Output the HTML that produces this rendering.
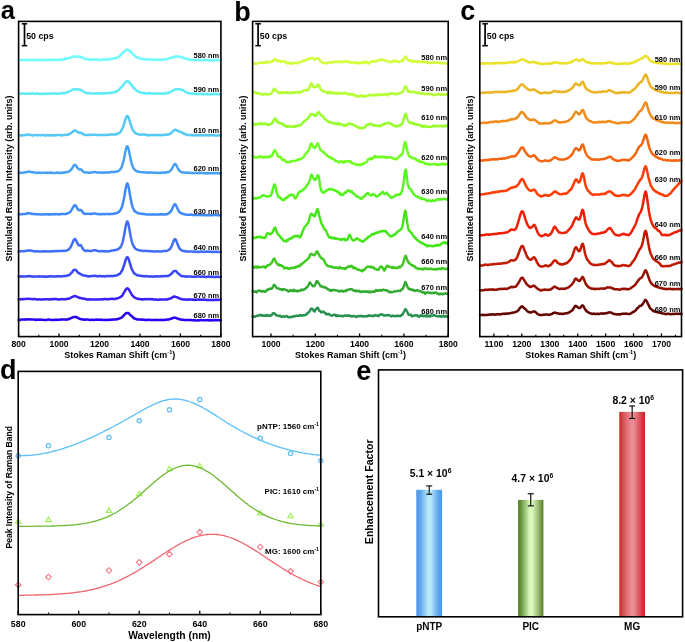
<!DOCTYPE html>
<html><head><meta charset="utf-8"><style>
html,body{margin:0;padding:0;background:#fff;width:685px;height:642px;overflow:hidden}
svg{display:block;will-change:transform;font-family:"Liberation Sans", sans-serif}
</style></head><body>
<svg width="685" height="642" viewBox="0 0 685 642">
<rect width="685" height="642" fill="#fff"/>
<g fill="none" stroke-linejoin="round" stroke-linecap="round">
<path d="M18.6,60.1 L19.1,60.0 L19.6,60.0 L20.1,59.9 L20.6,60.0 L21.1,59.9 L21.6,59.9 L22.1,59.9 L22.6,59.9 L23.1,59.9 L23.6,60.0 L24.1,60.0 L24.6,59.9 L25.1,59.9 L25.6,60.0 L26.1,60.0 L26.6,60.0 L27.1,59.9 L27.6,59.9 L28.1,59.9 L28.6,60.0 L29.1,60.1 L29.6,60.2 L30.1,60.1 L30.6,59.8 L31.1,59.7 L31.6,59.9 L32.1,60.0 L32.6,60.0 L33.1,60.1 L33.6,60.1 L34.1,59.9 L34.6,59.9 L35.1,60.1 L35.6,60.1 L36.1,60.0 L36.6,59.9 L37.1,59.8 L37.6,59.9 L38.1,60.0 L38.6,59.9 L39.1,60.0 L39.6,60.0 L40.1,60.0 L40.6,60.0 L41.1,60.0 L41.6,60.0 L42.1,60.0 L42.6,60.1 L43.1,60.1 L43.6,60.0 L44.1,60.0 L44.6,60.0 L45.1,60.1 L45.6,60.1 L46.1,60.1 L46.6,60.1 L47.1,60.0 L47.6,59.9 L48.1,59.9 L48.6,59.9 L49.1,59.9 L49.6,59.8 L50.1,59.7 L50.6,59.8 L51.1,59.8 L51.6,59.9 L52.1,59.8 L52.7,59.7 L53.2,59.9 L53.7,59.9 L54.2,59.8 L54.7,59.8 L55.2,59.9 L55.7,60.0 L56.2,60.0 L56.7,59.8 L57.2,59.7 L57.7,59.8 L58.2,59.9 L58.7,59.9 L59.2,59.8 L59.7,59.6 L60.2,59.6 L60.7,59.7 L61.2,59.7 L61.7,59.6 L62.2,59.5 L62.7,59.5 L63.2,59.5 L63.7,59.5 L64.2,59.3 L64.7,59.2 L65.2,59.1 L65.7,59.0 L66.2,58.7 L66.7,58.7 L67.2,58.6 L67.7,58.4 L68.2,58.3 L68.7,58.3 L69.2,58.1 L69.7,57.9 L70.2,57.9 L70.7,57.7 L71.2,57.4 L71.7,57.1 L72.2,56.9 L72.7,56.9 L73.2,56.7 L73.7,56.5 L74.2,56.5 L74.7,56.5 L75.2,56.5 L75.7,56.5 L76.2,56.5 L76.7,56.5 L77.2,56.6 L77.7,56.6 L78.2,56.8 L78.7,56.8 L79.2,56.5 L79.7,56.5 L80.2,56.9 L80.7,57.1 L81.2,57.0 L81.7,57.1 L82.2,57.4 L82.7,57.7 L83.2,58.0 L83.7,58.4 L84.2,58.6 L84.7,58.9 L85.2,59.0 L85.7,59.1 L86.2,59.2 L86.7,59.3 L87.2,59.3 L87.7,59.4 L88.2,59.3 L88.7,59.5 L89.2,59.6 L89.7,59.6 L90.2,59.6 L90.7,59.6 L91.2,59.5 L91.7,59.6 L92.2,59.7 L92.7,59.7 L93.2,59.6 L93.7,59.7 L94.2,59.6 L94.7,59.6 L95.2,59.7 L95.7,59.8 L96.2,59.8 L96.7,59.7 L97.2,59.6 L97.7,59.6 L98.2,59.7 L98.7,59.8 L99.2,59.7 L99.7,59.7 L100.2,59.8 L100.7,59.9 L101.2,59.9 L101.7,59.9 L102.2,59.7 L102.7,59.5 L103.2,59.5 L103.7,59.6 L104.2,59.5 L104.7,59.5 L105.2,59.4 L105.7,59.3 L106.2,59.4 L106.7,59.4 L107.2,59.4 L107.7,59.4 L108.2,59.5 L108.7,59.4 L109.2,59.2 L109.7,59.2 L110.2,59.3 L110.7,59.1 L111.2,58.8 L111.7,58.7 L112.2,58.7 L112.7,58.6 L113.2,58.6 L113.7,58.6 L114.2,58.6 L114.7,58.4 L115.2,58.1 L115.7,57.9 L116.2,57.8 L116.7,57.8 L117.2,57.6 L117.7,57.2 L118.2,56.9 L118.7,56.8 L119.2,56.4 L119.8,55.8 L120.3,55.3 L120.8,54.8 L121.3,54.2 L121.8,53.8 L122.3,53.4 L122.8,52.8 L123.3,52.3 L123.8,51.8 L124.3,51.3 L124.8,50.9 L125.3,50.5 L125.8,50.1 L126.3,49.8 L126.8,49.7 L127.3,49.6 L127.8,49.8 L128.3,50.0 L128.8,50.2 L129.3,50.6 L129.8,51.0 L130.3,51.4 L130.8,51.8 L131.3,52.3 L131.8,52.9 L132.3,53.4 L132.8,53.8 L133.3,54.3 L133.8,54.9 L134.3,55.4 L134.8,55.7 L135.3,56.0 L135.8,56.5 L136.3,56.9 L136.8,57.1 L137.3,57.4 L137.8,57.6 L138.3,57.7 L138.8,58.0 L139.3,58.2 L139.8,58.3 L140.3,58.4 L140.8,58.7 L141.3,58.7 L141.8,58.7 L142.3,58.9 L142.8,59.0 L143.3,59.1 L143.8,59.1 L144.3,59.2 L144.8,59.2 L145.3,59.2 L145.8,59.3 L146.3,59.2 L146.8,59.3 L147.3,59.4 L147.8,59.5 L148.3,59.5 L148.8,59.5 L149.3,59.5 L149.8,59.4 L150.3,59.5 L150.8,59.6 L151.3,59.6 L151.8,59.6 L152.3,59.7 L152.8,59.7 L153.3,59.6 L153.8,59.7 L154.3,59.6 L154.8,59.7 L155.3,59.9 L155.8,59.8 L156.3,59.7 L156.8,59.9 L157.3,59.7 L157.8,59.7 L158.3,59.8 L158.8,59.8 L159.3,59.7 L159.8,59.7 L160.3,59.7 L160.8,59.7 L161.3,59.7 L161.8,59.7 L162.3,59.5 L162.8,59.4 L163.3,59.4 L163.8,59.5 L164.3,59.5 L164.8,59.5 L165.3,59.3 L165.8,59.1 L166.3,59.0 L166.8,58.9 L167.3,58.9 L167.8,58.9 L168.3,58.6 L168.8,58.4 L169.3,58.2 L169.8,58.2 L170.3,58.1 L170.8,58.0 L171.3,57.9 L171.8,57.7 L172.3,57.5 L172.8,57.4 L173.3,57.2 L173.8,57.0 L174.3,56.9 L174.8,56.7 L175.3,56.5 L175.8,56.5 L176.3,56.4 L176.8,56.4 L177.3,56.4 L177.8,56.5 L178.3,56.7 L178.8,56.7 L179.3,56.6 L179.8,56.7 L180.3,56.8 L180.8,57.0 L181.3,57.0 L181.8,57.2 L182.3,57.5 L182.8,57.7 L183.3,58.0 L183.8,58.1 L184.3,58.2 L184.8,58.3 L185.3,58.4 L185.8,58.7 L186.3,58.9 L186.8,59.1 L187.4,59.2 L187.9,59.1 L188.4,59.3 L188.9,59.4 L189.4,59.5 L189.9,59.5 L190.4,59.7 L190.9,59.8 L191.4,59.9 L191.9,59.8 L192.4,59.8 L192.9,59.8 L193.4,60.0 L193.9,59.9 L194.4,59.9 L194.9,60.0 L195.4,60.1 L195.9,60.1 L196.4,60.0 L196.9,60.0 L197.4,60.0 L197.9,60.1 L198.4,60.1 L198.9,60.2 L199.4,60.2 L199.9,60.1 L200.4,60.1 L200.9,60.2 L201.4,60.3 L201.9,60.2 L202.4,60.0 L202.9,60.1 L203.4,60.3 L203.9,60.2 L204.4,59.9 L204.9,60.0 L205.4,60.1 L205.9,60.0 L206.4,60.0 L206.9,60.2 L207.4,60.2 L207.9,60.2 L208.4,60.3 L208.9,60.4 L209.4,60.4 L209.9,60.3 L210.4,60.3 L210.9,60.2 L211.4,60.3 L211.9,60.4 L212.4,60.4 L212.9,60.3 L213.4,60.3 L213.9,60.4 L214.4,60.4 L214.9,60.3 L215.4,60.2 L215.9,60.0 L216.4,60.0 L216.9,60.1 L217.4,60.2 L217.9,60.2 L218.4,60.2 L218.9,60.2 L219.4,60.1 L219.9,60.4 L220.4,60.5 L220.9,60.3" stroke="#6ffcfd" stroke-width="2.50"/>
<path d="M18.6,93.6 L19.1,93.6 L19.6,93.7 L20.1,93.7 L20.6,93.7 L21.1,93.7 L21.6,93.6 L22.1,93.6 L22.6,93.6 L23.1,93.7 L23.6,93.8 L24.1,93.8 L24.6,93.7 L25.1,93.7 L25.6,93.8 L26.1,93.7 L26.6,93.7 L27.1,93.8 L27.6,93.7 L28.1,93.7 L28.6,93.5 L29.1,93.5 L29.6,93.6 L30.1,93.8 L30.6,93.7 L31.1,93.5 L31.6,93.5 L32.1,93.6 L32.6,93.6 L33.1,93.5 L33.6,93.5 L34.1,93.6 L34.6,93.7 L35.1,93.7 L35.6,93.8 L36.1,93.8 L36.6,93.7 L37.1,93.6 L37.6,93.6 L38.1,93.6 L38.6,93.7 L39.1,93.9 L39.6,94.0 L40.1,93.9 L40.6,93.8 L41.1,93.8 L41.6,93.8 L42.1,93.9 L42.6,93.9 L43.1,93.8 L43.6,94.0 L44.1,93.8 L44.6,93.7 L45.1,93.8 L45.6,93.8 L46.1,93.8 L46.6,93.7 L47.1,93.8 L47.6,93.8 L48.1,93.9 L48.6,93.8 L49.1,93.6 L49.6,93.5 L50.1,93.5 L50.6,93.6 L51.1,93.6 L51.6,93.5 L52.1,93.5 L52.7,93.6 L53.2,93.6 L53.7,93.4 L54.2,93.4 L54.7,93.5 L55.2,93.5 L55.7,93.6 L56.2,93.8 L56.7,93.8 L57.2,93.6 L57.7,93.6 L58.2,93.7 L58.7,93.7 L59.2,93.5 L59.7,93.4 L60.2,93.5 L60.7,93.6 L61.2,93.6 L61.7,93.3 L62.2,93.2 L62.7,93.1 L63.2,93.0 L63.7,92.9 L64.2,93.0 L64.7,92.9 L65.2,93.0 L65.7,92.8 L66.2,92.5 L66.7,92.3 L67.2,92.2 L67.7,92.2 L68.2,92.0 L68.7,91.8 L69.2,91.6 L69.7,91.3 L70.2,90.9 L70.7,90.7 L71.2,90.4 L71.7,90.1 L72.2,89.8 L72.7,89.7 L73.2,89.6 L73.7,89.5 L74.2,89.3 L74.7,89.2 L75.2,89.1 L75.7,89.2 L76.2,89.4 L76.7,89.3 L77.2,89.4 L77.7,89.4 L78.2,89.4 L78.7,89.5 L79.2,89.6 L79.7,89.7 L80.2,89.8 L80.7,89.9 L81.2,90.2 L81.7,90.6 L82.2,91.0 L82.7,91.3 L83.2,91.5 L83.7,91.8 L84.2,92.0 L84.7,92.2 L85.2,92.5 L85.7,92.8 L86.2,92.9 L86.7,93.1 L87.2,93.2 L87.7,93.2 L88.2,93.1 L88.7,93.0 L89.2,93.2 L89.7,93.4 L90.2,93.5 L90.7,93.6 L91.2,93.6 L91.7,93.6 L92.2,93.6 L92.7,93.5 L93.2,93.5 L93.7,93.4 L94.2,93.4 L94.7,93.4 L95.2,93.5 L95.7,93.5 L96.2,93.4 L96.7,93.4 L97.2,93.4 L97.7,93.4 L98.2,93.3 L98.7,93.2 L99.2,93.4 L99.7,93.3 L100.2,93.3 L100.7,93.4 L101.2,93.4 L101.7,93.4 L102.2,93.5 L102.7,93.5 L103.2,93.3 L103.7,93.2 L104.2,93.3 L104.7,93.3 L105.2,93.4 L105.7,93.4 L106.2,93.3 L106.7,93.1 L107.2,92.9 L107.7,93.0 L108.2,93.2 L108.7,93.2 L109.2,93.1 L109.7,93.0 L110.2,93.0 L110.7,92.9 L111.2,92.8 L111.7,92.6 L112.2,92.6 L112.7,92.6 L113.2,92.6 L113.7,92.6 L114.2,92.4 L114.7,92.2 L115.2,91.9 L115.7,91.5 L116.2,91.4 L116.7,91.4 L117.2,91.0 L117.7,90.6 L118.2,90.3 L118.7,90.0 L119.2,89.5 L119.8,88.8 L120.3,88.2 L120.8,87.7 L121.3,87.2 L121.8,86.7 L122.3,86.1 L122.8,85.5 L123.3,84.8 L123.8,84.4 L124.3,83.6 L124.8,82.9 L125.3,82.4 L125.8,81.9 L126.3,81.5 L126.8,81.3 L127.3,81.3 L127.8,81.4 L128.3,81.5 L128.8,81.7 L129.3,82.3 L129.8,82.9 L130.3,83.5 L130.8,84.1 L131.3,84.9 L131.8,85.5 L132.3,86.1 L132.8,86.7 L133.3,87.4 L133.8,87.9 L134.3,88.4 L134.8,88.9 L135.3,89.3 L135.8,89.9 L136.3,90.4 L136.8,90.7 L137.3,91.1 L137.8,91.4 L138.3,91.5 L138.8,91.7 L139.3,92.0 L139.8,92.2 L140.3,92.4 L140.8,92.6 L141.3,92.5 L141.8,92.7 L142.3,92.9 L142.8,93.0 L143.3,93.0 L143.8,92.9 L144.3,93.0 L144.8,93.1 L145.3,93.2 L145.8,93.5 L146.3,93.5 L146.8,93.5 L147.3,93.4 L147.8,93.3 L148.3,93.3 L148.8,93.4 L149.3,93.3 L149.8,93.3 L150.3,93.3 L150.8,93.4 L151.3,93.5 L151.8,93.4 L152.3,93.5 L152.8,93.7 L153.3,93.7 L153.8,93.5 L154.3,93.4 L154.8,93.4 L155.3,93.6 L155.8,93.7 L156.3,93.6 L156.8,93.6 L157.3,93.4 L157.8,93.4 L158.3,93.5 L158.8,93.5 L159.3,93.5 L159.8,93.5 L160.3,93.6 L160.8,93.6 L161.3,93.6 L161.8,93.7 L162.3,93.7 L162.8,93.7 L163.3,93.6 L163.8,93.6 L164.3,93.6 L164.8,93.5 L165.3,93.4 L165.8,93.4 L166.3,93.3 L166.8,93.2 L167.3,93.0 L167.8,92.8 L168.3,92.9 L168.8,92.8 L169.3,92.6 L169.8,92.3 L170.3,92.1 L170.8,91.8 L171.3,91.5 L171.8,91.2 L172.3,91.0 L172.8,90.7 L173.3,90.4 L173.8,90.1 L174.3,90.0 L174.8,89.7 L175.3,89.5 L175.8,89.4 L176.3,89.4 L176.8,89.3 L177.3,89.3 L177.8,89.2 L178.3,89.2 L178.8,89.1 L179.3,89.2 L179.8,89.4 L180.3,89.4 L180.8,89.5 L181.3,89.7 L181.8,89.9 L182.3,90.0 L182.8,90.1 L183.3,90.5 L183.8,90.8 L184.3,91.0 L184.8,91.4 L185.3,91.7 L185.8,92.0 L186.3,92.2 L186.8,92.5 L187.4,92.8 L187.9,93.0 L188.4,93.1 L188.9,93.2 L189.4,93.3 L189.9,93.3 L190.4,93.4 L190.9,93.6 L191.4,93.7 L191.9,93.7 L192.4,93.7 L192.9,93.6 L193.4,93.5 L193.9,93.7 L194.4,93.8 L194.9,93.8 L195.4,93.9 L195.9,94.0 L196.4,94.0 L196.9,94.0 L197.4,94.1 L197.9,94.1 L198.4,93.9 L198.9,93.8 L199.4,94.0 L199.9,93.9 L200.4,93.9 L200.9,94.1 L201.4,94.2 L201.9,94.0 L202.4,94.0 L202.9,94.1 L203.4,94.4 L203.9,94.4 L204.4,94.2 L204.9,94.0 L205.4,93.9 L205.9,93.9 L206.4,94.1 L206.9,94.3 L207.4,94.3 L207.9,94.1 L208.4,94.1 L208.9,94.2 L209.4,94.2 L209.9,94.3 L210.4,94.4 L210.9,94.5 L211.4,94.3 L211.9,94.1 L212.4,93.9 L212.9,94.1 L213.4,94.2 L213.9,94.2 L214.4,94.1 L214.9,94.1 L215.4,94.0 L215.9,94.0 L216.4,94.1 L216.9,94.2 L217.4,94.1 L217.9,94.2 L218.4,94.2 L218.9,94.2 L219.4,94.2 L219.9,94.3 L220.4,94.3 L220.9,94.3" stroke="#5eebf8" stroke-width="2.50"/>
<path d="M18.6,135.2 L19.1,135.3 L19.6,135.3 L20.1,135.3 L20.6,135.4 L21.1,135.5 L21.6,135.4 L22.1,135.3 L22.6,135.3 L23.1,135.3 L23.6,135.2 L24.1,135.2 L24.6,135.1 L25.1,135.0 L25.6,134.9 L26.1,134.9 L26.6,134.9 L27.1,134.7 L27.6,134.5 L28.1,134.6 L28.6,134.6 L29.1,134.7 L29.6,134.9 L30.1,135.0 L30.6,135.1 L31.1,135.0 L31.6,135.1 L32.1,135.2 L32.6,135.4 L33.1,135.4 L33.6,135.4 L34.1,135.3 L34.6,135.1 L35.1,135.0 L35.6,134.9 L36.1,135.0 L36.6,135.1 L37.1,135.2 L37.6,135.4 L38.1,135.4 L38.6,135.2 L39.1,135.1 L39.6,135.1 L40.1,135.1 L40.6,135.2 L41.1,135.2 L41.6,135.2 L42.1,135.0 L42.6,134.9 L43.1,135.0 L43.6,135.2 L44.1,135.3 L44.6,135.4 L45.1,135.4 L45.6,135.4 L46.1,135.3 L46.6,135.2 L47.1,135.1 L47.6,135.1 L48.1,135.3 L48.6,135.4 L49.1,135.3 L49.6,135.3 L50.1,135.4 L50.6,135.4 L51.1,135.3 L51.6,135.3 L52.1,135.4 L52.7,135.3 L53.2,135.1 L53.7,135.1 L54.2,135.2 L54.7,135.2 L55.2,135.4 L55.7,135.3 L56.2,135.2 L56.7,135.0 L57.2,135.0 L57.7,135.0 L58.2,135.1 L58.7,135.0 L59.2,134.9 L59.7,134.9 L60.2,135.1 L60.7,135.4 L61.2,135.4 L61.7,135.2 L62.2,135.2 L62.7,135.3 L63.2,135.2 L63.7,135.0 L64.2,134.9 L64.7,134.8 L65.2,134.8 L65.7,134.9 L66.2,134.9 L66.7,134.7 L67.2,134.7 L67.7,134.7 L68.2,134.7 L68.7,134.5 L69.2,134.1 L69.7,133.8 L70.2,133.5 L70.7,133.3 L71.2,132.9 L71.7,132.6 L72.2,132.2 L72.7,131.7 L73.2,131.1 L73.7,130.8 L74.2,130.7 L74.7,130.6 L75.2,130.7 L75.7,130.8 L76.2,130.9 L76.7,131.3 L77.2,131.7 L77.7,132.0 L78.2,132.4 L78.7,132.6 L79.2,132.7 L79.7,132.6 L80.2,132.7 L80.7,132.9 L81.2,133.0 L81.7,133.1 L82.2,133.5 L82.7,133.8 L83.2,134.2 L83.7,134.5 L84.2,134.6 L84.7,134.8 L85.2,134.9 L85.7,135.0 L86.2,135.0 L86.7,134.9 L87.2,135.0 L87.7,134.9 L88.2,134.8 L88.7,134.8 L89.2,134.8 L89.7,135.0 L90.2,135.1 L90.7,135.0 L91.2,134.8 L91.7,134.7 L92.2,134.7 L92.7,134.7 L93.2,134.7 L93.7,134.7 L94.2,134.8 L94.7,134.7 L95.2,134.8 L95.7,134.8 L96.2,134.8 L96.7,134.9 L97.2,135.1 L97.7,135.0 L98.2,135.0 L98.7,135.2 L99.2,135.2 L99.7,135.1 L100.2,135.1 L100.7,135.1 L101.2,135.1 L101.7,135.0 L102.2,135.1 L102.7,135.1 L103.2,135.0 L103.7,135.0 L104.2,134.9 L104.7,134.8 L105.2,134.9 L105.7,134.9 L106.2,134.9 L106.7,135.0 L107.2,135.0 L107.7,134.9 L108.2,134.8 L108.7,134.8 L109.2,134.7 L109.7,134.7 L110.2,134.6 L110.7,134.5 L111.2,134.4 L111.7,134.4 L112.2,134.3 L112.7,134.5 L113.2,134.5 L113.7,134.5 L114.2,134.6 L114.7,134.6 L115.2,134.4 L115.7,134.2 L116.2,134.2 L116.7,134.2 L117.2,133.9 L117.7,133.7 L118.2,133.4 L118.7,133.2 L119.2,133.0 L119.8,132.7 L120.3,132.2 L120.8,131.4 L121.3,130.5 L121.8,129.7 L122.3,128.7 L122.8,127.6 L123.3,126.3 L123.8,124.8 L124.3,123.0 L124.8,121.3 L125.3,119.7 L125.8,118.2 L126.3,117.0 L126.8,116.1 L127.3,115.9 L127.8,116.2 L128.3,117.1 L128.8,118.3 L129.3,119.9 L129.8,121.5 L130.3,123.1 L130.8,124.7 L131.3,126.3 L131.8,127.6 L132.3,128.8 L132.8,129.8 L133.3,130.7 L133.8,131.3 L134.3,131.9 L134.8,132.5 L135.3,133.0 L135.8,133.3 L136.3,133.4 L136.8,133.6 L137.3,133.9 L137.8,134.1 L138.3,134.3 L138.8,134.3 L139.3,134.3 L139.8,134.5 L140.3,134.8 L140.8,134.7 L141.3,134.6 L141.8,134.6 L142.3,134.5 L142.8,134.5 L143.3,134.5 L143.8,134.6 L144.3,134.6 L144.8,134.6 L145.3,134.7 L145.8,134.7 L146.3,134.8 L146.8,134.9 L147.3,135.2 L147.8,135.3 L148.3,135.3 L148.8,135.4 L149.3,135.3 L149.8,135.2 L150.3,135.1 L150.8,135.1 L151.3,135.1 L151.8,135.1 L152.3,135.1 L152.8,135.2 L153.3,135.2 L153.8,135.0 L154.3,135.0 L154.8,135.1 L155.3,135.0 L155.8,135.0 L156.3,135.2 L156.8,135.2 L157.3,135.0 L157.8,135.0 L158.3,135.0 L158.8,134.9 L159.3,135.0 L159.8,135.2 L160.3,135.2 L160.8,135.2 L161.3,134.9 L161.8,134.9 L162.3,135.0 L162.8,135.0 L163.3,134.9 L163.8,134.9 L164.3,134.8 L164.8,134.9 L165.3,134.7 L165.8,134.7 L166.3,134.8 L166.8,134.7 L167.3,134.6 L167.8,134.6 L168.3,134.4 L168.8,134.3 L169.3,134.1 L169.8,134.0 L170.3,133.8 L170.8,133.4 L171.3,132.9 L171.8,132.4 L172.3,131.9 L172.8,131.3 L173.3,130.9 L173.8,130.4 L174.3,129.9 L174.8,129.9 L175.3,129.8 L175.8,129.8 L176.3,130.1 L176.8,130.5 L177.3,130.8 L177.8,130.9 L178.3,131.1 L178.8,131.3 L179.3,131.5 L179.8,131.6 L180.3,131.8 L180.8,131.9 L181.3,132.1 L181.8,132.4 L182.3,132.9 L182.8,133.1 L183.3,133.3 L183.8,133.7 L184.3,133.8 L184.8,134.0 L185.3,134.2 L185.8,134.4 L186.3,134.7 L186.8,134.9 L187.4,134.9 L187.9,134.9 L188.4,134.9 L188.9,135.0 L189.4,135.1 L189.9,135.1 L190.4,135.1 L190.9,135.1 L191.4,135.2 L191.9,135.1 L192.4,135.2 L192.9,135.3 L193.4,135.1 L193.9,135.1 L194.4,135.2 L194.9,135.2 L195.4,135.3 L195.9,135.2 L196.4,135.2 L196.9,135.1 L197.4,135.1 L197.9,135.3 L198.4,135.4 L198.9,135.3 L199.4,135.3 L199.9,135.2 L200.4,135.2 L200.9,135.4 L201.4,135.4 L201.9,135.3 L202.4,135.3 L202.9,135.3 L203.4,135.3 L203.9,135.4 L204.4,135.3 L204.9,135.2 L205.4,135.1 L205.9,135.1 L206.4,135.1 L206.9,135.2 L207.4,135.3 L207.9,135.4 L208.4,135.3 L208.9,135.3 L209.4,135.3 L209.9,135.2 L210.4,135.3 L210.9,135.4 L211.4,135.2 L211.9,135.1 L212.4,135.0 L212.9,135.2 L213.4,135.3 L213.9,135.2 L214.4,135.3 L214.9,135.5 L215.4,135.6 L215.9,135.5 L216.4,135.4 L216.9,135.5 L217.4,135.6 L217.9,135.4 L218.4,135.3 L218.9,135.3 L219.4,135.3 L219.9,135.4 L220.4,135.4 L220.9,135.3" stroke="#55c8f5" stroke-width="2.50"/>
<path d="M18.6,172.8 L19.1,172.9 L19.6,172.9 L20.1,172.9 L20.6,172.8 L21.1,172.7 L21.6,172.7 L22.1,172.7 L22.6,172.7 L23.1,172.7 L23.6,172.6 L24.1,172.5 L24.6,172.3 L25.1,172.3 L25.6,172.2 L26.1,172.1 L26.6,172.0 L27.1,171.9 L27.6,171.9 L28.1,171.8 L28.6,171.6 L29.1,171.7 L29.6,171.6 L30.1,171.8 L30.6,172.0 L31.1,172.1 L31.6,172.1 L32.1,172.3 L32.6,172.2 L33.1,172.1 L33.6,172.2 L34.1,172.3 L34.6,172.6 L35.1,172.8 L35.6,172.8 L36.1,172.8 L36.6,172.7 L37.1,172.8 L37.6,172.9 L38.1,172.8 L38.6,172.7 L39.1,172.6 L39.6,172.7 L40.1,172.9 L40.6,173.0 L41.1,172.9 L41.6,172.7 L42.1,172.8 L42.6,172.8 L43.1,172.8 L43.6,172.7 L44.1,172.7 L44.6,172.7 L45.1,172.7 L45.6,172.7 L46.1,172.7 L46.6,172.6 L47.1,172.9 L47.6,172.9 L48.1,172.7 L48.6,172.8 L49.1,172.9 L49.6,172.8 L50.1,172.7 L50.6,172.6 L51.1,172.6 L51.6,172.8 L52.1,172.8 L52.7,172.9 L53.2,172.9 L53.7,173.0 L54.2,172.9 L54.7,173.0 L55.2,173.0 L55.7,172.9 L56.2,172.8 L56.7,172.7 L57.2,172.6 L57.7,172.7 L58.2,172.9 L58.7,172.8 L59.2,172.8 L59.7,172.9 L60.2,172.9 L60.7,172.9 L61.2,172.8 L61.7,172.8 L62.2,172.8 L62.7,172.8 L63.2,172.8 L63.7,172.6 L64.2,172.6 L64.7,172.6 L65.2,172.4 L65.7,172.3 L66.2,172.3 L66.7,172.1 L67.2,171.9 L67.7,171.9 L68.2,172.0 L68.7,171.7 L69.2,171.3 L69.7,170.8 L70.2,170.5 L70.7,170.1 L71.2,169.5 L71.7,168.9 L72.2,168.2 L72.7,167.4 L73.2,166.6 L73.7,165.7 L74.2,165.1 L74.7,164.9 L75.2,165.0 L75.7,165.3 L76.2,166.0 L76.7,166.7 L77.2,167.4 L77.7,168.2 L78.2,168.7 L78.7,169.2 L79.2,169.5 L79.7,169.4 L80.2,169.3 L80.7,169.4 L81.2,169.6 L81.7,170.0 L82.2,170.6 L82.7,171.2 L83.2,171.7 L83.7,172.0 L84.2,172.2 L84.7,172.3 L85.2,172.5 L85.7,172.5 L86.2,172.5 L86.7,172.6 L87.2,172.5 L87.7,172.5 L88.2,172.5 L88.7,172.7 L89.2,172.8 L89.7,172.7 L90.2,172.7 L90.7,172.6 L91.2,172.6 L91.7,172.6 L92.2,172.4 L92.7,172.3 L93.2,172.2 L93.7,172.1 L94.2,172.1 L94.7,172.1 L95.2,172.0 L95.7,172.1 L96.2,172.3 L96.7,172.3 L97.2,172.5 L97.7,172.5 L98.2,172.6 L98.7,172.6 L99.2,172.6 L99.7,172.7 L100.2,172.7 L100.7,172.6 L101.2,172.6 L101.7,172.5 L102.2,172.5 L102.7,172.5 L103.2,172.7 L103.7,172.8 L104.2,172.8 L104.7,172.6 L105.2,172.6 L105.7,172.5 L106.2,172.3 L106.7,172.3 L107.2,172.5 L107.7,172.5 L108.2,172.3 L108.7,172.4 L109.2,172.4 L109.7,172.3 L110.2,172.2 L110.7,172.2 L111.2,172.1 L111.7,172.1 L112.2,172.1 L112.7,172.1 L113.2,172.1 L113.7,172.0 L114.2,171.9 L114.7,171.9 L115.2,171.7 L115.7,171.7 L116.2,171.6 L116.7,171.5 L117.2,171.4 L117.7,171.3 L118.2,171.1 L118.7,170.8 L119.2,170.4 L119.8,169.9 L120.3,169.3 L120.8,168.5 L121.3,167.6 L121.8,166.6 L122.3,165.2 L122.8,163.5 L123.3,161.7 L123.8,159.7 L124.3,157.3 L124.8,154.7 L125.3,152.2 L125.8,150.0 L126.3,147.9 L126.8,146.5 L127.3,146.3 L127.8,146.8 L128.3,148.0 L128.8,150.0 L129.3,152.5 L129.8,155.1 L130.3,157.5 L130.8,159.8 L131.3,162.0 L131.8,164.0 L132.3,165.6 L132.8,166.8 L133.3,167.9 L133.8,168.6 L134.3,169.2 L134.8,169.9 L135.3,170.3 L135.8,170.6 L136.3,170.9 L136.8,171.3 L137.3,171.5 L137.8,171.6 L138.3,171.6 L138.8,171.8 L139.3,171.8 L139.8,172.0 L140.3,172.0 L140.8,172.2 L141.3,172.2 L141.8,172.3 L142.3,172.3 L142.8,172.3 L143.3,172.2 L143.8,172.1 L144.3,172.2 L144.8,172.5 L145.3,172.4 L145.8,172.4 L146.3,172.5 L146.8,172.6 L147.3,172.6 L147.8,172.7 L148.3,172.7 L148.8,172.6 L149.3,172.6 L149.8,172.6 L150.3,172.7 L150.8,172.6 L151.3,172.6 L151.8,172.6 L152.3,172.6 L152.8,172.7 L153.3,172.7 L153.8,172.7 L154.3,172.7 L154.8,172.7 L155.3,172.8 L155.8,172.8 L156.3,172.7 L156.8,172.8 L157.3,172.9 L157.8,172.8 L158.3,172.7 L158.8,172.9 L159.3,172.9 L159.8,172.8 L160.3,172.8 L160.8,172.9 L161.3,172.8 L161.8,172.7 L162.3,172.7 L162.8,172.5 L163.3,172.6 L163.8,172.7 L164.3,172.6 L164.8,172.6 L165.3,172.7 L165.8,172.6 L166.3,172.4 L166.8,172.3 L167.3,172.2 L167.8,171.9 L168.3,171.9 L168.8,171.9 L169.3,171.6 L169.8,171.2 L170.3,170.9 L170.8,170.3 L171.3,169.6 L171.8,168.8 L172.3,167.9 L172.8,167.0 L173.3,166.0 L173.8,165.2 L174.3,164.5 L174.8,164.0 L175.3,164.0 L175.8,164.6 L176.3,165.3 L176.8,166.3 L177.3,167.3 L177.8,168.3 L178.3,169.1 L178.8,169.8 L179.3,170.5 L179.8,171.1 L180.3,171.5 L180.8,171.8 L181.3,171.9 L181.8,172.1 L182.3,172.4 L182.8,172.5 L183.3,172.6 L183.8,172.5 L184.3,172.5 L184.8,172.7 L185.3,172.8 L185.8,172.7 L186.3,172.7 L186.8,172.7 L187.4,172.8 L187.9,172.8 L188.4,172.6 L188.9,172.7 L189.4,172.9 L189.9,172.9 L190.4,172.9 L190.9,172.8 L191.4,172.9 L191.9,172.9 L192.4,172.9 L192.9,173.1 L193.4,173.1 L193.9,173.0 L194.4,173.0 L194.9,173.0 L195.4,173.0 L195.9,173.1 L196.4,173.1 L196.9,173.1 L197.4,173.0 L197.9,173.2 L198.4,173.2 L198.9,173.1 L199.4,172.8 L199.9,172.8 L200.4,173.0 L200.9,173.0 L201.4,173.0 L201.9,173.1 L202.4,173.1 L202.9,173.1 L203.4,173.2 L203.9,173.3 L204.4,173.3 L204.9,173.3 L205.4,173.2 L205.9,173.3 L206.4,173.4 L206.9,173.2 L207.4,173.3 L207.9,173.4 L208.4,173.3 L208.9,173.3 L209.4,173.3 L209.9,173.3 L210.4,173.2 L210.9,173.1 L211.4,173.2 L211.9,173.2 L212.4,173.3 L212.9,173.3 L213.4,173.1 L213.9,173.0 L214.4,173.2 L214.9,173.3 L215.4,173.2 L215.9,173.1 L216.4,173.0 L216.9,173.1 L217.4,173.2 L217.9,173.2 L218.4,173.1 L218.9,173.3 L219.4,173.4 L219.9,173.4 L220.4,173.3 L220.9,173.2" stroke="#46a0f5" stroke-width="2.50"/>
<path d="M18.6,214.3 L19.1,214.2 L19.6,214.2 L20.1,214.3 L20.6,214.3 L21.1,214.3 L21.6,214.3 L22.1,214.3 L22.6,214.2 L23.1,214.1 L23.6,214.1 L24.1,214.0 L24.6,214.0 L25.1,214.1 L25.6,214.0 L26.1,213.8 L26.6,213.7 L27.1,213.4 L27.6,213.1 L28.1,213.1 L28.6,213.2 L29.1,213.3 L29.6,213.4 L30.1,213.5 L30.6,213.6 L31.1,213.6 L31.6,213.8 L32.1,214.1 L32.6,214.1 L33.1,213.9 L33.6,213.8 L34.1,214.0 L34.6,214.1 L35.1,214.2 L35.6,214.2 L36.1,214.2 L36.6,214.2 L37.1,214.2 L37.6,214.2 L38.1,214.2 L38.6,214.3 L39.1,214.3 L39.6,214.3 L40.1,214.5 L40.6,214.6 L41.1,214.5 L41.6,214.3 L42.1,214.2 L42.6,214.3 L43.1,214.4 L43.6,214.5 L44.1,214.4 L44.6,214.3 L45.1,214.3 L45.6,214.4 L46.1,214.3 L46.6,214.1 L47.1,214.2 L47.6,214.2 L48.1,214.3 L48.6,214.4 L49.1,214.3 L49.6,214.3 L50.1,214.5 L50.6,214.4 L51.1,214.3 L51.6,214.3 L52.1,214.3 L52.7,214.3 L53.2,214.4 L53.7,214.4 L54.2,214.2 L54.7,214.1 L55.2,214.2 L55.7,214.3 L56.2,214.2 L56.7,214.2 L57.2,214.2 L57.7,214.2 L58.2,214.2 L58.7,214.3 L59.2,214.4 L59.7,214.4 L60.2,214.3 L60.7,214.2 L61.2,213.9 L61.7,213.9 L62.2,214.0 L62.7,214.0 L63.2,213.9 L63.7,213.9 L64.2,213.9 L64.7,214.0 L65.2,214.0 L65.7,213.9 L66.2,213.8 L66.7,213.6 L67.2,213.5 L67.7,213.4 L68.2,213.2 L68.7,212.9 L69.2,212.6 L69.7,212.3 L70.2,211.8 L70.7,211.1 L71.2,210.5 L71.7,209.7 L72.2,208.8 L72.7,207.9 L73.2,207.0 L73.7,206.2 L74.2,205.6 L74.7,205.2 L75.2,205.2 L75.7,205.7 L76.2,206.4 L76.7,207.3 L77.2,208.4 L77.7,209.0 L78.2,209.5 L78.7,210.0 L79.2,210.2 L79.7,210.3 L80.2,210.2 L80.7,210.0 L81.2,210.2 L81.7,210.7 L82.2,211.5 L82.7,212.4 L83.2,213.0 L83.7,213.4 L84.2,213.5 L84.7,213.6 L85.2,213.8 L85.7,214.0 L86.2,214.0 L86.7,213.8 L87.2,213.8 L87.7,213.8 L88.2,213.8 L88.7,213.8 L89.2,213.8 L89.7,214.0 L90.2,213.9 L90.7,213.8 L91.2,213.8 L91.7,213.9 L92.2,213.9 L92.7,213.7 L93.2,213.6 L93.7,213.5 L94.2,213.4 L94.7,213.4 L95.2,213.6 L95.7,213.7 L96.2,213.8 L96.7,213.8 L97.2,214.0 L97.7,214.2 L98.2,214.2 L98.7,214.1 L99.2,214.1 L99.7,214.2 L100.2,214.2 L100.7,214.3 L101.2,214.4 L101.7,214.2 L102.2,214.0 L102.7,213.9 L103.2,214.0 L103.7,214.2 L104.2,214.3 L104.7,214.2 L105.2,214.1 L105.7,214.0 L106.2,214.0 L106.7,214.0 L107.2,214.0 L107.7,214.0 L108.2,214.2 L108.7,214.2 L109.2,214.1 L109.7,214.0 L110.2,214.0 L110.7,214.1 L111.2,214.1 L111.7,214.1 L112.2,214.1 L112.7,214.1 L113.2,213.7 L113.7,213.6 L114.2,213.7 L114.7,213.6 L115.2,213.3 L115.7,213.3 L116.2,213.3 L116.7,213.1 L117.2,212.6 L117.7,212.4 L118.2,212.4 L118.7,212.1 L119.2,211.5 L119.8,210.9 L120.3,210.3 L120.8,209.5 L121.3,208.4 L121.8,207.4 L122.3,206.0 L122.8,203.9 L123.3,201.6 L123.8,199.3 L124.3,196.7 L124.8,193.7 L125.3,190.5 L125.8,187.9 L126.3,185.6 L126.8,184.0 L127.3,183.4 L127.8,184.1 L128.3,185.7 L128.8,188.0 L129.3,190.8 L129.8,193.8 L130.3,196.7 L130.8,199.4 L131.3,201.9 L131.8,204.1 L132.3,206.0 L132.8,207.5 L133.3,208.7 L133.8,209.7 L134.3,210.6 L134.8,211.3 L135.3,211.6 L135.8,211.9 L136.3,212.2 L136.8,212.3 L137.3,212.8 L137.8,213.2 L138.3,213.4 L138.8,213.6 L139.3,213.6 L139.8,213.6 L140.3,213.6 L140.8,213.7 L141.3,213.8 L141.8,213.9 L142.3,213.9 L142.8,213.8 L143.3,213.9 L143.8,214.0 L144.3,214.0 L144.8,214.2 L145.3,214.3 L145.8,214.3 L146.3,214.4 L146.8,214.6 L147.3,214.5 L147.8,214.5 L148.3,214.5 L148.8,214.4 L149.3,214.4 L149.8,214.4 L150.3,214.4 L150.8,214.4 L151.3,214.5 L151.8,214.4 L152.3,214.4 L152.8,214.4 L153.3,214.3 L153.8,214.5 L154.3,214.5 L154.8,214.4 L155.3,214.5 L155.8,214.4 L156.3,214.4 L156.8,214.4 L157.3,214.4 L157.8,214.5 L158.3,214.5 L158.8,214.3 L159.3,214.3 L159.8,214.4 L160.3,214.4 L160.8,214.3 L161.3,214.2 L161.8,214.1 L162.3,214.4 L162.8,214.6 L163.3,214.5 L163.8,214.4 L164.3,214.4 L164.8,214.4 L165.3,214.3 L165.8,214.3 L166.3,214.4 L166.8,214.2 L167.3,214.1 L167.8,213.9 L168.3,213.5 L168.8,213.1 L169.3,212.8 L169.8,212.5 L170.3,212.0 L170.8,211.4 L171.3,210.7 L171.8,209.6 L172.3,208.5 L172.8,207.5 L173.3,206.5 L173.8,205.5 L174.3,204.6 L174.8,204.2 L175.3,204.3 L175.8,205.0 L176.3,206.0 L176.8,207.1 L177.3,208.2 L177.8,209.3 L178.3,210.3 L178.8,211.1 L179.3,211.7 L179.8,212.3 L180.3,212.8 L180.8,213.1 L181.3,213.2 L181.8,213.4 L182.3,213.8 L182.8,214.0 L183.3,214.1 L183.8,214.1 L184.3,214.2 L184.8,214.4 L185.3,214.4 L185.8,214.5 L186.3,214.7 L186.8,214.8 L187.4,214.8 L187.9,214.8 L188.4,214.7 L188.9,214.7 L189.4,214.7 L189.9,214.7 L190.4,214.8 L190.9,214.7 L191.4,214.6 L191.9,214.7 L192.4,214.9 L192.9,215.0 L193.4,215.0 L193.9,215.0 L194.4,215.1 L194.9,215.0 L195.4,215.0 L195.9,215.0 L196.4,215.2 L196.9,215.1 L197.4,215.0 L197.9,214.9 L198.4,215.0 L198.9,215.0 L199.4,215.1 L199.9,215.1 L200.4,215.0 L200.9,214.9 L201.4,215.1 L201.9,215.3 L202.4,215.2 L202.9,215.1 L203.4,215.2 L203.9,215.1 L204.4,215.1 L204.9,215.1 L205.4,215.3 L205.9,215.3 L206.4,215.1 L206.9,215.1 L207.4,215.2 L207.9,215.2 L208.4,215.2 L208.9,215.3 L209.4,215.3 L209.9,215.3 L210.4,215.3 L210.9,215.3 L211.4,215.2 L211.9,215.2 L212.4,215.3 L212.9,215.1 L213.4,215.0 L213.9,215.1 L214.4,215.1 L214.9,215.0 L215.4,215.0 L215.9,214.9 L216.4,214.9 L216.9,215.1 L217.4,215.2 L217.9,215.2 L218.4,215.2 L218.9,215.2 L219.4,215.2 L219.9,215.2 L220.4,215.3 L220.9,215.3" stroke="#408af8" stroke-width="2.50"/>
<path d="M18.6,251.4 L19.1,251.3 L19.6,251.2 L20.1,251.2 L20.6,251.3 L21.1,251.2 L21.6,251.2 L22.1,251.2 L22.6,251.2 L23.1,251.2 L23.6,251.2 L24.1,251.2 L24.6,251.2 L25.1,251.1 L25.6,250.9 L26.1,250.8 L26.6,250.8 L27.1,250.7 L27.6,250.5 L28.1,250.6 L28.6,250.7 L29.1,250.5 L29.6,250.4 L30.1,250.6 L30.6,250.6 L31.1,250.6 L31.6,250.8 L32.1,251.0 L32.6,251.0 L33.1,251.1 L33.6,251.1 L34.1,251.2 L34.6,251.4 L35.1,251.4 L35.6,251.3 L36.1,251.3 L36.6,251.4 L37.1,251.3 L37.6,251.2 L38.1,251.4 L38.6,251.5 L39.1,251.4 L39.6,251.4 L40.1,251.4 L40.6,251.6 L41.1,251.6 L41.6,251.5 L42.1,251.4 L42.6,251.3 L43.1,251.3 L43.6,251.4 L44.1,251.4 L44.6,251.3 L45.1,251.2 L45.6,251.2 L46.1,251.3 L46.6,251.3 L47.1,251.5 L47.6,251.5 L48.1,251.4 L48.6,251.4 L49.1,251.4 L49.6,251.3 L50.1,251.3 L50.6,251.4 L51.1,251.4 L51.6,251.3 L52.1,251.3 L52.7,251.2 L53.2,251.2 L53.7,251.2 L54.2,251.4 L54.7,251.3 L55.2,251.0 L55.7,250.9 L56.2,251.0 L56.7,251.1 L57.2,251.2 L57.7,251.2 L58.2,251.0 L58.7,251.0 L59.2,251.0 L59.7,251.1 L60.2,251.1 L60.7,251.1 L61.2,251.1 L61.7,251.0 L62.2,250.8 L62.7,250.8 L63.2,250.8 L63.7,250.9 L64.2,250.9 L64.7,250.8 L65.2,250.8 L65.7,250.7 L66.2,250.7 L66.7,250.5 L67.2,250.2 L67.7,250.0 L68.2,249.8 L68.7,249.5 L69.2,248.9 L69.7,248.3 L70.2,247.7 L70.7,246.8 L71.2,245.9 L71.7,244.8 L72.2,243.7 L72.7,242.4 L73.2,241.2 L73.7,240.1 L74.2,239.4 L74.7,239.0 L75.2,239.0 L75.7,239.7 L76.2,240.7 L76.7,241.7 L77.2,242.9 L77.7,243.8 L78.2,244.5 L78.7,245.1 L79.2,245.4 L79.7,245.3 L80.2,245.1 L80.7,245.2 L81.2,245.7 L81.7,246.7 L82.2,247.7 L82.7,248.5 L83.2,249.3 L83.7,249.8 L84.2,250.2 L84.7,250.5 L85.2,250.9 L85.7,250.9 L86.2,250.8 L86.7,250.7 L87.2,250.6 L87.7,250.7 L88.2,250.7 L88.7,250.8 L89.2,250.9 L89.7,250.9 L90.2,250.9 L90.7,251.0 L91.2,251.0 L91.7,251.0 L92.2,250.8 L92.7,250.6 L93.2,250.4 L93.7,250.2 L94.2,250.2 L94.7,250.2 L95.2,250.2 L95.7,250.4 L96.2,250.5 L96.7,250.6 L97.2,250.9 L97.7,251.0 L98.2,251.1 L98.7,251.2 L99.2,251.2 L99.7,251.2 L100.2,251.2 L100.7,251.2 L101.2,251.2 L101.7,251.0 L102.2,251.1 L102.7,251.2 L103.2,251.2 L103.7,251.4 L104.2,251.4 L104.7,251.3 L105.2,251.3 L105.7,251.2 L106.2,251.2 L106.7,251.2 L107.2,251.3 L107.7,251.4 L108.2,251.4 L108.7,251.3 L109.2,251.2 L109.7,251.1 L110.2,251.1 L110.7,250.9 L111.2,250.8 L111.7,250.6 L112.2,250.5 L112.7,250.5 L113.2,250.4 L113.7,250.2 L114.2,250.2 L114.7,250.2 L115.2,250.1 L115.7,249.9 L116.2,249.8 L116.7,249.8 L117.2,249.5 L117.7,249.3 L118.2,249.1 L118.7,248.7 L119.2,248.3 L119.8,247.9 L120.3,247.5 L120.8,246.8 L121.3,245.7 L121.8,244.5 L122.3,243.1 L122.8,241.2 L123.3,239.1 L123.8,236.8 L124.3,234.0 L124.8,231.2 L125.3,228.4 L125.8,225.8 L126.3,223.6 L126.8,222.0 L127.3,221.4 L127.8,222.0 L128.3,223.6 L128.8,226.0 L129.3,228.8 L129.8,231.6 L130.3,234.4 L130.8,237.0 L131.3,239.3 L131.8,241.3 L132.3,243.1 L132.8,244.5 L133.3,245.7 L133.8,246.6 L134.3,247.3 L134.8,248.0 L135.3,248.5 L135.8,248.9 L136.3,249.3 L136.8,249.6 L137.3,249.7 L137.8,249.9 L138.3,250.1 L138.8,250.2 L139.3,250.3 L139.8,250.4 L140.3,250.5 L140.8,250.6 L141.3,250.8 L141.8,250.8 L142.3,250.8 L142.8,250.9 L143.3,251.0 L143.8,250.9 L144.3,250.9 L144.8,250.9 L145.3,250.8 L145.8,250.8 L146.3,250.9 L146.8,250.9 L147.3,251.0 L147.8,251.1 L148.3,251.2 L148.8,251.2 L149.3,251.1 L149.8,251.1 L150.3,251.2 L150.8,251.2 L151.3,251.2 L151.8,251.3 L152.3,251.3 L152.8,251.3 L153.3,251.4 L153.8,251.5 L154.3,251.6 L154.8,251.6 L155.3,251.5 L155.8,251.4 L156.3,251.3 L156.8,251.3 L157.3,251.3 L157.8,251.3 L158.3,251.4 L158.8,251.5 L159.3,251.4 L159.8,251.5 L160.3,251.6 L160.8,251.5 L161.3,251.4 L161.8,251.3 L162.3,251.3 L162.8,251.2 L163.3,251.1 L163.8,251.1 L164.3,251.1 L164.8,251.0 L165.3,251.0 L165.8,251.0 L166.3,251.0 L166.8,250.8 L167.3,250.6 L167.8,250.3 L168.3,250.1 L168.8,249.8 L169.3,249.4 L169.8,249.1 L170.3,248.5 L170.8,247.6 L171.3,246.8 L171.8,245.7 L172.3,244.4 L172.8,243.1 L173.3,241.7 L173.8,240.6 L174.3,239.6 L174.8,239.2 L175.3,239.3 L175.8,239.9 L176.3,240.9 L176.8,242.1 L177.3,243.4 L177.8,244.8 L178.3,246.1 L178.8,247.2 L179.3,248.1 L179.8,248.8 L180.3,249.3 L180.8,249.6 L181.3,250.0 L181.8,250.5 L182.3,250.8 L182.8,250.9 L183.3,251.1 L183.8,251.1 L184.3,251.1 L184.8,251.2 L185.3,251.4 L185.8,251.3 L186.3,251.3 L186.8,251.5 L187.4,251.6 L187.9,251.6 L188.4,251.5 L188.9,251.4 L189.4,251.5 L189.9,251.5 L190.4,251.5 L190.9,251.6 L191.4,251.6 L191.9,251.6 L192.4,251.6 L192.9,251.6 L193.4,251.7 L193.9,251.8 L194.4,251.7 L194.9,251.6 L195.4,251.7 L195.9,251.8 L196.4,251.8 L196.9,251.9 L197.4,251.9 L197.9,251.8 L198.4,251.9 L198.9,251.8 L199.4,251.8 L199.9,251.9 L200.4,251.8 L200.9,251.7 L201.4,251.6 L201.9,251.6 L202.4,251.7 L202.9,251.7 L203.4,251.8 L203.9,251.8 L204.4,251.7 L204.9,251.7 L205.4,251.8 L205.9,251.7 L206.4,251.5 L206.9,251.6 L207.4,251.8 L207.9,251.8 L208.4,251.7 L208.9,251.6 L209.4,251.7 L209.9,251.8 L210.4,251.8 L210.9,251.7 L211.4,251.8 L211.9,251.9 L212.4,251.9 L212.9,251.9 L213.4,252.1 L213.9,251.8 L214.4,251.7 L214.9,251.8 L215.4,252.0 L215.9,251.9 L216.4,251.7 L216.9,251.7 L217.4,251.8 L217.9,251.9 L218.4,252.0 L218.9,251.9 L219.4,251.9 L219.9,251.8 L220.4,251.8 L220.9,251.9" stroke="#406ef8" stroke-width="2.50"/>
<path d="M18.6,276.5 L19.1,276.5 L19.6,276.5 L20.1,276.5 L20.6,276.4 L21.1,276.3 L21.6,276.4 L22.1,276.5 L22.6,276.4 L23.1,276.4 L23.6,276.5 L24.1,276.5 L24.6,276.4 L25.1,276.4 L25.6,276.5 L26.1,276.4 L26.6,276.3 L27.1,276.3 L27.6,276.2 L28.1,276.2 L28.6,276.2 L29.1,276.2 L29.6,276.0 L30.1,276.1 L30.6,276.2 L31.1,276.4 L31.6,276.5 L32.1,276.5 L32.6,276.4 L33.1,276.5 L33.6,276.6 L34.1,276.8 L34.6,276.7 L35.1,276.6 L35.6,276.6 L36.1,276.6 L36.6,276.5 L37.1,276.5 L37.6,276.6 L38.1,276.5 L38.6,276.4 L39.1,276.4 L39.6,276.3 L40.1,276.4 L40.6,276.4 L41.1,276.5 L41.6,276.6 L42.1,276.6 L42.6,276.5 L43.1,276.3 L43.6,276.4 L44.1,276.7 L44.6,276.9 L45.1,276.5 L45.6,276.5 L46.1,276.7 L46.6,276.7 L47.1,276.7 L47.6,276.6 L48.1,276.5 L48.6,276.4 L49.1,276.3 L49.6,276.4 L50.1,276.4 L50.6,276.3 L51.1,276.2 L51.6,276.2 L52.1,276.4 L52.7,276.6 L53.2,276.6 L53.7,276.5 L54.2,276.4 L54.7,276.4 L55.2,276.5 L55.7,276.4 L56.2,276.4 L56.7,276.4 L57.2,276.1 L57.7,276.2 L58.2,276.3 L58.7,276.3 L59.2,276.2 L59.7,276.3 L60.2,276.4 L60.7,276.4 L61.2,276.4 L61.7,276.2 L62.2,276.2 L62.7,276.2 L63.2,276.2 L63.7,276.1 L64.2,276.0 L64.7,275.9 L65.2,275.9 L65.7,275.9 L66.2,275.9 L66.7,275.7 L67.2,275.6 L67.7,275.6 L68.2,275.4 L68.7,275.2 L69.2,275.1 L69.7,274.8 L70.2,274.3 L70.7,273.7 L71.2,273.2 L71.7,272.7 L72.2,272.0 L72.7,271.2 L73.2,270.5 L73.7,270.1 L74.2,269.9 L74.7,269.8 L75.2,269.7 L75.7,270.0 L76.2,270.4 L76.7,270.9 L77.2,271.5 L77.7,272.3 L78.2,272.8 L78.7,273.0 L79.2,273.3 L79.7,273.7 L80.2,273.9 L80.7,274.0 L81.2,274.3 L81.7,274.7 L82.2,275.0 L82.7,275.3 L83.2,275.4 L83.7,275.5 L84.2,275.6 L84.7,275.6 L85.2,275.7 L85.7,275.8 L86.2,275.9 L86.7,276.0 L87.2,276.1 L87.7,276.2 L88.2,276.3 L88.7,276.4 L89.2,276.4 L89.7,276.3 L90.2,276.3 L90.7,276.2 L91.2,276.0 L91.7,275.9 L92.2,276.0 L92.7,276.1 L93.2,276.0 L93.7,275.9 L94.2,275.9 L94.7,275.7 L95.2,275.9 L95.7,276.1 L96.2,276.1 L96.7,275.9 L97.2,276.1 L97.7,276.4 L98.2,276.4 L98.7,276.2 L99.2,276.0 L99.7,275.9 L100.2,276.1 L100.7,276.2 L101.2,276.2 L101.7,276.2 L102.2,276.3 L102.7,276.3 L103.2,276.2 L103.7,276.3 L104.2,276.4 L104.7,276.4 L105.2,276.3 L105.7,276.2 L106.2,276.1 L106.7,276.1 L107.2,276.2 L107.7,276.2 L108.2,276.0 L108.7,275.9 L109.2,275.9 L109.7,276.1 L110.2,276.2 L110.7,276.0 L111.2,275.9 L111.7,275.9 L112.2,276.0 L112.7,276.1 L113.2,276.0 L113.7,275.8 L114.2,275.7 L114.7,275.7 L115.2,275.7 L115.7,275.6 L116.2,275.5 L116.7,275.4 L117.2,275.2 L117.7,274.8 L118.2,274.6 L118.7,274.3 L119.2,274.2 L119.8,273.9 L120.3,273.3 L120.8,272.6 L121.3,271.8 L121.8,271.1 L122.3,270.2 L122.8,269.0 L123.3,267.4 L123.8,265.9 L124.3,264.4 L124.8,262.8 L125.3,261.1 L125.8,259.5 L126.3,258.2 L126.8,257.4 L127.3,257.2 L127.8,257.6 L128.3,258.3 L128.8,259.6 L129.3,261.2 L129.8,262.9 L130.3,264.4 L130.8,266.0 L131.3,267.6 L131.8,269.0 L132.3,270.2 L132.8,271.1 L133.3,271.9 L133.8,272.9 L134.3,273.5 L134.8,273.8 L135.3,274.0 L135.8,274.4 L136.3,274.6 L136.8,274.9 L137.3,275.3 L137.8,275.4 L138.3,275.5 L138.8,275.5 L139.3,275.6 L139.8,275.6 L140.3,275.7 L140.8,275.9 L141.3,276.0 L141.8,276.0 L142.3,276.1 L142.8,276.1 L143.3,276.2 L143.8,276.3 L144.3,276.4 L144.8,276.3 L145.3,276.1 L145.8,276.1 L146.3,276.2 L146.8,276.2 L147.3,276.3 L147.8,276.2 L148.3,276.4 L148.8,276.5 L149.3,276.4 L149.8,276.4 L150.3,276.5 L150.8,276.3 L151.3,276.4 L151.8,276.6 L152.3,276.8 L152.8,276.8 L153.3,276.6 L153.8,276.5 L154.3,276.6 L154.8,276.5 L155.3,276.4 L155.8,276.3 L156.3,276.4 L156.8,276.3 L157.3,276.3 L157.8,276.2 L158.3,276.3 L158.8,276.4 L159.3,276.5 L159.8,276.5 L160.3,276.4 L160.8,276.3 L161.3,276.1 L161.8,276.2 L162.3,276.2 L162.8,276.3 L163.3,276.3 L163.8,276.1 L164.3,276.2 L164.8,276.2 L165.3,276.0 L165.8,276.0 L166.3,275.9 L166.8,276.0 L167.3,276.0 L167.8,276.0 L168.3,275.9 L168.8,275.6 L169.3,275.5 L169.8,275.2 L170.3,274.7 L170.8,274.2 L171.3,273.9 L171.8,273.5 L172.3,272.8 L172.8,272.1 L173.3,271.6 L173.8,271.2 L174.3,271.0 L174.8,270.9 L175.3,270.9 L175.8,271.0 L176.3,271.4 L176.8,271.9 L177.3,272.7 L177.8,273.2 L178.3,273.7 L178.8,274.0 L179.3,274.3 L179.8,274.8 L180.3,275.2 L180.8,275.5 L181.3,275.9 L181.8,276.0 L182.3,276.1 L182.8,276.2 L183.3,276.3 L183.8,276.3 L184.3,276.3 L184.8,276.4 L185.3,276.6 L185.8,276.7 L186.3,276.6 L186.8,276.4 L187.4,276.5 L187.9,276.7 L188.4,276.6 L188.9,276.5 L189.4,276.5 L189.9,276.6 L190.4,276.6 L190.9,276.6 L191.4,276.7 L191.9,276.7 L192.4,276.7 L192.9,276.7 L193.4,276.8 L193.9,276.7 L194.4,276.7 L194.9,276.7 L195.4,276.7 L195.9,276.7 L196.4,276.7 L196.9,276.6 L197.4,276.3 L197.9,276.3 L198.4,276.5 L198.9,276.6 L199.4,276.5 L199.9,276.6 L200.4,276.7 L200.9,276.7 L201.4,276.8 L201.9,276.7 L202.4,276.6 L202.9,276.8 L203.4,276.8 L203.9,276.7 L204.4,276.6 L204.9,276.7 L205.4,276.9 L205.9,276.9 L206.4,276.9 L206.9,276.8 L207.4,276.8 L207.9,276.7 L208.4,276.6 L208.9,276.7 L209.4,276.6 L209.9,276.7 L210.4,276.9 L210.9,277.0 L211.4,276.9 L211.9,276.7 L212.4,276.6 L212.9,276.7 L213.4,276.9 L213.9,277.0 L214.4,277.0 L214.9,276.9 L215.4,276.9 L215.9,276.8 L216.4,276.7 L216.9,276.9 L217.4,276.8 L217.9,276.8 L218.4,276.9 L218.9,276.9 L219.4,277.0 L219.9,276.9 L220.4,276.8 L220.9,276.8" stroke="#3a48f8" stroke-width="2.50"/>
<path d="M18.6,299.2 L19.1,299.2 L19.6,299.3 L20.1,299.2 L20.6,299.2 L21.1,299.3 L21.6,299.3 L22.1,299.0 L22.6,299.1 L23.1,299.3 L23.6,299.2 L24.1,298.9 L24.6,298.9 L25.1,298.9 L25.6,299.0 L26.1,299.0 L26.6,298.9 L27.1,298.7 L27.6,298.7 L28.1,298.7 L28.6,298.7 L29.1,298.8 L29.6,299.0 L30.1,299.0 L30.6,299.0 L31.1,299.1 L31.6,299.1 L32.1,299.1 L32.6,299.2 L33.1,299.2 L33.6,299.1 L34.1,299.0 L34.6,299.0 L35.1,299.2 L35.6,299.3 L36.1,299.3 L36.6,299.3 L37.1,299.5 L37.6,299.5 L38.1,299.5 L38.6,299.4 L39.1,299.3 L39.6,299.3 L40.1,299.3 L40.6,299.5 L41.1,299.5 L41.6,299.6 L42.1,299.6 L42.6,299.5 L43.1,299.3 L43.6,299.2 L44.1,299.3 L44.6,299.3 L45.1,299.3 L45.6,299.3 L46.1,299.2 L46.6,299.3 L47.1,299.3 L47.6,299.2 L48.1,299.2 L48.6,299.3 L49.1,299.5 L49.6,299.5 L50.1,299.4 L50.6,299.2 L51.1,299.1 L51.6,299.2 L52.1,299.4 L52.7,299.2 L53.2,299.0 L53.7,298.9 L54.2,299.0 L54.7,299.2 L55.2,299.2 L55.7,299.0 L56.2,299.1 L56.7,299.2 L57.2,299.2 L57.7,299.4 L58.2,299.5 L58.7,299.4 L59.2,299.3 L59.7,299.3 L60.2,299.4 L60.7,299.4 L61.2,299.2 L61.7,299.0 L62.2,299.0 L62.7,299.3 L63.2,299.3 L63.7,299.2 L64.2,299.2 L64.7,299.3 L65.2,299.3 L65.7,299.2 L66.2,299.1 L66.7,298.9 L67.2,298.8 L67.7,298.8 L68.2,298.8 L68.7,298.7 L69.2,298.5 L69.7,298.3 L70.2,298.1 L70.7,297.8 L71.2,297.5 L71.7,297.2 L72.2,297.0 L72.7,296.8 L73.2,296.5 L73.7,296.2 L74.2,296.1 L74.7,296.2 L75.2,296.2 L75.7,296.2 L76.2,296.4 L76.7,296.6 L77.2,296.8 L77.7,297.0 L78.2,297.3 L78.7,297.5 L79.2,297.8 L79.7,297.9 L80.2,297.9 L80.7,297.9 L81.2,298.1 L81.7,298.4 L82.2,298.5 L82.7,298.5 L83.2,298.5 L83.7,298.7 L84.2,298.7 L84.7,298.9 L85.2,299.1 L85.7,299.2 L86.2,299.1 L86.7,299.3 L87.2,299.4 L87.7,299.5 L88.2,299.3 L88.7,299.3 L89.2,299.4 L89.7,299.5 L90.2,299.4 L90.7,299.3 L91.2,299.5 L91.7,299.5 L92.2,299.5 L92.7,299.6 L93.2,299.5 L93.7,299.5 L94.2,299.4 L94.7,299.5 L95.2,299.6 L95.7,299.6 L96.2,299.4 L96.7,299.4 L97.2,299.4 L97.7,299.4 L98.2,299.4 L98.7,299.4 L99.2,299.4 L99.7,299.4 L100.2,299.3 L100.7,299.3 L101.2,299.3 L101.7,299.3 L102.2,299.5 L102.7,299.3 L103.2,299.2 L103.7,299.2 L104.2,299.1 L104.7,299.0 L105.2,299.0 L105.7,299.1 L106.2,299.2 L106.7,299.3 L107.2,299.3 L107.7,299.3 L108.2,299.3 L108.7,299.2 L109.2,299.1 L109.7,299.0 L110.2,299.0 L110.7,299.0 L111.2,298.8 L111.7,298.7 L112.2,298.8 L112.7,298.9 L113.2,298.8 L113.7,299.0 L114.2,299.1 L114.7,299.0 L115.2,299.0 L115.7,298.8 L116.2,298.5 L116.7,298.4 L117.2,298.3 L117.7,298.3 L118.2,298.2 L118.7,297.9 L119.2,297.6 L119.8,297.3 L120.3,297.1 L120.8,296.7 L121.3,296.4 L121.8,296.1 L122.3,295.4 L122.8,294.5 L123.3,293.8 L123.8,293.0 L124.3,292.1 L124.8,291.1 L125.3,290.2 L125.8,289.5 L126.3,288.9 L126.8,288.6 L127.3,288.3 L127.8,288.5 L128.3,288.9 L128.8,289.4 L129.3,290.3 L129.8,291.2 L130.3,292.1 L130.8,292.9 L131.3,293.7 L131.8,294.7 L132.3,295.4 L132.8,295.9 L133.3,296.4 L133.8,296.8 L134.3,297.3 L134.8,297.6 L135.3,297.8 L135.8,298.1 L136.3,298.3 L136.8,298.5 L137.3,298.6 L137.8,298.8 L138.3,298.9 L138.8,298.9 L139.3,298.9 L139.8,299.0 L140.3,299.1 L140.8,299.3 L141.3,299.4 L141.8,299.3 L142.3,299.3 L142.8,299.4 L143.3,299.4 L143.8,299.3 L144.3,299.3 L144.8,299.2 L145.3,299.1 L145.8,299.1 L146.3,299.2 L146.8,299.3 L147.3,299.3 L147.8,299.2 L148.3,299.1 L148.8,299.0 L149.3,299.1 L149.8,299.2 L150.3,299.2 L150.8,299.1 L151.3,299.2 L151.8,299.2 L152.3,299.2 L152.8,299.3 L153.3,299.4 L153.8,299.5 L154.3,299.6 L154.8,299.5 L155.3,299.4 L155.8,299.5 L156.3,299.6 L156.8,299.7 L157.3,299.8 L157.8,299.7 L158.3,299.7 L158.8,299.7 L159.3,299.6 L159.8,299.6 L160.3,299.6 L160.8,299.5 L161.3,299.5 L161.8,299.5 L162.3,299.6 L162.8,299.6 L163.3,299.5 L163.8,299.5 L164.3,299.6 L164.8,299.5 L165.3,299.5 L165.8,299.4 L166.3,299.3 L166.8,299.4 L167.3,299.4 L167.8,299.3 L168.3,299.1 L168.8,299.0 L169.3,298.8 L169.8,298.6 L170.3,298.6 L170.8,298.4 L171.3,298.2 L171.8,297.8 L172.3,297.4 L172.8,297.1 L173.3,296.9 L173.8,296.6 L174.3,296.5 L174.8,296.6 L175.3,296.8 L175.8,296.9 L176.3,297.1 L176.8,297.3 L177.3,297.3 L177.8,297.6 L178.3,297.9 L178.8,298.0 L179.3,298.3 L179.8,298.6 L180.3,298.8 L180.8,298.9 L181.3,299.1 L181.8,299.2 L182.3,299.3 L182.8,299.4 L183.3,299.4 L183.8,299.4 L184.3,299.5 L184.8,299.5 L185.3,299.4 L185.8,299.5 L186.3,299.5 L186.8,299.7 L187.4,299.9 L187.9,299.7 L188.4,299.6 L188.9,299.6 L189.4,299.6 L189.9,299.5 L190.4,299.6 L190.9,299.6 L191.4,299.6 L191.9,299.6 L192.4,299.7 L192.9,299.6 L193.4,299.6 L193.9,299.8 L194.4,299.9 L194.9,299.8 L195.4,299.8 L195.9,299.8 L196.4,299.8 L196.9,299.8 L197.4,299.7 L197.9,299.6 L198.4,299.6 L198.9,299.7 L199.4,299.7 L199.9,299.7 L200.4,299.6 L200.9,299.7 L201.4,299.7 L201.9,299.8 L202.4,299.8 L202.9,299.8 L203.4,299.7 L203.9,299.6 L204.4,299.7 L204.9,299.8 L205.4,299.8 L205.9,299.8 L206.4,299.9 L206.9,299.9 L207.4,299.9 L207.9,300.0 L208.4,300.0 L208.9,299.9 L209.4,299.9 L209.9,300.0 L210.4,300.1 L210.9,300.1 L211.4,300.0 L211.9,300.0 L212.4,300.0 L212.9,300.2 L213.4,300.1 L213.9,299.9 L214.4,299.9 L214.9,299.9 L215.4,299.8 L215.9,299.8 L216.4,299.8 L216.9,299.9 L217.4,299.9 L217.9,299.9 L218.4,299.9 L218.9,299.8 L219.4,299.8 L219.9,299.8 L220.4,299.6 L220.9,299.6" stroke="#3a20fa" stroke-width="2.50"/>
<path d="M18.6,319.9 L19.1,319.9 L19.6,319.8 L20.1,319.9 L20.6,319.8 L21.1,319.6 L21.6,319.5 L22.1,319.6 L22.6,319.6 L23.1,319.6 L23.6,319.6 L24.1,319.5 L24.6,319.6 L25.1,319.7 L25.6,319.5 L26.1,319.3 L26.6,319.4 L27.1,319.4 L27.6,319.4 L28.1,319.3 L28.6,319.3 L29.1,319.3 L29.6,319.4 L30.1,319.4 L30.6,319.4 L31.1,319.4 L31.6,319.4 L32.1,319.5 L32.6,319.5 L33.1,319.5 L33.6,319.6 L34.1,319.5 L34.6,319.7 L35.1,319.9 L35.6,320.0 L36.1,319.9 L36.6,319.6 L37.1,319.6 L37.6,319.7 L38.1,319.8 L38.6,319.7 L39.1,319.7 L39.6,319.6 L40.1,319.6 L40.6,319.8 L41.1,319.8 L41.6,319.7 L42.1,319.8 L42.6,319.8 L43.1,319.8 L43.6,319.9 L44.1,319.9 L44.6,320.0 L45.1,320.0 L45.6,319.9 L46.1,319.9 L46.6,319.9 L47.1,319.8 L47.6,319.7 L48.1,319.6 L48.6,319.5 L49.1,319.7 L49.6,319.8 L50.1,319.8 L50.6,319.8 L51.1,319.9 L51.6,320.1 L52.1,320.1 L52.7,320.0 L53.2,320.0 L53.7,319.9 L54.2,319.8 L54.7,319.8 L55.2,319.8 L55.7,319.9 L56.2,319.8 L56.7,319.8 L57.2,319.8 L57.7,319.9 L58.2,319.8 L58.7,319.7 L59.2,319.7 L59.7,319.7 L60.2,319.7 L60.7,319.6 L61.2,319.5 L61.7,319.6 L62.2,319.6 L62.7,319.5 L63.2,319.5 L63.7,319.6 L64.2,319.6 L64.7,319.6 L65.2,319.6 L65.7,319.7 L66.2,319.6 L66.7,319.4 L67.2,319.4 L67.7,319.4 L68.2,319.1 L68.7,319.2 L69.2,319.0 L69.7,318.8 L70.2,318.5 L70.7,318.3 L71.2,318.0 L71.7,317.7 L72.2,317.6 L72.7,317.4 L73.2,317.2 L73.7,317.1 L74.2,317.1 L74.7,317.0 L75.2,317.0 L75.7,317.0 L76.2,317.0 L76.7,317.2 L77.2,317.7 L77.7,317.9 L78.2,318.0 L78.7,318.2 L79.2,318.6 L79.7,318.8 L80.2,319.0 L80.7,319.2 L81.2,319.2 L81.7,319.3 L82.2,319.3 L82.7,319.4 L83.2,319.6 L83.7,319.7 L84.2,319.7 L84.7,319.6 L85.2,319.6 L85.7,319.7 L86.2,319.6 L86.7,319.6 L87.2,319.6 L87.7,319.6 L88.2,319.6 L88.7,319.7 L89.2,319.8 L89.7,319.9 L90.2,319.9 L90.7,319.9 L91.2,319.8 L91.7,319.8 L92.2,319.8 L92.7,319.8 L93.2,319.9 L93.7,320.0 L94.2,319.8 L94.7,319.7 L95.2,319.8 L95.7,319.7 L96.2,319.6 L96.7,319.7 L97.2,319.7 L97.7,319.8 L98.2,319.8 L98.7,319.8 L99.2,319.6 L99.7,319.7 L100.2,319.8 L100.7,319.9 L101.2,319.7 L101.7,319.7 L102.2,319.7 L102.7,319.8 L103.2,320.0 L103.7,320.0 L104.2,320.0 L104.7,319.8 L105.2,319.8 L105.7,320.0 L106.2,319.9 L106.7,320.0 L107.2,319.9 L107.7,319.8 L108.2,319.9 L108.7,319.9 L109.2,319.7 L109.7,319.7 L110.2,319.8 L110.7,319.7 L111.2,319.6 L111.7,319.7 L112.2,319.7 L112.7,319.4 L113.2,319.4 L113.7,319.4 L114.2,319.4 L114.7,319.5 L115.2,319.5 L115.7,319.5 L116.2,319.3 L116.7,319.3 L117.2,319.3 L117.7,319.1 L118.2,318.8 L118.7,318.7 L119.2,318.6 L119.8,318.4 L120.3,318.2 L120.8,318.0 L121.3,317.7 L121.8,317.4 L122.3,317.0 L122.8,316.5 L123.3,316.0 L123.8,315.3 L124.3,314.8 L124.8,314.4 L125.3,313.9 L125.8,313.3 L126.3,313.2 L126.8,313.0 L127.3,312.9 L127.8,313.0 L128.3,313.1 L128.8,313.4 L129.3,313.9 L129.8,314.5 L130.3,315.1 L130.8,315.4 L131.3,315.8 L131.8,316.3 L132.3,316.7 L132.8,317.1 L133.3,317.7 L133.8,318.3 L134.3,318.5 L134.8,318.5 L135.3,318.7 L135.8,319.0 L136.3,319.1 L136.8,319.3 L137.3,319.5 L137.8,319.6 L138.3,319.6 L138.8,319.6 L139.3,319.6 L139.8,319.6 L140.3,319.6 L140.8,319.5 L141.3,319.6 L141.8,319.7 L142.3,319.7 L142.8,319.6 L143.3,319.7 L143.8,319.8 L144.3,319.7 L144.8,319.8 L145.3,320.0 L145.8,319.9 L146.3,319.9 L146.8,319.8 L147.3,319.8 L147.8,319.9 L148.3,319.7 L148.8,319.7 L149.3,319.8 L149.8,319.9 L150.3,319.9 L150.8,319.9 L151.3,319.9 L151.8,320.0 L152.3,319.9 L152.8,319.9 L153.3,320.0 L153.8,319.9 L154.3,319.9 L154.8,320.0 L155.3,319.9 L155.8,319.8 L156.3,319.9 L156.8,320.0 L157.3,320.0 L157.8,319.9 L158.3,319.9 L158.8,319.9 L159.3,319.9 L159.8,320.0 L160.3,320.0 L160.8,319.9 L161.3,319.8 L161.8,319.8 L162.3,320.1 L162.8,320.1 L163.3,320.2 L163.8,320.1 L164.3,320.1 L164.8,319.9 L165.3,319.8 L165.8,319.6 L166.3,319.7 L166.8,319.7 L167.3,319.6 L167.8,319.5 L168.3,319.5 L168.8,319.4 L169.3,319.3 L169.8,319.2 L170.3,319.0 L170.8,318.7 L171.3,318.6 L171.8,318.6 L172.3,318.5 L172.8,317.9 L173.3,317.7 L173.8,317.7 L174.3,317.7 L174.8,317.7 L175.3,317.7 L175.8,317.9 L176.3,318.2 L176.8,318.4 L177.3,318.4 L177.8,318.5 L178.3,318.7 L178.8,319.0 L179.3,319.2 L179.8,319.3 L180.3,319.5 L180.8,319.5 L181.3,319.6 L181.8,319.8 L182.3,319.8 L182.8,319.7 L183.3,319.8 L183.8,319.9 L184.3,319.9 L184.8,319.9 L185.3,319.9 L185.8,320.0 L186.3,320.1 L186.8,320.1 L187.4,320.0 L187.9,319.9 L188.4,320.0 L188.9,320.1 L189.4,320.1 L189.9,320.0 L190.4,320.0 L190.9,320.1 L191.4,320.1 L191.9,320.3 L192.4,320.2 L192.9,320.2 L193.4,320.2 L193.9,320.1 L194.4,320.2 L194.9,320.3 L195.4,320.4 L195.9,320.4 L196.4,320.4 L196.9,320.4 L197.4,320.3 L197.9,320.2 L198.4,320.4 L198.9,320.4 L199.4,320.3 L199.9,320.2 L200.4,320.1 L200.9,320.1 L201.4,320.1 L201.9,320.2 L202.4,320.2 L202.9,320.2 L203.4,320.2 L203.9,320.2 L204.4,320.3 L204.9,320.3 L205.4,320.3 L205.9,320.3 L206.4,320.2 L206.9,320.2 L207.4,320.2 L207.9,320.1 L208.4,320.1 L208.9,320.3 L209.4,320.4 L209.9,320.4 L210.4,320.3 L210.9,320.1 L211.4,320.2 L211.9,320.4 L212.4,320.4 L212.9,320.3 L213.4,320.2 L213.9,320.1 L214.4,320.2 L214.9,320.1 L215.4,320.1 L215.9,320.2 L216.4,320.3 L216.9,320.2 L217.4,320.1 L217.9,320.3 L218.4,320.3 L218.9,320.2 L219.4,320.2 L219.9,320.3 L220.4,320.4 L220.9,320.3" stroke="#2a00f5" stroke-width="2.50"/>
</g>
<rect x="18.60" y="21.40" width="202.30" height="315.20" fill="none" stroke="#000" stroke-width="1.60"/>
<line x1="18.60" y1="336.60" x2="18.60" y2="333.40" stroke="#000" stroke-width="1.30"/>
<text x="18.60" y="346.80" font-size="8.60" font-weight="bold" text-anchor="middle" >800</text>
<line x1="59.06" y1="336.60" x2="59.06" y2="333.40" stroke="#000" stroke-width="1.30"/>
<text x="59.06" y="346.80" font-size="8.60" font-weight="bold" text-anchor="middle" >1000</text>
<line x1="99.52" y1="336.60" x2="99.52" y2="333.40" stroke="#000" stroke-width="1.30"/>
<text x="99.52" y="346.80" font-size="8.60" font-weight="bold" text-anchor="middle" >1200</text>
<line x1="139.98" y1="336.60" x2="139.98" y2="333.40" stroke="#000" stroke-width="1.30"/>
<text x="139.98" y="346.80" font-size="8.60" font-weight="bold" text-anchor="middle" >1400</text>
<line x1="180.44" y1="336.60" x2="180.44" y2="333.40" stroke="#000" stroke-width="1.30"/>
<text x="180.44" y="346.80" font-size="8.60" font-weight="bold" text-anchor="middle" >1600</text>
<line x1="220.90" y1="336.60" x2="220.90" y2="333.40" stroke="#000" stroke-width="1.30"/>
<text x="220.90" y="346.80" font-size="8.60" font-weight="bold" text-anchor="middle" >1800</text>
<line x1="38.83" y1="336.60" x2="38.83" y2="334.80" stroke="#000" stroke-width="1.10"/>
<line x1="79.29" y1="336.60" x2="79.29" y2="334.80" stroke="#000" stroke-width="1.10"/>
<line x1="119.75" y1="336.60" x2="119.75" y2="334.80" stroke="#000" stroke-width="1.10"/>
<line x1="160.21" y1="336.60" x2="160.21" y2="334.80" stroke="#000" stroke-width="1.10"/>
<line x1="200.67" y1="336.60" x2="200.67" y2="334.80" stroke="#000" stroke-width="1.10"/>
<text x="219.20" y="57.90" font-size="7.45" font-weight="bold" text-anchor="end" >580 nm</text>
<text x="219.20" y="92.10" font-size="7.45" font-weight="bold" text-anchor="end" >590 nm</text>
<text x="219.20" y="132.60" font-size="7.45" font-weight="bold" text-anchor="end" >610 nm</text>
<text x="219.20" y="170.80" font-size="7.45" font-weight="bold" text-anchor="end" >620 nm</text>
<text x="219.20" y="213.50" font-size="7.45" font-weight="bold" text-anchor="end" >630 nm</text>
<text x="219.20" y="250.00" font-size="7.45" font-weight="bold" text-anchor="end" >640 nm</text>
<text x="219.20" y="275.00" font-size="7.45" font-weight="bold" text-anchor="end" >660 nm</text>
<text x="219.20" y="298.00" font-size="7.45" font-weight="bold" text-anchor="end" >670 nm</text>
<text x="219.20" y="318.20" font-size="7.45" font-weight="bold" text-anchor="end" >680 nm</text>
<text x="119.75" y="357.8" font-size="9.0" font-weight="bold" text-anchor="middle">Stokes Raman Shift (cm<tspan font-size="5.6" dy="-3.4">-1</tspan><tspan dy="3.4">)</tspan></text>
<text transform="translate(12.20,178.5) rotate(-90)" font-size="8.95" font-weight="bold" text-anchor="middle">Stimulated Raman Intensity (arb. units)</text>
<line x1="24.50" y1="23.80" x2="24.50" y2="45.70" stroke="#000" stroke-width="1.70"/>
<line x1="21.80" y1="23.80" x2="27.20" y2="23.80" stroke="#000" stroke-width="1.50"/>
<line x1="21.80" y1="45.70" x2="27.20" y2="45.70" stroke="#000" stroke-width="1.50"/>
<text x="26.20" y="38.80" font-size="8.80" font-weight="bold" text-anchor="start" >50 cps</text>
<g fill="none" stroke-linejoin="round" stroke-linecap="round">
<path d="M252.6,63.7 L253.1,63.4 L253.6,63.0 L254.1,62.9 L254.6,63.9 L255.1,63.8 L255.6,63.5 L256.1,63.7 L256.6,63.5 L257.1,63.4 L257.6,63.5 L258.1,63.1 L258.6,62.8 L259.1,62.6 L259.6,62.9 L260.1,62.8 L260.6,62.8 L261.1,62.5 L261.6,62.5 L262.1,62.6 L262.6,62.9 L263.1,62.8 L263.6,62.8 L264.1,62.7 L264.6,62.3 L265.1,62.9 L265.6,63.0 L266.1,61.9 L266.6,61.4 L267.1,61.6 L267.6,62.1 L268.1,62.3 L268.6,62.5 L269.1,62.3 L269.6,62.2 L270.1,62.1 L270.6,62.0 L271.1,62.0 L271.6,61.3 L272.1,61.1 L272.6,61.3 L273.1,61.0 L273.6,59.9 L274.1,59.1 L274.6,59.2 L275.1,59.7 L275.6,60.0 L276.1,60.4 L276.6,60.0 L277.1,60.8 L277.6,61.0 L278.1,60.5 L278.6,60.9 L279.1,61.1 L279.6,61.0 L280.1,61.4 L280.6,62.0 L281.1,61.4 L281.6,61.0 L282.1,61.0 L282.6,61.4 L283.1,61.4 L283.6,61.4 L284.1,61.7 L284.6,62.0 L285.1,61.6 L285.6,61.5 L286.1,61.8 L286.6,63.0 L287.1,63.4 L287.6,63.5 L288.1,63.2 L288.6,63.0 L289.1,63.2 L289.6,62.9 L290.1,62.7 L290.6,62.9 L291.1,63.9 L291.6,63.7 L292.1,63.5 L292.6,63.2 L293.1,63.2 L293.6,63.5 L294.1,63.2 L294.6,62.7 L295.1,62.8 L295.6,62.6 L296.1,63.0 L296.6,63.3 L297.1,62.9 L297.6,63.3 L298.1,62.8 L298.6,62.6 L299.1,62.4 L299.6,62.3 L300.1,62.4 L300.6,62.0 L301.1,61.6 L301.6,61.4 L302.1,61.1 L302.6,60.7 L303.1,60.9 L303.6,61.0 L304.1,60.8 L304.6,60.8 L305.1,60.8 L305.6,60.1 L306.1,59.7 L306.6,59.9 L307.1,59.4 L307.6,59.6 L308.1,59.3 L308.6,59.1 L309.1,58.6 L309.6,59.0 L310.1,58.5 L310.6,58.0 L311.1,58.3 L311.6,58.2 L312.1,57.9 L312.6,57.9 L313.1,58.3 L313.6,59.0 L314.1,59.6 L314.6,59.7 L315.1,59.2 L315.6,58.9 L316.1,58.7 L316.6,58.4 L317.1,58.1 L317.6,58.2 L318.1,58.6 L318.6,58.9 L319.1,59.0 L319.6,59.8 L320.1,60.6 L320.6,61.9 L321.1,61.9 L321.6,62.1 L322.1,62.1 L322.6,62.5 L323.1,63.0 L323.6,63.0 L324.1,63.0 L324.6,62.9 L325.1,63.2 L325.6,63.2 L326.1,63.5 L326.6,63.2 L327.1,63.1 L327.6,62.5 L328.1,62.5 L328.6,62.2 L329.1,62.1 L329.6,62.3 L330.1,62.2 L330.6,62.5 L331.1,62.8 L331.6,62.9 L332.1,62.4 L332.7,62.0 L333.2,62.0 L333.7,62.1 L334.2,61.7 L334.7,62.1 L335.2,62.0 L335.7,62.0 L336.2,62.2 L336.7,62.2 L337.2,61.8 L337.7,61.5 L338.2,61.8 L338.7,61.8 L339.2,61.7 L339.7,62.2 L340.2,62.1 L340.7,61.5 L341.2,61.6 L341.7,61.7 L342.2,62.4 L342.7,62.3 L343.2,61.6 L343.7,61.3 L344.2,61.5 L344.7,61.7 L345.2,62.0 L345.7,61.7 L346.2,61.4 L346.7,61.3 L347.2,61.0 L347.7,61.7 L348.2,62.1 L348.7,61.8 L349.2,61.8 L349.7,62.5 L350.2,63.0 L350.7,62.6 L351.2,62.2 L351.7,62.5 L352.2,62.1 L352.7,62.5 L353.2,62.5 L353.7,62.7 L354.2,62.7 L354.7,63.1 L355.2,63.0 L355.7,62.3 L356.2,62.0 L356.7,62.8 L357.2,63.6 L357.7,63.2 L358.2,63.1 L358.7,63.0 L359.2,63.1 L359.7,63.0 L360.2,62.9 L360.7,62.5 L361.2,63.0 L361.7,62.9 L362.2,62.4 L362.7,63.2 L363.2,62.9 L363.7,62.0 L364.2,61.6 L364.7,62.4 L365.2,62.6 L365.7,61.9 L366.2,61.7 L366.7,62.5 L367.2,62.3 L367.7,62.7 L368.2,63.7 L368.7,63.5 L369.2,63.1 L369.7,62.4 L370.2,62.3 L370.7,61.5 L371.2,61.7 L371.7,61.6 L372.2,61.3 L372.7,61.2 L373.2,61.7 L373.7,61.8 L374.2,61.9 L374.7,61.7 L375.2,61.2 L375.7,60.8 L376.2,60.7 L376.7,61.2 L377.2,61.4 L377.7,61.0 L378.2,60.8 L378.7,60.2 L379.2,60.0 L379.7,59.7 L380.2,59.5 L380.7,60.3 L381.2,60.2 L381.7,59.4 L382.2,59.3 L382.7,59.6 L383.2,59.6 L383.7,60.1 L384.2,60.2 L384.7,60.5 L385.2,60.7 L385.7,60.9 L386.2,60.9 L386.7,60.9 L387.2,61.0 L387.7,61.2 L388.2,61.5 L388.7,62.0 L389.2,62.5 L389.7,62.2 L390.2,61.7 L390.7,61.9 L391.2,61.8 L391.7,62.0 L392.2,61.6 L392.7,61.1 L393.2,61.6 L393.7,61.5 L394.2,60.6 L394.7,61.0 L395.2,61.2 L395.7,60.8 L396.2,60.9 L396.7,61.0 L397.2,61.6 L397.7,62.0 L398.2,62.2 L398.7,61.8 L399.2,61.9 L399.7,61.7 L400.2,61.5 L400.7,60.9 L401.2,60.5 L401.7,60.9 L402.2,61.2 L402.7,61.1 L403.2,60.2 L403.7,59.1 L404.2,57.9 L404.7,57.6 L405.2,56.9 L405.7,56.4 L406.2,57.0 L406.7,57.8 L407.2,59.3 L407.7,59.9 L408.2,60.0 L408.7,60.6 L409.2,60.7 L409.7,60.4 L410.2,60.2 L410.7,60.2 L411.2,60.5 L411.7,61.6 L412.2,62.0 L412.7,61.2 L413.2,61.4 L413.7,61.6 L414.2,61.3 L414.7,61.2 L415.2,61.2 L415.7,61.7 L416.2,61.5 L416.7,61.7 L417.2,62.1 L417.7,61.6 L418.2,61.2 L418.7,61.6 L419.2,62.1 L419.7,61.9 L420.2,61.7 L420.7,61.3 L421.2,61.8 L421.7,62.0 L422.2,62.1 L422.7,62.3 L423.2,61.9 L423.7,61.4 L424.2,61.4 L424.7,62.2 L425.2,62.2 L425.7,62.3 L426.2,62.6 L426.7,62.7 L427.2,62.6 L427.7,62.2 L428.2,62.4 L428.7,62.6 L429.2,62.4 L429.7,63.0 L430.2,63.3 L430.7,63.2 L431.2,62.9 L431.7,62.8 L432.2,62.4 L432.7,62.6 L433.2,62.7 L433.7,62.8 L434.2,62.7 L434.7,62.9 L435.2,63.0 L435.7,62.7 L436.2,62.9 L436.7,62.2 L437.2,61.9 L437.7,62.5 L438.2,62.8 L438.7,62.8 L439.2,62.4 L439.7,62.6 L440.2,63.0 L440.7,63.5 L441.2,63.4 L441.7,63.3 L442.2,63.0 L442.7,62.9 L443.2,63.0 L443.7,63.2 L444.2,62.7 L444.7,62.7 L445.2,63.4 L445.7,63.8 L446.2,63.6 L446.7,63.5 L447.2,63.4 L447.7,63.8 L448.2,63.7" stroke="#d2ff3c" stroke-width="2.4"/>
<path d="M252.6,91.1 L253.1,91.5 L253.6,92.0 L254.1,92.4 L254.6,92.1 L255.1,92.2 L255.6,92.9 L256.1,93.4 L256.6,92.8 L257.1,92.9 L257.6,93.5 L258.1,93.1 L258.6,93.7 L259.1,93.6 L259.6,93.4 L260.1,93.5 L260.6,93.7 L261.1,94.1 L261.6,94.6 L262.1,94.9 L262.6,94.5 L263.1,94.2 L263.6,94.2 L264.1,94.3 L264.6,94.4 L265.1,93.8 L265.6,94.0 L266.1,94.1 L266.6,94.3 L267.1,94.4 L267.6,94.6 L268.1,94.5 L268.6,94.2 L269.1,94.4 L269.6,94.2 L270.1,94.0 L270.6,94.0 L271.1,93.8 L271.6,93.1 L272.1,92.3 L272.6,91.2 L273.1,90.5 L273.6,89.4 L274.1,89.0 L274.6,88.6 L275.1,89.4 L275.6,90.4 L276.1,90.3 L276.6,91.1 L277.1,91.6 L277.6,91.6 L278.1,92.0 L278.6,92.8 L279.1,93.2 L279.6,92.9 L280.1,92.2 L280.6,92.3 L281.1,92.7 L281.6,93.1 L282.1,93.0 L282.6,93.0 L283.1,93.0 L283.6,92.7 L284.1,92.7 L284.6,92.5 L285.1,92.2 L285.6,92.8 L286.1,92.9 L286.6,92.9 L287.1,92.2 L287.6,92.2 L288.1,92.9 L288.6,93.1 L289.1,93.0 L289.6,92.6 L290.1,92.8 L290.6,92.6 L291.1,92.7 L291.6,92.6 L292.1,92.8 L292.6,93.2 L293.1,92.9 L293.6,92.2 L294.1,92.6 L294.6,92.7 L295.1,92.2 L295.6,92.1 L296.1,92.4 L296.6,92.5 L297.1,92.1 L297.6,92.0 L298.1,92.3 L298.6,92.5 L299.1,92.8 L299.6,91.9 L300.1,92.5 L300.6,92.3 L301.1,91.6 L301.6,91.7 L302.1,91.5 L302.6,91.2 L303.1,90.9 L303.6,90.7 L304.1,90.2 L304.6,90.0 L305.1,90.2 L305.6,90.2 L306.1,90.5 L306.6,90.6 L307.1,90.2 L307.6,90.0 L308.1,89.4 L308.6,88.3 L309.1,88.0 L309.6,87.3 L310.1,86.0 L310.6,84.4 L311.1,83.2 L311.6,83.5 L312.1,84.4 L312.6,85.5 L313.1,86.4 L313.6,86.9 L314.1,87.1 L314.6,87.2 L315.1,87.0 L315.6,86.9 L316.1,87.1 L316.6,86.8 L317.1,85.6 L317.6,84.5 L318.1,84.7 L318.6,84.7 L319.1,85.6 L319.6,86.7 L320.1,87.9 L320.6,89.4 L321.1,89.9 L321.6,90.2 L322.1,90.7 L322.6,91.1 L323.1,91.4 L323.6,91.3 L324.1,91.5 L324.6,91.8 L325.1,91.9 L325.6,92.0 L326.1,91.7 L326.6,92.1 L327.1,92.9 L327.6,93.4 L328.1,92.7 L328.6,91.7 L329.1,92.1 L329.6,92.8 L330.1,93.1 L330.6,93.4 L331.1,92.8 L331.6,92.0 L332.1,92.7 L332.7,93.2 L333.2,93.4 L333.7,93.6 L334.2,93.1 L334.7,93.2 L335.2,92.7 L335.7,93.0 L336.2,93.4 L336.7,93.8 L337.2,93.0 L337.7,92.7 L338.2,93.2 L338.7,93.3 L339.2,93.5 L339.7,93.1 L340.2,92.9 L340.7,93.4 L341.2,93.5 L341.7,93.5 L342.2,93.2 L342.7,93.8 L343.2,93.4 L343.7,93.4 L344.2,92.9 L344.7,92.6 L345.2,93.0 L345.7,93.2 L346.2,93.8 L346.7,93.6 L347.2,93.8 L347.7,94.1 L348.2,94.6 L348.7,94.1 L349.2,94.4 L349.7,94.3 L350.2,94.3 L350.7,94.2 L351.2,94.6 L351.7,94.1 L352.2,93.8 L352.7,94.3 L353.2,94.5 L353.7,95.2 L354.2,95.6 L354.7,95.3 L355.2,95.5 L355.7,95.5 L356.2,95.8 L356.7,96.2 L357.2,96.8 L357.7,96.3 L358.2,95.9 L358.7,96.0 L359.2,96.4 L359.7,95.9 L360.2,95.9 L360.7,95.7 L361.2,95.2 L361.7,95.9 L362.2,96.5 L362.7,96.2 L363.2,95.9 L363.7,96.3 L364.2,96.6 L364.7,96.8 L365.2,96.0 L365.7,95.9 L366.2,96.1 L366.7,96.0 L367.2,95.9 L367.7,95.9 L368.2,95.3 L368.7,95.0 L369.2,95.0 L369.7,94.8 L370.2,94.7 L370.7,95.1 L371.2,95.3 L371.7,95.5 L372.2,95.1 L372.7,95.5 L373.2,95.6 L373.7,95.3 L374.2,94.4 L374.7,94.4 L375.2,95.3 L375.7,95.3 L376.2,94.8 L376.7,94.6 L377.2,95.2 L377.7,95.3 L378.2,94.9 L378.7,94.5 L379.2,94.3 L379.7,94.8 L380.2,94.3 L380.7,94.8 L381.2,95.0 L381.7,94.9 L382.2,95.0 L382.7,94.6 L383.2,94.5 L383.7,94.7 L384.2,94.4 L384.7,94.3 L385.2,94.5 L385.7,94.5 L386.2,94.3 L386.7,94.4 L387.2,94.9 L387.7,95.4 L388.2,94.8 L388.7,94.2 L389.2,93.8 L389.7,93.5 L390.2,93.5 L390.7,93.9 L391.2,93.7 L391.7,93.3 L392.2,93.4 L392.7,93.6 L393.2,93.6 L393.7,93.4 L394.2,94.0 L394.7,94.3 L395.2,94.2 L395.7,94.2 L396.2,93.9 L396.7,94.2 L397.2,93.8 L397.7,93.8 L398.2,93.9 L398.7,93.6 L399.2,93.5 L399.7,93.0 L400.2,92.8 L400.7,92.8 L401.2,92.8 L401.7,92.8 L402.2,92.4 L402.7,91.9 L403.2,91.1 L403.7,89.9 L404.2,88.5 L404.7,87.1 L405.2,86.3 L405.7,86.7 L406.2,86.5 L406.7,87.9 L407.2,89.6 L407.7,90.7 L408.2,91.5 L408.7,91.6 L409.2,91.2 L409.7,91.4 L410.2,91.5 L410.7,92.2 L411.2,92.4 L411.7,92.0 L412.2,92.1 L412.7,91.8 L413.2,91.6 L413.7,91.8 L414.2,91.6 L414.7,92.1 L415.2,92.4 L415.7,92.8 L416.2,93.0 L416.7,92.7 L417.2,92.9 L417.7,93.2 L418.2,92.9 L418.7,92.2 L419.2,92.9 L419.7,93.4 L420.2,93.2 L420.7,93.5 L421.2,93.7 L421.7,93.1 L422.2,93.6 L422.7,93.9 L423.2,93.7 L423.7,93.2 L424.2,93.6 L424.7,93.8 L425.2,94.2 L425.7,94.3 L426.2,94.1 L426.7,94.1 L427.2,94.0 L427.7,93.9 L428.2,93.6 L428.7,94.0 L429.2,94.3 L429.7,94.1 L430.2,94.1 L430.7,93.9 L431.2,94.0 L431.7,94.3 L432.2,94.1 L432.7,94.9 L433.2,95.0 L433.7,95.3 L434.2,95.3 L434.7,94.7 L435.2,94.7 L435.7,94.8 L436.2,94.6 L436.7,94.6 L437.2,94.3 L437.7,94.0 L438.2,94.1 L438.7,94.0 L439.2,94.2 L439.7,94.8 L440.2,94.7 L440.7,94.6 L441.2,94.5 L441.7,94.6 L442.2,94.0 L442.7,94.2 L443.2,94.3 L443.7,94.7 L444.2,94.8 L444.7,94.6 L445.2,94.5 L445.7,94.4 L446.2,94.2 L446.7,94.3 L447.2,94.1 L447.7,95.2 L448.2,95.5" stroke="#b4ff32" stroke-width="2.4"/>
<path d="M252.6,123.8 L253.1,124.2 L253.6,124.8 L254.1,124.4 L254.6,123.7 L255.1,124.1 L255.6,124.7 L256.1,124.7 L256.6,124.4 L257.1,124.1 L257.6,123.5 L258.1,124.0 L258.6,124.2 L259.1,123.7 L259.6,123.7 L260.1,123.4 L260.6,124.2 L261.1,124.1 L261.6,123.9 L262.1,123.2 L262.6,123.5 L263.1,124.3 L263.6,123.9 L264.1,123.7 L264.6,124.0 L265.1,123.8 L265.6,123.3 L266.1,123.8 L266.6,124.5 L267.1,124.9 L267.6,124.9 L268.1,124.8 L268.6,124.7 L269.1,124.8 L269.6,124.4 L270.1,124.1 L270.6,124.1 L271.1,124.0 L271.6,123.6 L272.1,122.9 L272.6,122.2 L273.1,121.2 L273.6,120.3 L274.1,119.3 L274.6,118.5 L275.1,118.6 L275.6,118.9 L276.1,120.0 L276.6,120.8 L277.1,121.9 L277.6,122.4 L278.1,122.0 L278.6,122.8 L279.1,123.0 L279.6,122.9 L280.1,123.2 L280.6,123.2 L281.1,123.4 L281.6,123.3 L282.1,124.0 L282.6,124.5 L283.1,124.5 L283.6,124.6 L284.1,125.6 L284.6,125.9 L285.1,125.6 L285.6,125.6 L286.1,126.0 L286.6,126.7 L287.1,127.0 L287.6,126.3 L288.1,125.9 L288.6,126.5 L289.1,126.6 L289.6,126.6 L290.1,126.5 L290.6,126.1 L291.1,126.4 L291.6,126.6 L292.1,126.8 L292.6,127.1 L293.1,126.7 L293.6,126.3 L294.1,126.8 L294.6,126.9 L295.1,126.1 L295.6,125.6 L296.1,125.8 L296.6,126.2 L297.1,126.3 L297.6,126.0 L298.1,125.9 L298.6,125.6 L299.1,125.3 L299.6,125.4 L300.1,125.0 L300.6,124.8 L301.1,124.8 L301.6,124.2 L302.1,123.5 L302.6,122.9 L303.1,122.0 L303.6,121.7 L304.1,121.8 L304.6,121.1 L305.1,120.4 L305.6,120.4 L306.1,119.7 L306.6,119.4 L307.1,119.1 L307.6,118.7 L308.1,117.9 L308.6,117.1 L309.1,116.9 L309.6,116.0 L310.1,114.8 L310.6,114.1 L311.1,114.5 L311.6,114.3 L312.1,114.1 L312.6,114.5 L313.1,114.5 L313.6,114.5 L314.1,115.3 L314.6,115.7 L315.1,115.8 L315.6,115.9 L316.1,115.6 L316.6,114.1 L317.1,113.3 L317.6,113.0 L318.1,112.4 L318.6,112.0 L319.1,112.7 L319.6,113.3 L320.1,114.0 L320.6,114.8 L321.1,115.3 L321.6,115.7 L322.1,115.9 L322.6,116.0 L323.1,116.9 L323.6,117.5 L324.1,118.4 L324.6,119.1 L325.1,119.3 L325.6,119.7 L326.1,119.9 L326.6,120.0 L327.1,120.5 L327.6,121.2 L328.1,121.7 L328.6,122.0 L329.1,122.5 L329.6,122.0 L330.1,121.8 L330.6,122.4 L331.1,122.5 L331.6,122.9 L332.1,123.2 L332.7,123.0 L333.2,123.0 L333.7,123.2 L334.2,123.0 L334.7,123.4 L335.2,123.7 L335.7,124.1 L336.2,124.2 L336.7,124.2 L337.2,123.9 L337.7,123.3 L338.2,122.9 L338.7,123.6 L339.2,124.6 L339.7,124.3 L340.2,123.8 L340.7,124.3 L341.2,124.5 L341.7,124.2 L342.2,124.8 L342.7,124.8 L343.2,125.1 L343.7,125.4 L344.2,125.9 L344.7,125.0 L345.2,125.0 L345.7,124.8 L346.2,125.2 L346.7,125.2 L347.2,125.0 L347.7,124.4 L348.2,123.9 L348.7,123.6 L349.2,123.3 L349.7,123.3 L350.2,123.9 L350.7,124.3 L351.2,124.5 L351.7,124.3 L352.2,124.2 L352.7,124.5 L353.2,124.6 L353.7,125.0 L354.2,125.5 L354.7,125.5 L355.2,125.7 L355.7,126.0 L356.2,126.5 L356.7,126.5 L357.2,126.4 L357.7,126.9 L358.2,127.3 L358.7,128.0 L359.2,127.9 L359.7,127.6 L360.2,128.1 L360.7,128.4 L361.2,128.2 L361.7,127.8 L362.2,127.9 L362.7,128.0 L363.2,128.0 L363.7,127.8 L364.2,127.9 L364.7,127.2 L365.2,127.1 L365.7,126.4 L366.2,125.3 L366.7,125.0 L367.2,124.6 L367.7,124.4 L368.2,124.9 L368.7,124.4 L369.2,124.2 L369.7,123.8 L370.2,123.7 L370.7,123.7 L371.2,124.3 L371.7,124.3 L372.2,124.3 L372.7,124.8 L373.2,125.8 L373.7,125.7 L374.2,125.7 L374.7,125.2 L375.2,125.4 L375.7,125.6 L376.2,125.5 L376.7,126.1 L377.2,126.1 L377.7,126.0 L378.2,125.8 L378.7,125.7 L379.2,125.8 L379.7,126.2 L380.2,126.1 L380.7,126.0 L381.2,125.2 L381.7,124.9 L382.2,125.2 L382.7,124.4 L383.2,124.3 L383.7,124.6 L384.2,124.3 L384.7,123.4 L385.2,123.4 L385.7,123.5 L386.2,123.3 L386.7,123.1 L387.2,123.3 L387.7,123.2 L388.2,122.9 L388.7,122.6 L389.2,122.8 L389.7,122.9 L390.2,123.7 L390.7,124.1 L391.2,124.0 L391.7,124.4 L392.2,124.6 L392.7,124.8 L393.2,125.2 L393.7,125.3 L394.2,125.2 L394.7,125.6 L395.2,126.4 L395.7,126.5 L396.2,126.4 L396.7,126.4 L397.2,126.0 L397.7,125.9 L398.2,126.1 L398.7,126.2 L399.2,125.7 L399.7,125.0 L400.2,125.2 L400.7,125.2 L401.2,124.8 L401.7,123.9 L402.2,123.0 L402.7,122.3 L403.2,120.8 L403.7,118.9 L404.2,117.4 L404.7,115.6 L405.2,114.1 L405.7,113.9 L406.2,114.8 L406.7,117.0 L407.2,118.7 L407.7,119.8 L408.2,121.0 L408.7,121.9 L409.2,122.4 L409.7,122.6 L410.2,123.1 L410.7,122.7 L411.2,122.4 L411.7,123.0 L412.2,123.2 L412.7,123.4 L413.2,123.7 L413.7,123.3 L414.2,123.6 L414.7,124.5 L415.2,124.2 L415.7,124.4 L416.2,124.5 L416.7,124.7 L417.2,124.5 L417.7,124.6 L418.2,124.9 L418.7,124.9 L419.2,125.1 L419.7,125.4 L420.2,125.3 L420.7,125.1 L421.2,126.1 L421.7,126.6 L422.2,126.3 L422.7,126.0 L423.2,126.8 L423.7,127.0 L424.2,125.9 L424.7,125.5 L425.2,126.2 L425.7,126.6 L426.2,126.8 L426.7,126.7 L427.2,126.7 L427.7,127.0 L428.2,126.9 L428.7,126.7 L429.2,126.6 L429.7,126.7 L430.2,127.1 L430.7,127.0 L431.2,126.7 L431.7,126.8 L432.2,126.4 L432.7,126.3 L433.2,126.2 L433.7,125.5 L434.2,125.9 L434.7,126.4 L435.2,126.4 L435.7,126.0 L436.2,125.9 L436.7,126.0 L437.2,126.2 L437.7,126.2 L438.2,125.9 L438.7,126.2 L439.2,126.2 L439.7,126.0 L440.2,125.9 L440.7,126.0 L441.2,125.8 L441.7,126.1 L442.2,126.5 L442.7,126.2 L443.2,126.0 L443.7,126.6 L444.2,126.4 L444.7,125.7 L445.2,126.1 L445.7,125.7 L446.2,125.2 L446.7,126.1 L447.2,126.4 L447.7,126.4 L448.2,126.0" stroke="#96ff28" stroke-width="2.4"/>
<path d="M252.6,156.3 L253.1,156.3 L253.6,156.4 L254.1,156.5 L254.6,157.4 L255.1,157.4 L255.6,157.6 L256.1,157.5 L256.6,157.3 L257.1,157.3 L257.6,157.2 L258.1,157.0 L258.6,157.4 L259.1,156.6 L259.6,156.8 L260.1,156.6 L260.6,156.4 L261.1,156.7 L261.6,157.2 L262.1,157.4 L262.6,157.1 L263.1,157.4 L263.6,157.6 L264.1,157.5 L264.6,156.8 L265.1,157.0 L265.6,157.0 L266.1,157.2 L266.6,157.1 L267.1,156.9 L267.6,156.8 L268.1,156.7 L268.6,156.9 L269.1,157.4 L269.6,156.8 L270.1,156.1 L270.6,156.5 L271.1,156.4 L271.6,156.2 L272.1,155.6 L272.6,154.3 L273.1,153.1 L273.6,152.0 L274.1,150.9 L274.6,150.1 L275.1,150.6 L275.6,151.7 L276.1,152.2 L276.6,153.2 L277.1,154.4 L277.6,155.7 L278.1,156.4 L278.6,156.9 L279.1,156.9 L279.6,156.9 L280.1,156.9 L280.6,156.9 L281.1,157.7 L281.6,158.5 L282.1,159.7 L282.6,160.0 L283.1,159.6 L283.6,159.8 L284.1,160.3 L284.6,160.0 L285.1,160.6 L285.6,161.3 L286.1,161.8 L286.6,161.9 L287.1,162.3 L287.6,162.2 L288.1,162.3 L288.6,162.1 L289.1,161.9 L289.6,162.0 L290.1,162.0 L290.6,161.6 L291.1,161.0 L291.6,161.2 L292.1,161.0 L292.6,160.8 L293.1,160.8 L293.6,160.8 L294.1,161.1 L294.6,161.2 L295.1,161.0 L295.6,160.8 L296.1,160.5 L296.6,160.1 L297.1,159.6 L297.6,159.7 L298.1,160.1 L298.6,159.8 L299.1,159.1 L299.6,159.1 L300.1,159.2 L300.6,158.9 L301.1,158.9 L301.6,158.2 L302.1,158.2 L302.6,158.0 L303.1,157.5 L303.6,156.9 L304.1,156.0 L304.6,154.5 L305.1,154.3 L305.6,154.1 L306.1,153.4 L306.6,152.9 L307.1,152.0 L307.6,151.6 L308.1,151.1 L308.6,150.3 L309.1,149.3 L309.6,147.6 L310.1,145.5 L310.6,144.2 L311.1,143.5 L311.6,143.5 L312.1,144.6 L312.6,145.9 L313.1,146.6 L313.6,147.1 L314.1,148.0 L314.6,148.2 L315.1,147.6 L315.6,147.1 L316.1,146.1 L316.6,144.7 L317.1,143.7 L317.6,143.4 L318.1,143.7 L318.6,144.7 L319.1,146.1 L319.6,147.9 L320.1,149.4 L320.6,150.0 L321.1,150.4 L321.6,150.7 L322.1,151.0 L322.6,151.2 L323.1,152.1 L323.6,152.1 L324.1,152.3 L324.6,153.4 L325.1,153.9 L325.6,154.0 L326.1,154.1 L326.6,154.8 L327.1,156.0 L327.6,155.9 L328.1,156.1 L328.6,157.0 L329.1,156.6 L329.6,156.8 L330.1,157.4 L330.6,157.9 L331.1,158.4 L331.6,158.1 L332.1,158.4 L332.7,158.6 L333.2,159.2 L333.7,159.5 L334.2,159.5 L334.7,159.9 L335.2,160.7 L335.7,161.3 L336.2,160.9 L336.7,160.9 L337.2,161.1 L337.7,161.3 L338.2,161.5 L338.7,162.5 L339.2,162.2 L339.7,162.3 L340.2,162.0 L340.7,161.3 L341.2,161.3 L341.7,161.7 L342.2,161.7 L342.7,161.6 L343.2,161.8 L343.7,162.8 L344.2,162.4 L344.7,161.3 L345.2,161.6 L345.7,161.8 L346.2,161.4 L346.7,161.3 L347.2,161.5 L347.7,161.3 L348.2,160.9 L348.7,161.4 L349.2,161.6 L349.7,162.0 L350.2,161.3 L350.7,161.2 L351.2,162.3 L351.7,163.1 L352.2,163.3 L352.7,163.3 L353.2,163.4 L353.7,163.9 L354.2,163.8 L354.7,164.4 L355.2,164.4 L355.7,164.4 L356.2,164.3 L356.7,164.6 L357.2,165.1 L357.7,164.7 L358.2,164.7 L358.7,164.7 L359.2,164.8 L359.7,164.3 L360.2,164.6 L360.7,165.2 L361.2,165.2 L361.7,164.0 L362.2,163.6 L362.7,163.7 L363.2,164.1 L363.7,163.5 L364.2,163.5 L364.7,163.0 L365.2,162.6 L365.7,162.4 L366.2,162.4 L366.7,162.1 L367.2,161.0 L367.7,159.5 L368.2,159.2 L368.7,159.2 L369.2,158.9 L369.7,158.9 L370.2,159.0 L370.7,158.0 L371.2,158.2 L371.7,159.3 L372.2,159.0 L372.7,158.3 L373.2,157.7 L373.7,156.8 L374.2,157.3 L374.7,156.4 L375.2,156.1 L375.7,156.9 L376.2,157.4 L376.7,156.8 L377.2,157.0 L377.7,156.8 L378.2,156.9 L378.7,156.8 L379.2,157.4 L379.7,156.8 L380.2,156.8 L380.7,156.4 L381.2,157.1 L381.7,157.2 L382.2,157.2 L382.7,156.6 L383.2,156.8 L383.7,156.7 L384.2,156.9 L384.7,157.2 L385.2,156.9 L385.7,157.4 L386.2,158.0 L386.7,158.1 L387.2,157.6 L387.7,157.0 L388.2,156.9 L388.7,157.3 L389.2,157.1 L389.7,157.3 L390.2,157.1 L390.7,157.3 L391.2,157.6 L391.7,157.8 L392.2,157.9 L392.7,158.1 L393.2,158.4 L393.7,158.8 L394.2,159.0 L394.7,159.1 L395.2,158.9 L395.7,159.2 L396.2,159.1 L396.7,158.9 L397.2,158.4 L397.7,157.9 L398.2,157.7 L398.7,157.0 L399.2,156.3 L399.7,155.7 L400.2,155.9 L400.7,155.7 L401.2,154.8 L401.7,154.4 L402.2,153.7 L402.7,152.7 L403.2,150.7 L403.7,147.9 L404.2,145.2 L404.7,142.6 L405.2,141.9 L405.7,143.2 L406.2,145.8 L406.7,148.0 L407.2,150.3 L407.7,152.5 L408.2,153.9 L408.7,155.3 L409.2,156.3 L409.7,156.5 L410.2,157.0 L410.7,156.8 L411.2,156.9 L411.7,157.6 L412.2,158.2 L412.7,158.2 L413.2,158.4 L413.7,158.3 L414.2,158.5 L414.7,158.2 L415.2,158.7 L415.7,158.8 L416.2,159.7 L416.7,160.3 L417.2,160.5 L417.7,160.4 L418.2,160.3 L418.7,160.6 L419.2,161.2 L419.7,162.0 L420.2,161.8 L420.7,161.6 L421.2,161.7 L421.7,161.7 L422.2,161.8 L422.7,162.2 L423.2,162.3 L423.7,162.4 L424.2,162.5 L424.7,163.4 L425.2,163.7 L425.7,164.2 L426.2,164.0 L426.7,163.8 L427.2,164.1 L427.7,164.0 L428.2,163.8 L428.7,164.0 L429.2,164.7 L429.7,164.6 L430.2,164.2 L430.7,164.1 L431.2,164.1 L431.7,164.5 L432.2,164.2 L432.7,164.4 L433.2,164.2 L433.7,164.0 L434.2,164.0 L434.7,164.0 L435.2,164.0 L435.7,163.9 L436.2,164.7 L436.7,165.2 L437.2,164.7 L437.7,164.7 L438.2,164.4 L438.7,164.2 L439.2,164.8 L439.7,164.8 L440.2,164.7 L440.7,164.4 L441.2,164.2 L441.7,163.8 L442.2,164.1 L442.7,164.3 L443.2,163.6 L443.7,164.2 L444.2,164.8 L444.7,164.6 L445.2,164.3 L445.7,164.0 L446.2,164.4 L446.7,164.2 L447.2,163.9 L447.7,164.1 L448.2,163.6" stroke="#6eff1e" stroke-width="2.4"/>
<path d="M252.6,198.8 L253.1,199.1 L253.6,198.5 L254.1,198.2 L254.6,197.9 L255.1,198.3 L255.6,198.5 L256.1,198.4 L256.6,198.5 L257.1,198.3 L257.6,197.5 L258.1,197.5 L258.6,197.7 L259.1,197.7 L259.6,197.6 L260.1,197.3 L260.6,197.1 L261.1,196.7 L261.6,196.2 L262.1,195.8 L262.6,195.2 L263.1,195.5 L263.6,195.3 L264.1,195.3 L264.6,195.5 L265.1,196.0 L265.6,196.1 L266.1,196.7 L266.6,196.6 L267.1,196.6 L267.6,196.3 L268.1,196.5 L268.6,196.3 L269.1,196.2 L269.6,196.1 L270.1,196.3 L270.6,195.7 L271.1,194.8 L271.6,193.7 L272.1,192.2 L272.6,190.0 L273.1,188.2 L273.6,186.4 L274.1,184.6 L274.6,184.5 L275.1,184.8 L275.6,187.2 L276.1,190.0 L276.6,192.2 L277.1,193.6 L277.6,194.5 L278.1,196.2 L278.6,197.2 L279.1,197.1 L279.6,196.9 L280.1,197.8 L280.6,198.1 L281.1,198.6 L281.6,199.4 L282.1,199.7 L282.6,199.5 L283.1,199.7 L283.6,200.3 L284.1,200.0 L284.6,199.2 L285.1,198.6 L285.6,198.3 L286.1,197.8 L286.6,198.2 L287.1,197.8 L287.6,196.9 L288.1,196.6 L288.6,195.8 L289.1,195.9 L289.6,195.6 L290.1,195.0 L290.6,195.0 L291.1,195.2 L291.6,194.6 L292.1,194.7 L292.6,194.7 L293.1,195.1 L293.6,195.2 L294.1,196.7 L294.6,197.7 L295.1,198.1 L295.6,198.4 L296.1,197.6 L296.6,196.9 L297.1,196.3 L297.6,194.9 L298.1,193.3 L298.6,192.7 L299.1,192.1 L299.6,191.9 L300.1,191.3 L300.6,191.2 L301.1,191.2 L301.6,191.1 L302.1,191.0 L302.6,190.1 L303.1,189.4 L303.6,189.6 L304.1,188.8 L304.6,188.2 L305.1,187.9 L305.6,187.2 L306.1,186.6 L306.6,185.6 L307.1,185.0 L307.6,184.7 L308.1,183.7 L308.6,182.8 L309.1,181.9 L309.6,181.0 L310.1,179.2 L310.6,176.9 L311.1,175.2 L311.6,174.5 L312.1,175.4 L312.6,176.5 L313.1,177.6 L313.6,178.3 L314.1,179.4 L314.6,179.8 L315.1,179.9 L315.6,179.7 L316.1,178.7 L316.6,177.5 L317.1,176.4 L317.6,175.2 L318.1,175.2 L318.6,176.1 L319.1,178.3 L319.6,182.2 L320.1,185.7 L320.6,188.4 L321.1,190.3 L321.6,191.5 L322.1,192.0 L322.6,192.3 L323.1,192.9 L323.6,192.7 L324.1,192.2 L324.6,191.8 L325.1,191.3 L325.6,191.3 L326.1,190.8 L326.6,190.4 L327.1,190.1 L327.6,190.2 L328.1,189.7 L328.6,189.3 L329.1,189.3 L329.6,189.4 L330.1,189.3 L330.6,188.6 L331.1,188.8 L331.6,189.8 L332.1,189.5 L332.7,189.5 L333.2,189.5 L333.7,190.0 L334.2,190.5 L334.7,190.0 L335.2,190.5 L335.7,190.8 L336.2,191.0 L336.7,191.0 L337.2,191.3 L337.7,192.4 L338.2,192.5 L338.7,192.3 L339.2,192.7 L339.7,193.1 L340.2,194.7 L340.7,194.4 L341.2,193.9 L341.7,194.6 L342.2,195.1 L342.7,195.1 L343.2,194.8 L343.7,194.0 L344.2,193.3 L344.7,192.6 L345.2,193.0 L345.7,192.8 L346.2,191.9 L346.7,191.5 L347.2,190.8 L347.7,190.6 L348.2,190.2 L348.7,190.1 L349.2,190.9 L349.7,191.4 L350.2,191.3 L350.7,192.0 L351.2,191.8 L351.7,191.0 L352.2,192.2 L352.7,193.3 L353.2,193.4 L353.7,193.7 L354.2,193.7 L354.7,194.5 L355.2,194.6 L355.7,195.4 L356.2,196.3 L356.7,196.3 L357.2,196.5 L357.7,196.9 L358.2,196.8 L358.7,197.2 L359.2,197.9 L359.7,197.6 L360.2,197.8 L360.7,198.7 L361.2,198.4 L361.7,198.4 L362.2,198.5 L362.7,197.7 L363.2,196.9 L363.7,196.7 L364.2,196.2 L364.7,196.2 L365.2,195.8 L365.7,194.3 L366.2,194.0 L366.7,193.4 L367.2,193.3 L367.7,193.0 L368.2,193.3 L368.7,194.0 L369.2,194.3 L369.7,195.0 L370.2,195.3 L370.7,195.2 L371.2,195.4 L371.7,194.9 L372.2,194.4 L372.7,194.2 L373.2,194.4 L373.7,195.0 L374.2,195.0 L374.7,194.7 L375.2,195.2 L375.7,196.3 L376.2,196.6 L376.7,196.6 L377.2,196.1 L377.7,196.1 L378.2,196.0 L378.7,195.2 L379.2,195.0 L379.7,194.4 L380.2,194.1 L380.7,193.7 L381.2,192.9 L381.7,192.7 L382.2,192.1 L382.7,191.7 L383.2,192.6 L383.7,193.5 L384.2,193.8 L384.7,194.0 L385.2,193.8 L385.7,193.6 L386.2,193.1 L386.7,192.6 L387.2,193.4 L387.7,194.4 L388.2,194.9 L388.7,195.5 L389.2,195.8 L389.7,196.1 L390.2,196.6 L390.7,197.3 L391.2,197.9 L391.7,198.0 L392.2,197.6 L392.7,197.0 L393.2,196.8 L393.7,196.5 L394.2,196.6 L394.7,196.3 L395.2,195.6 L395.7,195.2 L396.2,194.7 L396.7,195.1 L397.2,194.7 L397.7,194.6 L398.2,194.9 L398.7,194.7 L399.2,194.2 L399.7,194.5 L400.2,194.4 L400.7,193.8 L401.2,192.9 L401.7,191.6 L402.2,190.4 L402.7,187.7 L403.2,184.7 L403.7,181.7 L404.2,177.5 L404.7,173.0 L405.2,170.5 L405.7,169.4 L406.2,171.5 L406.7,175.9 L407.2,180.4 L407.7,183.5 L408.2,185.7 L408.7,187.1 L409.2,188.2 L409.7,188.8 L410.2,189.2 L410.7,189.4 L411.2,189.8 L411.7,191.1 L412.2,191.8 L412.7,192.7 L413.2,193.5 L413.7,194.0 L414.2,194.3 L414.7,195.1 L415.2,195.8 L415.7,195.9 L416.2,196.2 L416.7,196.5 L417.2,196.5 L417.7,196.8 L418.2,197.1 L418.7,197.7 L419.2,197.6 L419.7,197.6 L420.2,198.2 L420.7,198.6 L421.2,198.2 L421.7,198.4 L422.2,199.1 L422.7,199.1 L423.2,198.8 L423.7,199.1 L424.2,198.9 L424.7,199.4 L425.2,199.5 L425.7,199.7 L426.2,200.2 L426.7,200.7 L427.2,201.1 L427.7,201.1 L428.2,200.8 L428.7,200.2 L429.2,200.4 L429.7,200.6 L430.2,200.6 L430.7,200.9 L431.2,201.1 L431.7,201.3 L432.2,200.7 L432.7,200.1 L433.2,200.3 L433.7,200.5 L434.2,200.8 L434.7,200.9 L435.2,200.8 L435.7,200.4 L436.2,199.8 L436.7,199.3 L437.2,199.3 L437.7,199.6 L438.2,199.5 L438.7,199.5 L439.2,199.6 L439.7,199.3 L440.2,199.6 L440.7,198.8 L441.2,199.1 L441.7,199.3 L442.2,199.5 L442.7,199.2 L443.2,199.1 L443.7,199.0 L444.2,198.8 L444.7,198.7 L445.2,199.0 L445.7,199.0 L446.2,199.5 L446.7,199.7 L447.2,199.0 L447.7,198.9 L448.2,198.6" stroke="#55f51e" stroke-width="2.4"/>
<path d="M252.6,238.4 L253.1,238.0 L253.6,237.4 L254.1,237.3 L254.6,238.1 L255.1,238.1 L255.6,237.9 L256.1,237.9 L256.6,237.3 L257.1,236.9 L257.6,237.1 L258.1,236.8 L258.6,236.9 L259.1,237.1 L259.6,236.5 L260.1,236.9 L260.6,237.2 L261.1,236.9 L261.6,237.1 L262.1,237.4 L262.6,237.7 L263.1,237.8 L263.6,237.6 L264.1,237.8 L264.6,237.7 L265.1,237.6 L265.6,237.1 L266.1,235.6 L266.6,234.3 L267.1,233.4 L267.6,233.3 L268.1,233.5 L268.6,233.5 L269.1,233.9 L269.6,233.7 L270.1,234.3 L270.6,234.4 L271.1,234.0 L271.6,233.3 L272.1,232.7 L272.6,232.0 L273.1,230.8 L273.6,229.8 L274.1,228.6 L274.6,228.0 L275.1,227.6 L275.6,228.4 L276.1,230.4 L276.6,231.8 L277.1,232.9 L277.6,233.8 L278.1,234.4 L278.6,235.0 L279.1,235.4 L279.6,235.7 L280.1,236.6 L280.6,237.2 L281.1,238.4 L281.6,238.5 L282.1,238.6 L282.6,239.4 L283.1,240.1 L283.6,240.8 L284.1,241.1 L284.6,240.9 L285.1,240.6 L285.6,241.0 L286.1,241.6 L286.6,241.3 L287.1,240.1 L287.6,240.5 L288.1,240.3 L288.6,239.3 L289.1,239.4 L289.6,238.7 L290.1,238.4 L290.6,238.4 L291.1,238.6 L291.6,238.4 L292.1,237.8 L292.6,237.4 L293.1,236.5 L293.6,236.6 L294.1,236.5 L294.6,236.2 L295.1,235.8 L295.6,236.4 L296.1,236.5 L296.6,236.4 L297.1,235.7 L297.6,235.6 L298.1,235.7 L298.6,236.5 L299.1,237.0 L299.6,237.5 L300.1,237.4 L300.6,236.7 L301.1,235.5 L301.6,234.0 L302.1,233.0 L302.6,231.1 L303.1,230.3 L303.6,229.2 L304.1,227.9 L304.6,227.0 L305.1,226.5 L305.6,226.0 L306.1,225.5 L306.6,224.6 L307.1,223.8 L307.6,223.5 L308.1,223.2 L308.6,221.5 L309.1,219.9 L309.6,217.6 L310.1,215.7 L310.6,214.6 L311.1,213.8 L311.6,213.8 L312.1,214.0 L312.6,214.5 L313.1,215.2 L313.6,215.7 L314.1,216.3 L314.6,216.2 L315.1,215.5 L315.6,214.0 L316.1,212.4 L316.6,210.8 L317.1,209.4 L317.6,209.0 L318.1,210.4 L318.6,212.4 L319.1,215.1 L319.6,217.2 L320.1,218.6 L320.6,220.3 L321.1,222.2 L321.6,223.9 L322.1,224.6 L322.6,225.2 L323.1,226.8 L323.6,227.7 L324.1,228.7 L324.6,229.5 L325.1,229.6 L325.6,230.0 L326.1,230.6 L326.6,231.8 L327.1,233.3 L327.6,234.6 L328.1,235.5 L328.6,236.4 L329.1,237.2 L329.6,237.7 L330.1,237.5 L330.6,237.0 L331.1,237.7 L331.6,238.3 L332.1,237.7 L332.7,237.6 L333.2,238.0 L333.7,237.7 L334.2,238.1 L334.7,238.8 L335.2,238.6 L335.7,238.1 L336.2,238.6 L336.7,238.6 L337.2,238.6 L337.7,239.1 L338.2,239.0 L338.7,238.9 L339.2,238.9 L339.7,239.4 L340.2,239.4 L340.7,239.6 L341.2,239.9 L341.7,239.4 L342.2,239.0 L342.7,239.2 L343.2,239.4 L343.7,239.2 L344.2,238.7 L344.7,239.6 L345.2,240.2 L345.7,239.8 L346.2,239.4 L346.7,239.8 L347.2,239.7 L347.7,239.3 L348.2,238.2 L348.7,236.5 L349.2,235.0 L349.7,235.0 L350.2,235.8 L350.7,236.8 L351.2,237.8 L351.7,239.1 L352.2,239.5 L352.7,240.4 L353.2,240.2 L353.7,240.4 L354.2,240.3 L354.7,240.3 L355.2,239.9 L355.7,238.8 L356.2,238.6 L356.7,238.5 L357.2,238.3 L357.7,238.8 L358.2,239.3 L358.7,239.2 L359.2,239.9 L359.7,240.1 L360.2,240.3 L360.7,240.6 L361.2,240.8 L361.7,241.0 L362.2,241.6 L362.7,241.7 L363.2,241.4 L363.7,241.0 L364.2,240.4 L364.7,240.3 L365.2,239.6 L365.7,239.1 L366.2,239.0 L366.7,238.5 L367.2,238.4 L367.7,237.9 L368.2,236.9 L368.7,236.6 L369.2,236.5 L369.7,236.3 L370.2,236.0 L370.7,235.8 L371.2,234.9 L371.7,234.4 L372.2,234.1 L372.7,234.0 L373.2,233.9 L373.7,234.1 L374.2,234.2 L374.7,233.5 L375.2,233.1 L375.7,232.9 L376.2,232.7 L376.7,232.6 L377.2,232.8 L377.7,232.8 L378.2,232.1 L378.7,231.9 L379.2,232.1 L379.7,231.8 L380.2,231.4 L380.7,231.6 L381.2,231.4 L381.7,231.0 L382.2,231.3 L382.7,230.9 L383.2,230.9 L383.7,231.2 L384.2,230.9 L384.7,231.2 L385.2,231.1 L385.7,231.0 L386.2,231.8 L386.7,232.3 L387.2,233.0 L387.7,233.7 L388.2,234.0 L388.7,234.6 L389.2,235.0 L389.7,235.7 L390.2,236.4 L390.7,236.3 L391.2,236.3 L391.7,236.0 L392.2,235.8 L392.7,236.0 L393.2,235.3 L393.7,235.1 L394.2,234.6 L394.7,234.3 L395.2,234.6 L395.7,233.8 L396.2,233.4 L396.7,232.6 L397.2,232.0 L397.7,231.9 L398.2,231.3 L398.7,230.8 L399.2,230.5 L399.7,230.3 L400.2,230.0 L400.7,229.6 L401.2,229.2 L401.7,228.2 L402.2,226.9 L402.7,225.1 L403.2,222.0 L403.7,219.3 L404.2,215.8 L404.7,212.3 L405.2,210.7 L405.7,212.0 L406.2,215.5 L406.7,218.9 L407.2,222.4 L407.7,225.5 L408.2,228.5 L408.7,229.7 L409.2,230.6 L409.7,230.9 L410.2,231.7 L410.7,232.4 L411.2,232.6 L411.7,233.2 L412.2,234.1 L412.7,234.8 L413.2,235.7 L413.7,236.6 L414.2,236.7 L414.7,237.2 L415.2,237.7 L415.7,238.6 L416.2,239.1 L416.7,239.6 L417.2,240.2 L417.7,240.4 L418.2,240.6 L418.7,241.0 L419.2,241.4 L419.7,241.7 L420.2,242.1 L420.7,242.4 L421.2,242.8 L421.7,242.7 L422.2,243.1 L422.7,243.6 L423.2,243.9 L423.7,243.8 L424.2,244.0 L424.7,244.2 L425.2,245.0 L425.7,245.3 L426.2,245.4 L426.7,245.7 L427.2,246.4 L427.7,245.9 L428.2,245.3 L428.7,245.4 L429.2,245.6 L429.7,245.9 L430.2,245.7 L430.7,246.0 L431.2,245.8 L431.7,246.1 L432.2,246.2 L432.7,246.4 L433.2,246.1 L433.7,246.0 L434.2,246.1 L434.7,245.6 L435.2,245.2 L435.7,245.1 L436.2,245.6 L436.7,245.7 L437.2,245.0 L437.7,244.6 L438.2,245.3 L438.7,245.6 L439.2,244.9 L439.7,245.0 L440.2,245.0 L440.7,244.4 L441.2,243.7 L441.7,243.7 L442.2,243.4 L442.7,243.1 L443.2,242.5 L443.7,243.0 L444.2,242.7 L444.7,242.1 L445.2,242.2 L445.7,243.0 L446.2,243.4 L446.7,243.5 L447.2,243.7 L447.7,242.7 L448.2,241.9" stroke="#41e614" stroke-width="2.4"/>
<path d="M252.6,267.0 L253.1,266.7 L253.6,266.6 L254.1,267.3 L254.6,267.8 L255.1,267.2 L255.6,266.5 L256.1,267.2 L256.6,267.7 L257.1,267.3 L257.6,266.7 L258.1,266.4 L258.6,266.9 L259.1,267.5 L259.6,267.4 L260.1,267.2 L260.6,267.1 L261.1,267.1 L261.6,267.1 L262.1,266.9 L262.6,267.1 L263.1,266.9 L263.6,266.5 L264.1,266.5 L264.6,267.2 L265.1,267.7 L265.6,267.3 L266.1,267.1 L266.6,266.3 L267.1,265.8 L267.6,265.3 L268.1,265.1 L268.6,265.4 L269.1,265.3 L269.6,264.6 L270.1,264.3 L270.6,263.6 L271.1,263.5 L271.6,262.9 L272.1,261.8 L272.6,261.3 L273.1,259.7 L273.6,258.9 L274.1,258.7 L274.6,258.6 L275.1,260.1 L275.6,261.3 L276.1,262.5 L276.6,263.0 L277.1,263.5 L277.6,264.3 L278.1,264.9 L278.6,264.5 L279.1,264.4 L279.6,265.0 L280.1,265.7 L280.6,265.2 L281.1,265.3 L281.6,265.6 L282.1,266.0 L282.6,266.4 L283.1,266.5 L283.6,266.8 L284.1,268.3 L284.6,268.5 L285.1,268.3 L285.6,268.1 L286.1,267.9 L286.6,267.6 L287.1,267.7 L287.6,268.3 L288.1,268.7 L288.6,268.8 L289.1,268.6 L289.6,268.3 L290.1,268.5 L290.6,268.5 L291.1,267.9 L291.6,267.8 L292.1,268.1 L292.6,267.7 L293.1,267.8 L293.6,267.7 L294.1,268.1 L294.6,268.1 L295.1,266.9 L295.6,266.9 L296.1,267.3 L296.6,267.1 L297.1,266.8 L297.6,266.2 L298.1,265.7 L298.6,266.1 L299.1,266.3 L299.6,266.3 L300.1,265.8 L300.6,264.4 L301.1,264.3 L301.6,264.3 L302.1,264.1 L302.6,263.4 L303.1,263.1 L303.6,262.4 L304.1,262.4 L304.6,261.5 L305.1,261.0 L305.6,261.0 L306.1,260.4 L306.6,260.2 L307.1,259.6 L307.6,259.2 L308.1,259.0 L308.6,258.1 L309.1,257.1 L309.6,256.2 L310.1,254.9 L310.6,254.0 L311.1,254.0 L311.6,254.0 L312.1,254.3 L312.6,254.9 L313.1,254.9 L313.6,255.0 L314.1,255.3 L314.6,255.1 L315.1,254.5 L315.6,253.5 L316.1,252.7 L316.6,251.9 L317.1,251.3 L317.6,251.8 L318.1,253.0 L318.6,254.2 L319.1,255.0 L319.6,255.7 L320.1,256.5 L320.6,257.3 L321.1,257.7 L321.6,258.4 L322.1,258.9 L322.6,258.9 L323.1,259.0 L323.6,259.6 L324.1,260.5 L324.6,261.5 L325.1,262.8 L325.6,263.6 L326.1,264.5 L326.6,264.9 L327.1,265.3 L327.6,266.0 L328.1,266.0 L328.6,266.3 L329.1,266.0 L329.6,266.3 L330.1,266.6 L330.6,266.8 L331.1,266.6 L331.6,266.4 L332.1,266.7 L332.7,267.3 L333.2,267.7 L333.7,267.9 L334.2,267.7 L334.7,267.5 L335.2,267.5 L335.7,267.5 L336.2,267.9 L336.7,267.5 L337.2,267.4 L337.7,267.6 L338.2,268.0 L338.7,268.6 L339.2,267.7 L339.7,267.0 L340.2,267.5 L340.7,268.1 L341.2,267.9 L341.7,268.1 L342.2,268.6 L342.7,268.4 L343.2,268.2 L343.7,268.4 L344.2,268.3 L344.7,268.8 L345.2,269.1 L345.7,268.1 L346.2,268.4 L346.7,267.7 L347.2,267.5 L347.7,266.8 L348.2,266.7 L348.7,266.4 L349.2,266.3 L349.7,266.3 L350.2,266.9 L350.7,266.8 L351.2,265.8 L351.7,265.9 L352.2,266.4 L352.7,266.8 L353.2,268.0 L353.7,268.3 L354.2,267.9 L354.7,267.4 L355.2,268.0 L355.7,268.6 L356.2,268.4 L356.7,268.9 L357.2,269.3 L357.7,269.7 L358.2,269.7 L358.7,269.6 L359.2,269.7 L359.7,270.2 L360.2,270.4 L360.7,270.6 L361.2,270.4 L361.7,271.2 L362.2,271.4 L362.7,270.9 L363.2,269.9 L363.7,269.6 L364.2,269.9 L364.7,269.6 L365.2,268.8 L365.7,268.3 L366.2,267.6 L366.7,267.1 L367.2,266.9 L367.7,266.7 L368.2,266.7 L368.7,266.6 L369.2,266.6 L369.7,267.0 L370.2,266.8 L370.7,266.7 L371.2,267.4 L371.7,266.7 L372.2,267.3 L372.7,267.6 L373.2,267.3 L373.7,267.4 L374.2,268.1 L374.7,268.8 L375.2,269.1 L375.7,269.1 L376.2,269.2 L376.7,269.6 L377.2,269.9 L377.7,269.8 L378.2,269.9 L378.7,269.7 L379.2,268.6 L379.7,267.8 L380.2,267.0 L380.7,266.4 L381.2,266.8 L381.7,266.5 L382.2,267.1 L382.7,267.9 L383.2,269.0 L383.7,269.9 L384.2,270.6 L384.7,270.3 L385.2,269.1 L385.7,267.8 L386.2,266.8 L386.7,266.2 L387.2,265.8 L387.7,266.2 L388.2,265.9 L388.7,266.4 L389.2,266.9 L389.7,266.9 L390.2,267.1 L390.7,267.1 L391.2,267.1 L391.7,267.6 L392.2,267.9 L392.7,267.0 L393.2,267.2 L393.7,267.4 L394.2,267.8 L394.7,268.0 L395.2,267.5 L395.7,267.6 L396.2,268.3 L396.7,268.1 L397.2,267.6 L397.7,267.7 L398.2,267.8 L398.7,267.5 L399.2,266.5 L399.7,266.9 L400.2,267.2 L400.7,266.5 L401.2,266.0 L401.7,265.8 L402.2,265.1 L402.7,264.3 L403.2,263.0 L403.7,261.2 L404.2,259.7 L404.7,257.8 L405.2,256.2 L405.7,255.8 L406.2,256.7 L406.7,258.4 L407.2,259.5 L407.7,261.1 L408.2,262.1 L408.7,262.4 L409.2,263.4 L409.7,263.4 L410.2,263.8 L410.7,264.4 L411.2,264.8 L411.7,265.2 L412.2,265.6 L412.7,265.3 L413.2,265.8 L413.7,266.2 L414.2,266.2 L414.7,266.4 L415.2,267.1 L415.7,267.8 L416.2,268.0 L416.7,267.9 L417.2,268.4 L417.7,268.6 L418.2,269.2 L418.7,268.9 L419.2,268.7 L419.7,268.9 L420.2,268.6 L420.7,269.0 L421.2,269.3 L421.7,268.8 L422.2,268.8 L422.7,269.1 L423.2,269.4 L423.7,268.7 L424.2,268.5 L424.7,268.6 L425.2,268.5 L425.7,268.2 L426.2,268.5 L426.7,268.7 L427.2,269.2 L427.7,269.1 L428.2,269.1 L428.7,268.8 L429.2,269.0 L429.7,268.7 L430.2,268.7 L430.7,268.7 L431.2,268.7 L431.7,269.0 L432.2,269.3 L432.7,269.2 L433.2,269.1 L433.7,269.1 L434.2,269.1 L434.7,269.5 L435.2,269.6 L435.7,269.0 L436.2,268.8 L436.7,269.3 L437.2,269.5 L437.7,269.0 L438.2,269.2 L438.7,268.9 L439.2,268.5 L439.7,268.8 L440.2,268.9 L440.7,268.9 L441.2,269.2 L441.7,268.3 L442.2,268.3 L442.7,268.4 L443.2,268.3 L443.7,268.5 L444.2,268.9 L444.7,269.1 L445.2,269.0 L445.7,269.1 L446.2,268.9 L446.7,268.6 L447.2,268.7 L447.7,269.2 L448.2,268.8" stroke="#3cc81e" stroke-width="2.4"/>
<path d="M252.6,291.1 L253.1,291.4 L253.6,291.4 L254.1,291.7 L254.6,291.9 L255.1,291.5 L255.6,291.2 L256.1,292.0 L256.6,292.4 L257.1,291.7 L257.6,290.9 L258.1,291.0 L258.6,291.1 L259.1,290.5 L259.6,290.5 L260.1,290.6 L260.6,290.9 L261.1,291.5 L261.6,291.5 L262.1,291.6 L262.6,291.3 L263.1,291.1 L263.6,291.0 L264.1,291.3 L264.6,291.8 L265.1,291.7 L265.6,291.5 L266.1,291.2 L266.6,290.3 L267.1,289.9 L267.6,289.4 L268.1,289.4 L268.6,289.7 L269.1,289.0 L269.6,288.7 L270.1,288.8 L270.6,288.6 L271.1,288.7 L271.6,288.7 L272.1,288.3 L272.6,287.4 L273.1,286.5 L273.6,285.5 L274.1,284.8 L274.6,285.2 L275.1,286.0 L275.6,286.6 L276.1,287.2 L276.6,287.8 L277.1,288.2 L277.6,288.2 L278.1,288.5 L278.6,288.5 L279.1,288.7 L279.6,289.2 L280.1,289.3 L280.6,289.3 L281.1,289.2 L281.6,289.8 L282.1,290.1 L282.6,289.4 L283.1,289.1 L283.6,289.0 L284.1,289.2 L284.6,289.5 L285.1,289.8 L285.6,289.9 L286.1,290.0 L286.6,289.9 L287.1,290.3 L287.6,290.9 L288.1,291.4 L288.6,291.5 L289.1,291.4 L289.6,291.0 L290.1,290.2 L290.6,290.2 L291.1,290.3 L291.6,290.5 L292.1,290.9 L292.6,291.2 L293.1,290.5 L293.6,289.7 L294.1,290.1 L294.6,290.9 L295.1,291.0 L295.6,290.7 L296.1,291.1 L296.6,291.3 L297.1,291.3 L297.6,290.5 L298.1,290.9 L298.6,291.1 L299.1,291.1 L299.6,290.9 L300.1,290.6 L300.6,290.4 L301.1,289.9 L301.6,289.6 L302.1,290.1 L302.6,289.9 L303.1,289.7 L303.6,290.0 L304.1,289.5 L304.6,289.1 L305.1,289.0 L305.6,288.4 L306.1,287.9 L306.6,287.3 L307.1,287.2 L307.6,286.6 L308.1,286.0 L308.6,285.0 L309.1,283.9 L309.6,282.6 L310.1,282.4 L310.6,283.2 L311.1,283.9 L311.6,284.5 L312.1,285.2 L312.6,285.8 L313.1,286.2 L313.6,286.1 L314.1,286.1 L314.6,285.6 L315.1,285.0 L315.6,283.8 L316.1,282.4 L316.6,281.3 L317.1,280.9 L317.6,281.5 L318.1,282.6 L318.6,283.0 L319.1,283.5 L319.6,284.5 L320.1,285.4 L320.6,286.4 L321.1,286.4 L321.6,286.3 L322.1,286.7 L322.6,286.9 L323.1,287.3 L323.6,287.1 L324.1,286.8 L324.6,287.3 L325.1,287.4 L325.6,287.7 L326.1,287.5 L326.6,288.5 L327.1,288.5 L327.6,288.8 L328.1,289.6 L328.6,289.6 L329.1,289.9 L329.6,289.8 L330.1,290.5 L330.6,290.9 L331.1,290.5 L331.6,290.0 L332.1,290.5 L332.7,290.3 L333.2,289.9 L333.7,289.9 L334.2,290.0 L334.7,290.0 L335.2,290.1 L335.7,290.4 L336.2,290.5 L336.7,290.6 L337.2,290.6 L337.7,290.5 L338.2,290.8 L338.7,291.1 L339.2,291.5 L339.7,291.6 L340.2,290.9 L340.7,291.1 L341.2,290.8 L341.7,291.0 L342.2,290.8 L342.7,291.4 L343.2,291.6 L343.7,291.2 L344.2,291.0 L344.7,290.8 L345.2,291.1 L345.7,291.3 L346.2,290.6 L346.7,290.1 L347.2,289.8 L347.7,290.0 L348.2,289.9 L348.7,289.7 L349.2,289.5 L349.7,289.1 L350.2,289.4 L350.7,289.3 L351.2,289.1 L351.7,289.0 L352.2,289.4 L352.7,290.1 L353.2,290.3 L353.7,290.6 L354.2,290.8 L354.7,290.5 L355.2,290.5 L355.7,291.2 L356.2,291.2 L356.7,290.7 L357.2,290.8 L357.7,291.2 L358.2,291.4 L358.7,291.1 L359.2,290.8 L359.7,291.1 L360.2,291.9 L360.7,292.1 L361.2,292.1 L361.7,291.5 L362.2,291.5 L362.7,291.8 L363.2,291.9 L363.7,291.5 L364.2,291.2 L364.7,291.5 L365.2,291.4 L365.7,291.3 L366.2,291.9 L366.7,292.1 L367.2,291.5 L367.7,291.2 L368.2,291.8 L368.7,292.3 L369.2,291.8 L369.7,291.4 L370.2,291.6 L370.7,292.4 L371.2,292.3 L371.7,291.9 L372.2,291.5 L372.7,291.3 L373.2,291.3 L373.7,291.9 L374.2,291.9 L374.7,291.2 L375.2,291.3 L375.7,290.4 L376.2,289.9 L376.7,290.4 L377.2,290.9 L377.7,290.8 L378.2,290.3 L378.7,290.4 L379.2,290.5 L379.7,289.9 L380.2,290.5 L380.7,290.5 L381.2,290.1 L381.7,290.5 L382.2,290.5 L382.7,289.6 L383.2,289.7 L383.7,289.8 L384.2,289.9 L384.7,290.1 L385.2,290.1 L385.7,290.4 L386.2,290.6 L386.7,290.5 L387.2,290.2 L387.7,291.0 L388.2,291.6 L388.7,291.7 L389.2,292.2 L389.7,292.0 L390.2,291.4 L390.7,292.5 L391.2,292.3 L391.7,292.1 L392.2,292.1 L392.7,292.1 L393.2,292.1 L393.7,291.4 L394.2,291.4 L394.7,291.3 L395.2,291.4 L395.7,291.5 L396.2,291.4 L396.7,291.2 L397.2,291.0 L397.7,290.8 L398.2,290.9 L398.7,290.6 L399.2,290.7 L399.7,291.1 L400.2,291.0 L400.7,290.4 L401.2,289.8 L401.7,289.3 L402.2,289.3 L402.7,288.9 L403.2,287.9 L403.7,286.5 L404.2,285.2 L404.7,283.6 L405.2,282.0 L405.7,282.4 L406.2,283.6 L406.7,285.1 L407.2,286.1 L407.7,287.1 L408.2,287.9 L408.7,288.8 L409.2,289.0 L409.7,289.4 L410.2,289.1 L410.7,288.9 L411.2,289.7 L411.7,290.0 L412.2,289.9 L412.7,289.7 L413.2,289.7 L413.7,290.7 L414.2,290.7 L414.7,290.4 L415.2,290.6 L415.7,290.8 L416.2,290.6 L416.7,290.3 L417.2,290.4 L417.7,290.2 L418.2,290.6 L418.7,290.9 L419.2,291.2 L419.7,291.2 L420.2,291.2 L420.7,291.0 L421.2,291.6 L421.7,291.7 L422.2,292.1 L422.7,292.6 L423.2,292.6 L423.7,292.4 L424.2,292.2 L424.7,292.8 L425.2,293.9 L425.7,292.8 L426.2,292.7 L426.7,292.7 L427.2,292.5 L427.7,292.6 L428.2,292.3 L428.7,292.7 L429.2,292.9 L429.7,292.9 L430.2,293.0 L430.7,292.7 L431.2,292.9 L431.7,293.1 L432.2,292.9 L432.7,293.0 L433.2,292.6 L433.7,292.8 L434.2,292.8 L434.7,292.9 L435.2,292.9 L435.7,292.8 L436.2,292.5 L436.7,293.5 L437.2,293.5 L437.7,293.5 L438.2,293.5 L438.7,294.3 L439.2,294.4 L439.7,294.4 L440.2,293.7 L440.7,293.5 L441.2,293.7 L441.7,293.7 L442.2,294.4 L442.7,294.2 L443.2,293.9 L443.7,293.9 L444.2,294.1 L444.7,293.7 L445.2,293.3 L445.7,293.3 L446.2,293.4 L446.7,293.7 L447.2,294.0 L447.7,293.9 L448.2,293.9" stroke="#32aa32" stroke-width="2.4"/>
<path d="M252.6,316.5 L253.1,316.7 L253.6,316.8 L254.1,316.6 L254.6,316.7 L255.1,316.7 L255.6,316.2 L256.1,316.1 L256.6,316.1 L257.1,315.7 L257.6,315.5 L258.1,315.9 L258.6,315.8 L259.1,315.4 L259.6,315.1 L260.1,314.8 L260.6,315.0 L261.1,315.4 L261.6,314.9 L262.1,315.4 L262.6,315.7 L263.1,315.4 L263.6,315.4 L264.1,315.8 L264.6,315.5 L265.1,315.2 L265.6,315.8 L266.1,316.0 L266.6,315.2 L267.1,314.9 L267.6,315.3 L268.1,315.7 L268.6,315.9 L269.1,315.6 L269.6,315.4 L270.1,315.7 L270.6,315.6 L271.1,315.4 L271.6,315.1 L272.1,314.6 L272.6,313.5 L273.1,313.4 L273.6,313.3 L274.1,313.2 L274.6,313.4 L275.1,314.2 L275.6,314.5 L276.1,315.2 L276.6,315.5 L277.1,315.5 L277.6,315.5 L278.1,315.7 L278.6,315.9 L279.1,316.1 L279.6,315.7 L280.1,315.8 L280.6,316.4 L281.1,316.6 L281.6,316.9 L282.1,317.0 L282.6,316.5 L283.1,316.1 L283.6,316.6 L284.1,316.7 L284.6,316.7 L285.1,316.5 L285.6,316.5 L286.1,316.4 L286.6,315.9 L287.1,315.9 L287.6,316.6 L288.1,317.2 L288.6,317.2 L289.1,317.2 L289.6,317.0 L290.1,316.9 L290.6,317.3 L291.1,317.1 L291.6,316.7 L292.1,316.5 L292.6,316.7 L293.1,316.6 L293.6,316.3 L294.1,316.2 L294.6,315.9 L295.1,316.3 L295.6,316.3 L296.1,315.7 L296.6,315.8 L297.1,315.6 L297.6,315.7 L298.1,315.8 L298.6,315.6 L299.1,315.7 L299.6,315.3 L300.1,315.2 L300.6,315.1 L301.1,315.3 L301.6,315.7 L302.1,315.6 L302.6,315.7 L303.1,315.2 L303.6,315.0 L304.1,315.3 L304.6,315.3 L305.1,314.9 L305.6,314.7 L306.1,314.7 L306.6,314.3 L307.1,313.8 L307.6,313.0 L308.1,312.6 L308.6,312.3 L309.1,311.8 L309.6,311.3 L310.1,310.2 L310.6,309.2 L311.1,308.8 L311.6,308.5 L312.1,308.8 L312.6,309.4 L313.1,309.7 L313.6,310.9 L314.1,311.3 L314.6,311.6 L315.1,310.7 L315.6,309.5 L316.1,308.9 L316.6,308.6 L317.1,308.2 L317.6,307.7 L318.1,308.0 L318.6,309.4 L319.1,310.6 L319.6,311.1 L320.1,310.9 L320.6,311.4 L321.1,312.1 L321.6,312.6 L322.1,312.0 L322.6,311.7 L323.1,311.9 L323.6,311.4 L324.1,312.2 L324.6,312.8 L325.1,313.5 L325.6,313.2 L326.1,313.4 L326.6,314.5 L327.1,314.4 L327.6,314.1 L328.1,314.0 L328.6,313.9 L329.1,314.0 L329.6,314.7 L330.1,314.8 L330.6,315.3 L331.1,315.5 L331.6,315.7 L332.1,315.6 L332.7,315.3 L333.2,315.2 L333.7,315.1 L334.2,314.8 L334.7,314.5 L335.2,315.0 L335.7,315.1 L336.2,316.1 L336.7,315.6 L337.2,315.1 L337.7,315.6 L338.2,316.1 L338.7,316.0 L339.2,315.8 L339.7,315.9 L340.2,316.0 L340.7,315.7 L341.2,315.8 L341.7,316.1 L342.2,316.1 L342.7,316.2 L343.2,316.4 L343.7,316.1 L344.2,315.4 L344.7,315.5 L345.2,315.7 L345.7,315.7 L346.2,315.4 L346.7,315.5 L347.2,315.6 L347.7,315.9 L348.2,315.9 L348.7,315.6 L349.2,315.3 L349.7,315.7 L350.2,316.0 L350.7,316.3 L351.2,316.5 L351.7,316.0 L352.2,316.4 L352.7,316.5 L353.2,315.9 L353.7,316.0 L354.2,316.0 L354.7,316.3 L355.2,316.5 L355.7,316.4 L356.2,317.0 L356.7,316.4 L357.2,316.3 L357.7,316.6 L358.2,316.4 L358.7,316.1 L359.2,316.0 L359.7,316.0 L360.2,316.2 L360.7,316.3 L361.2,315.7 L361.7,315.9 L362.2,316.1 L362.7,316.2 L363.2,316.6 L363.7,316.4 L364.2,316.3 L364.7,316.3 L365.2,316.5 L365.7,316.3 L366.2,316.0 L366.7,316.1 L367.2,316.3 L367.7,316.3 L368.2,315.6 L368.7,315.3 L369.2,315.7 L369.7,315.7 L370.2,315.5 L370.7,315.8 L371.2,315.9 L371.7,316.0 L372.2,315.7 L372.7,315.6 L373.2,316.2 L373.7,315.8 L374.2,315.4 L374.7,315.6 L375.2,315.5 L375.7,315.0 L376.2,315.6 L376.7,315.6 L377.2,315.5 L377.7,315.6 L378.2,316.3 L378.7,316.1 L379.2,315.1 L379.7,314.8 L380.2,314.6 L380.7,314.6 L381.2,314.1 L381.7,314.1 L382.2,314.3 L382.7,314.7 L383.2,315.1 L383.7,315.5 L384.2,315.4 L384.7,315.6 L385.2,315.6 L385.7,315.1 L386.2,315.2 L386.7,315.3 L387.2,315.0 L387.7,315.3 L388.2,315.1 L388.7,315.0 L389.2,315.3 L389.7,315.6 L390.2,315.6 L390.7,315.9 L391.2,316.3 L391.7,316.2 L392.2,316.1 L392.7,315.6 L393.2,316.0 L393.7,315.8 L394.2,316.0 L394.7,316.1 L395.2,316.2 L395.7,316.0 L396.2,315.9 L396.7,315.5 L397.2,315.9 L397.7,316.3 L398.2,315.9 L398.7,315.9 L399.2,315.7 L399.7,316.0 L400.2,315.7 L400.7,316.1 L401.2,315.4 L401.7,314.7 L402.2,314.9 L402.7,314.3 L403.2,313.2 L403.7,312.2 L404.2,311.3 L404.7,310.1 L405.2,309.2 L405.7,309.4 L406.2,309.9 L406.7,310.8 L407.2,311.6 L407.7,312.8 L408.2,314.0 L408.7,314.7 L409.2,315.0 L409.7,314.9 L410.2,314.9 L410.7,314.6 L411.2,315.1 L411.7,316.3 L412.2,316.0 L412.7,315.7 L413.2,316.0 L413.7,316.0 L414.2,315.5 L414.7,315.6 L415.2,315.4 L415.7,315.3 L416.2,315.4 L416.7,315.3 L417.2,316.0 L417.7,315.6 L418.2,315.7 L418.7,316.4 L419.2,316.7 L419.7,316.3 L420.2,316.0 L420.7,315.8 L421.2,315.0 L421.7,315.5 L422.2,315.9 L422.7,315.8 L423.2,316.1 L423.7,316.2 L424.2,315.7 L424.7,315.9 L425.2,316.2 L425.7,316.2 L426.2,315.6 L426.7,315.1 L427.2,315.8 L427.7,316.5 L428.2,315.7 L428.7,315.7 L429.2,315.6 L429.7,315.9 L430.2,316.6 L430.7,316.2 L431.2,315.4 L431.7,315.5 L432.2,315.6 L432.7,315.7 L433.2,315.5 L433.7,315.1 L434.2,315.0 L434.7,315.4 L435.2,315.7 L435.7,315.7 L436.2,315.9 L436.7,316.4 L437.2,316.2 L437.7,316.3 L438.2,316.4 L438.7,316.1 L439.2,316.5 L439.7,316.0 L440.2,315.9 L440.7,316.5 L441.2,316.9 L441.7,316.8 L442.2,316.1 L442.7,316.0 L443.2,315.5 L443.7,315.8 L444.2,316.7 L444.7,316.7 L445.2,316.4 L445.7,316.1 L446.2,316.2 L446.7,316.0 L447.2,316.7 L447.7,317.1 L448.2,317.4" stroke="#289150" stroke-width="2.4"/>
</g>
<rect x="252.60" y="21.40" width="195.60" height="315.20" fill="none" stroke="#000" stroke-width="1.60"/>
<line x1="271.00" y1="336.60" x2="271.00" y2="333.40" stroke="#000" stroke-width="1.30"/>
<text x="271.00" y="346.80" font-size="8.60" font-weight="bold" text-anchor="middle" >1000</text>
<line x1="315.30" y1="336.60" x2="315.30" y2="333.40" stroke="#000" stroke-width="1.30"/>
<text x="315.30" y="346.80" font-size="8.60" font-weight="bold" text-anchor="middle" >1200</text>
<line x1="359.60" y1="336.60" x2="359.60" y2="333.40" stroke="#000" stroke-width="1.30"/>
<text x="359.60" y="346.80" font-size="8.60" font-weight="bold" text-anchor="middle" >1400</text>
<line x1="403.90" y1="336.60" x2="403.90" y2="333.40" stroke="#000" stroke-width="1.30"/>
<text x="403.90" y="346.80" font-size="8.60" font-weight="bold" text-anchor="middle" >1600</text>
<line x1="448.20" y1="336.60" x2="448.20" y2="333.40" stroke="#000" stroke-width="1.30"/>
<text x="448.20" y="346.80" font-size="8.60" font-weight="bold" text-anchor="middle" >1800</text>
<line x1="293.15" y1="336.60" x2="293.15" y2="334.80" stroke="#000" stroke-width="1.10"/>
<line x1="337.45" y1="336.60" x2="337.45" y2="334.80" stroke="#000" stroke-width="1.10"/>
<line x1="381.75" y1="336.60" x2="381.75" y2="334.80" stroke="#000" stroke-width="1.10"/>
<line x1="426.05" y1="336.60" x2="426.05" y2="334.80" stroke="#000" stroke-width="1.10"/>
<text x="447.00" y="59.60" font-size="7.45" font-weight="bold" text-anchor="end" >580 nm</text>
<text x="447.00" y="90.50" font-size="7.45" font-weight="bold" text-anchor="end" >590 nm</text>
<text x="447.00" y="120.00" font-size="7.45" font-weight="bold" text-anchor="end" >610 nm</text>
<text x="447.00" y="160.20" font-size="7.45" font-weight="bold" text-anchor="end" >620 nm</text>
<text x="447.00" y="194.10" font-size="7.45" font-weight="bold" text-anchor="end" >630 nm</text>
<text x="447.00" y="238.50" font-size="7.45" font-weight="bold" text-anchor="end" >640 nm</text>
<text x="447.00" y="264.20" font-size="7.45" font-weight="bold" text-anchor="end" >660 nm</text>
<text x="447.00" y="289.60" font-size="7.45" font-weight="bold" text-anchor="end" >670 nm</text>
<text x="447.00" y="313.90" font-size="7.45" font-weight="bold" text-anchor="end" >680 nm</text>
<text x="350.40" y="357.8" font-size="9.0" font-weight="bold" text-anchor="middle">Stokes Raman Shift (cm<tspan font-size="5.6" dy="-3.4">-1</tspan><tspan dy="3.4">)</tspan></text>
<text transform="translate(245.9,178.5) rotate(-90)" font-size="8.95" font-weight="bold" text-anchor="middle">Stimulated Raman Intensity (arb. units)</text>
<line x1="258.10" y1="23.80" x2="258.10" y2="45.70" stroke="#000" stroke-width="1.70"/>
<line x1="255.30" y1="23.80" x2="260.90" y2="23.80" stroke="#000" stroke-width="1.50"/>
<line x1="255.30" y1="45.70" x2="260.90" y2="45.70" stroke="#000" stroke-width="1.50"/>
<text x="259.80" y="38.80" font-size="8.80" font-weight="bold" text-anchor="start" >50 cps</text>
<g fill="none" stroke-linejoin="round" stroke-linecap="round">
<path d="M479.9,63.7 L480.4,63.4 L480.9,63.4 L481.4,63.5 L481.9,63.4 L482.4,63.3 L482.9,63.2 L483.4,63.3 L483.9,63.6 L484.4,63.8 L484.9,63.7 L485.4,63.4 L485.9,63.3 L486.4,63.2 L486.9,63.2 L487.4,63.3 L487.9,63.4 L488.4,63.4 L488.9,63.4 L489.4,63.4 L489.9,63.4 L490.4,63.5 L490.9,63.4 L491.4,63.3 L491.9,63.3 L492.4,63.4 L492.9,63.5 L493.4,63.3 L493.9,63.2 L494.4,63.3 L494.9,63.1 L495.4,63.2 L495.9,63.3 L496.4,63.3 L496.9,63.3 L497.4,63.1 L497.9,62.9 L498.4,63.0 L498.9,63.0 L499.4,62.9 L500.0,63.1 L500.5,63.2 L501.0,63.0 L501.5,62.9 L502.0,63.0 L502.5,63.1 L503.0,63.2 L503.5,63.2 L504.0,63.1 L504.5,63.1 L505.0,62.9 L505.5,62.8 L506.0,63.0 L506.5,63.0 L507.0,62.8 L507.5,62.7 L508.0,62.6 L508.5,62.5 L509.0,62.6 L509.5,62.6 L510.0,62.3 L510.5,62.3 L511.0,62.3 L511.5,62.3 L512.0,62.1 L512.5,62.2 L513.0,62.5 L513.5,62.4 L514.0,62.1 L514.5,62.1 L515.0,62.2 L515.5,62.2 L516.0,62.1 L516.5,61.8 L517.0,61.6 L517.5,61.4 L518.0,61.3 L518.5,61.0 L519.0,60.5 L519.5,60.2 L520.0,60.2 L520.5,60.0 L521.0,59.8 L521.5,59.6 L522.0,59.4 L522.5,59.2 L523.0,59.3 L523.5,59.6 L524.0,59.9 L524.5,60.1 L525.0,60.3 L525.5,60.7 L526.0,61.1 L526.5,61.3 L527.0,61.3 L527.5,61.4 L528.0,61.9 L528.5,62.3 L529.0,62.4 L529.5,62.3 L530.0,62.3 L530.5,62.3 L531.0,62.3 L531.5,62.3 L532.0,62.2 L532.5,62.1 L533.0,62.0 L533.5,62.0 L534.0,62.1 L534.5,62.3 L535.0,62.5 L535.5,62.4 L536.0,62.3 L536.5,62.5 L537.0,62.9 L537.5,63.0 L538.0,63.1 L538.5,63.5 L539.0,63.7 L539.5,63.5 L540.0,63.5 L540.5,63.6 L541.0,63.8 L541.5,64.0 L542.0,64.1 L542.5,63.9 L543.0,63.8 L543.5,63.9 L544.0,63.9 L544.5,63.9 L545.0,63.7 L545.5,63.5 L546.0,63.4 L546.5,63.6 L547.0,63.8 L547.5,63.8 L548.0,63.7 L548.5,63.7 L549.0,63.7 L549.5,63.5 L550.0,63.4 L550.5,63.7 L551.0,63.7 L551.5,63.4 L552.0,63.0 L552.5,62.7 L553.0,62.6 L553.5,62.7 L554.0,62.7 L554.5,62.5 L555.0,62.4 L555.5,62.5 L556.0,62.5 L556.5,62.5 L557.0,62.7 L557.5,62.9 L558.0,62.9 L558.5,63.0 L559.0,63.0 L559.5,63.2 L560.0,63.3 L560.5,63.3 L561.0,63.3 L561.5,63.4 L562.0,63.5 L562.5,63.4 L563.0,63.2 L563.5,63.2 L564.0,63.2 L564.5,63.3 L565.0,63.4 L565.5,63.4 L566.0,63.3 L566.5,63.3 L567.0,63.2 L567.5,63.0 L568.0,62.8 L568.5,62.7 L569.0,62.7 L569.5,62.7 L570.0,62.7 L570.5,62.5 L571.0,62.1 L571.5,61.8 L572.0,61.7 L572.5,61.4 L573.0,61.1 L573.5,60.8 L574.0,60.5 L574.5,60.2 L575.0,59.9 L575.5,59.7 L576.0,59.5 L576.5,59.5 L577.0,59.6 L577.5,59.9 L578.0,60.3 L578.5,60.6 L579.0,60.6 L579.5,60.7 L580.0,60.7 L580.5,60.4 L581.0,60.0 L581.5,59.6 L582.0,59.2 L582.5,59.2 L583.0,59.3 L583.5,59.7 L584.0,60.2 L584.5,60.7 L585.0,61.1 L585.5,61.4 L586.0,61.7 L586.5,61.9 L587.0,62.1 L587.5,62.4 L588.0,62.5 L588.5,62.6 L589.0,62.7 L589.5,62.7 L590.0,62.7 L590.5,62.9 L591.0,63.1 L591.5,63.4 L592.0,63.5 L592.5,63.3 L593.0,63.3 L593.5,63.4 L594.0,63.4 L594.5,63.4 L595.0,63.3 L595.5,63.2 L596.0,63.3 L596.5,63.4 L597.0,63.4 L597.5,63.3 L598.0,63.5 L598.5,63.5 L599.0,63.2 L599.5,63.2 L600.0,63.3 L600.5,63.4 L601.0,63.5 L601.5,63.4 L602.0,63.1 L602.5,63.1 L603.0,63.3 L603.5,63.5 L604.0,63.3 L604.5,63.2 L605.0,63.2 L605.5,63.2 L606.0,63.2 L606.5,63.0 L607.0,62.8 L607.5,62.7 L608.0,62.5 L608.5,62.4 L609.0,62.5 L609.5,62.4 L610.0,62.3 L610.5,62.2 L611.0,62.4 L611.5,62.7 L612.0,63.0 L612.5,63.2 L613.0,63.4 L613.5,63.4 L614.0,63.5 L614.5,63.6 L615.0,63.6 L615.5,63.7 L616.0,63.8 L616.5,63.9 L617.0,63.8 L617.5,63.7 L618.0,63.9 L618.5,64.0 L619.0,63.8 L619.5,63.7 L620.0,63.8 L620.5,63.7 L621.0,63.5 L621.5,63.6 L622.0,63.7 L622.5,63.6 L623.0,63.7 L623.5,63.6 L624.0,63.5 L624.5,63.4 L625.0,63.3 L625.5,63.5 L626.0,63.7 L626.5,63.7 L627.0,63.8 L627.5,63.8 L628.0,63.8 L628.5,63.6 L629.0,63.3 L629.5,63.4 L630.1,63.4 L630.6,63.1 L631.1,63.0 L631.6,63.0 L632.1,62.7 L632.6,62.4 L633.1,62.4 L633.6,62.4 L634.1,62.2 L634.6,62.2 L635.1,62.0 L635.6,61.6 L636.1,61.1 L636.6,60.8 L637.1,60.7 L637.6,60.5 L638.1,60.2 L638.6,59.8 L639.1,59.5 L639.6,59.3 L640.1,59.1 L640.6,58.9 L641.1,58.7 L641.6,58.4 L642.1,58.2 L642.6,57.9 L643.1,57.5 L643.6,57.2 L644.1,56.8 L644.6,56.6 L645.1,56.1 L645.6,55.7 L646.1,56.0 L646.6,56.4 L647.1,56.9 L647.6,57.6 L648.1,58.0 L648.6,58.5 L649.1,59.3 L649.6,60.0 L650.1,60.5 L650.6,60.7 L651.1,61.0 L651.6,61.4 L652.1,61.5 L652.6,61.8 L653.1,62.1 L653.6,62.2 L654.1,62.2 L654.6,62.4 L655.1,62.5 L655.6,62.5 L656.1,62.7 L656.6,62.9 L657.1,63.1 L657.6,62.9 L658.1,62.8 L658.6,63.0 L659.1,63.1 L659.6,63.2 L660.1,63.3 L660.6,63.4 L661.1,63.3 L661.6,63.2 L662.1,63.1 L662.6,63.3 L663.1,63.6 L663.6,63.6 L664.1,63.4 L664.6,63.5 L665.1,63.7 L665.6,63.7 L666.1,63.7 L666.6,63.8 L667.1,63.9 L667.6,63.9 L668.1,63.9 L668.6,64.0 L669.1,64.0 L669.6,63.8 L670.1,63.7 L670.6,63.8 L671.1,63.9 L671.6,63.9 L672.1,64.0 L672.6,64.1 L673.1,64.1 L673.6,64.0 L674.1,63.8 L674.6,63.6 L675.1,63.8 L675.6,64.0 L676.1,63.9 L676.6,63.9 L677.1,63.8 L677.6,63.7 L678.1,63.8 L678.6,63.9 L679.1,63.9 L679.6,63.7 L680.1,63.6 L680.6,63.8 L681.1,64.0 L681.6,63.9" stroke="#ebe128" stroke-width="2.5"/>
<path d="M479.9,92.7 L480.4,92.9 L480.9,93.0 L481.4,92.9 L481.9,92.9 L482.4,92.8 L482.9,92.8 L483.4,92.7 L483.9,92.6 L484.4,92.7 L484.9,92.8 L485.4,92.6 L485.9,92.4 L486.4,92.5 L486.9,92.6 L487.4,92.5 L487.9,92.5 L488.4,92.6 L488.9,92.5 L489.4,92.3 L489.9,92.4 L490.4,92.5 L490.9,92.5 L491.4,92.4 L491.9,92.3 L492.4,92.4 L492.9,92.3 L493.4,92.1 L493.9,92.0 L494.4,92.1 L494.9,92.0 L495.4,92.0 L495.9,92.2 L496.4,92.1 L496.9,92.1 L497.4,92.0 L497.9,91.9 L498.4,91.9 L498.9,91.8 L499.4,91.8 L500.0,92.0 L500.5,91.9 L501.0,91.8 L501.5,91.9 L502.0,92.0 L502.5,92.0 L503.0,92.0 L503.5,92.0 L504.0,91.8 L504.5,91.7 L505.0,91.8 L505.5,92.0 L506.0,92.0 L506.5,91.9 L507.0,91.7 L507.5,91.6 L508.0,91.6 L508.5,91.5 L509.0,91.5 L509.5,91.3 L510.0,91.1 L510.5,90.9 L511.0,91.0 L511.5,91.2 L512.0,91.3 L512.5,91.0 L513.0,90.7 L513.5,90.6 L514.0,90.7 L514.5,90.7 L515.0,90.6 L515.5,90.4 L516.0,90.1 L516.5,89.8 L517.0,89.4 L517.5,88.9 L518.0,88.5 L518.5,87.9 L519.0,87.0 L519.5,86.3 L520.0,85.9 L520.5,85.3 L521.0,84.7 L521.5,84.4 L522.0,84.4 L522.5,84.5 L523.0,84.8 L523.5,85.2 L524.0,85.8 L524.5,86.3 L525.0,86.8 L525.5,87.3 L526.0,87.8 L526.5,88.1 L527.0,88.4 L527.5,88.8 L528.0,89.3 L528.5,89.6 L529.0,89.8 L529.5,89.9 L530.0,90.1 L530.5,90.2 L531.0,90.1 L531.5,89.9 L532.0,89.8 L532.5,89.7 L533.0,89.6 L533.5,89.5 L534.0,89.6 L534.5,89.8 L535.0,89.9 L535.5,90.1 L536.0,90.6 L536.5,91.1 L537.0,91.3 L537.5,91.7 L538.0,92.1 L538.5,92.5 L539.0,92.6 L539.5,92.7 L540.0,92.8 L540.5,93.1 L541.0,93.3 L541.5,93.2 L542.0,93.2 L542.5,93.0 L543.0,92.8 L543.5,92.7 L544.0,92.7 L544.5,92.7 L545.0,92.5 L545.5,92.5 L546.0,92.8 L546.5,92.9 L547.0,92.8 L547.5,92.9 L548.0,93.0 L548.5,92.9 L549.0,92.8 L549.5,92.9 L550.0,92.8 L550.5,92.8 L551.0,92.5 L551.5,92.3 L552.0,92.1 L552.5,91.9 L553.0,91.6 L553.5,91.3 L554.0,91.0 L554.5,90.9 L555.0,91.1 L555.5,91.2 L556.0,91.3 L556.5,91.4 L557.0,91.4 L557.5,91.7 L558.0,92.0 L558.5,91.9 L559.0,91.5 L559.5,91.4 L560.0,91.7 L560.5,92.0 L561.0,92.0 L561.5,92.0 L562.0,92.0 L562.5,91.9 L563.0,91.9 L563.5,92.0 L564.0,91.9 L564.5,91.8 L565.0,91.6 L565.5,91.6 L566.0,91.5 L566.5,91.6 L567.0,91.5 L567.5,90.9 L568.0,90.4 L568.5,90.3 L569.0,90.3 L569.5,90.2 L570.0,89.8 L570.5,89.3 L571.0,88.9 L571.5,88.6 L572.0,88.1 L572.5,87.6 L573.0,86.9 L573.5,86.2 L574.0,85.5 L574.5,84.8 L575.0,84.1 L575.5,83.5 L576.0,83.5 L576.5,83.7 L577.0,84.2 L577.5,84.7 L578.0,84.9 L578.5,85.1 L579.0,85.2 L579.5,85.3 L580.0,85.1 L580.5,84.5 L581.0,83.9 L581.5,83.1 L582.0,82.2 L582.5,81.8 L583.0,82.2 L583.5,83.0 L584.0,84.0 L584.5,85.4 L585.0,86.7 L585.5,87.5 L586.0,88.3 L586.5,89.1 L587.0,89.5 L587.5,89.6 L588.0,89.9 L588.5,90.3 L589.0,90.4 L589.5,90.6 L590.0,91.1 L590.5,91.4 L591.0,91.6 L591.5,91.8 L592.0,92.0 L592.5,92.0 L593.0,92.1 L593.5,92.3 L594.0,92.4 L594.5,92.3 L595.0,92.4 L595.5,92.3 L596.0,92.2 L596.5,92.3 L597.0,92.2 L597.5,92.2 L598.0,92.1 L598.5,92.0 L599.0,91.9 L599.5,91.9 L600.0,92.1 L600.5,92.0 L601.0,91.9 L601.5,91.9 L602.0,91.8 L602.5,91.6 L603.0,91.5 L603.5,91.6 L604.0,91.5 L604.5,91.5 L605.0,91.5 L605.5,91.4 L606.0,91.4 L606.5,91.5 L607.0,91.4 L607.5,91.1 L608.0,90.7 L608.5,90.4 L609.0,90.2 L609.5,90.1 L610.0,90.1 L610.5,90.4 L611.0,90.9 L611.5,91.3 L612.0,91.5 L612.5,91.5 L613.0,91.8 L613.5,92.0 L614.0,92.2 L614.5,92.5 L615.0,92.8 L615.5,93.0 L616.0,93.1 L616.5,93.1 L617.0,93.0 L617.5,92.9 L618.0,93.1 L618.5,93.2 L619.0,92.9 L619.5,92.7 L620.0,92.6 L620.5,92.6 L621.0,92.7 L621.5,92.5 L622.0,92.2 L622.5,92.1 L623.0,92.3 L623.5,92.4 L624.0,92.4 L624.5,92.3 L625.0,92.3 L625.5,92.5 L626.0,92.6 L626.5,92.6 L627.0,92.5 L627.5,92.4 L628.0,92.5 L628.5,92.6 L629.0,92.7 L629.5,92.6 L630.1,92.2 L630.6,91.7 L631.1,91.4 L631.6,91.2 L632.1,90.8 L632.6,90.2 L633.1,89.8 L633.6,89.7 L634.1,89.4 L634.6,88.8 L635.1,88.3 L635.6,87.8 L636.1,87.0 L636.6,86.5 L637.1,86.2 L637.6,85.3 L638.1,84.5 L638.6,83.8 L639.1,83.3 L639.6,82.8 L640.1,82.5 L640.6,82.3 L641.1,81.9 L641.6,81.5 L642.1,80.8 L642.6,79.9 L643.1,79.0 L643.6,78.0 L644.1,76.9 L644.6,75.8 L645.1,74.9 L645.6,74.6 L646.1,75.0 L646.6,76.0 L647.1,77.5 L647.6,78.9 L648.1,80.4 L648.6,81.8 L649.1,83.0 L649.6,84.2 L650.1,85.1 L650.6,86.1 L651.1,86.9 L651.6,87.3 L652.1,87.7 L652.6,88.1 L653.1,88.4 L653.6,88.8 L654.1,89.1 L654.6,89.4 L655.1,89.8 L655.6,90.2 L656.1,90.4 L656.6,90.5 L657.1,90.6 L657.6,90.7 L658.1,90.7 L658.6,90.9 L659.1,91.3 L659.6,91.7 L660.1,91.7 L660.6,91.8 L661.1,92.0 L661.6,92.0 L662.1,91.9 L662.6,92.0 L663.1,92.1 L663.6,92.5 L664.1,92.8 L664.6,92.7 L665.1,92.5 L665.6,92.6 L666.1,92.6 L666.6,92.6 L667.1,92.8 L667.6,93.0 L668.1,93.0 L668.6,92.9 L669.1,92.7 L669.6,92.7 L670.1,93.1 L670.6,93.1 L671.1,92.9 L671.6,92.9 L672.1,93.0 L672.6,93.1 L673.1,93.0 L673.6,93.0 L674.1,93.0 L674.6,93.0 L675.1,92.9 L675.6,92.6 L676.1,92.5 L676.6,92.6 L677.1,92.7 L677.6,92.9 L678.1,93.1 L678.6,93.0 L679.1,92.9 L679.6,93.0 L680.1,93.0 L680.6,92.9 L681.1,93.0 L681.6,93.0" stroke="#ebb423" stroke-width="2.5"/>
<path d="M479.9,123.3 L480.4,123.3 L480.9,123.2 L481.4,123.1 L481.9,122.9 L482.4,122.7 L482.9,122.8 L483.4,122.8 L483.9,122.7 L484.4,122.7 L484.9,122.7 L485.4,122.9 L485.9,123.0 L486.4,122.8 L486.9,122.8 L487.4,122.8 L487.9,122.8 L488.4,122.5 L488.9,122.3 L489.4,122.4 L489.9,122.3 L490.4,122.1 L490.9,122.0 L491.4,121.9 L491.9,121.9 L492.4,122.0 L492.9,122.2 L493.4,122.1 L493.9,121.7 L494.4,121.6 L494.9,121.6 L495.4,121.5 L495.9,121.7 L496.4,121.7 L496.9,121.6 L497.4,121.6 L497.9,121.8 L498.4,121.9 L498.9,121.8 L499.4,121.7 L500.0,121.5 L500.5,121.4 L501.0,121.3 L501.5,121.3 L502.0,121.3 L502.5,121.1 L503.0,121.0 L503.5,121.2 L504.0,121.1 L504.5,120.9 L505.0,120.9 L505.5,121.0 L506.0,120.9 L506.5,120.7 L507.0,120.7 L507.5,120.7 L508.0,120.7 L508.5,120.4 L509.0,119.9 L509.5,119.6 L510.0,119.7 L510.5,119.7 L511.0,119.5 L511.5,119.4 L512.0,119.1 L512.5,119.1 L513.0,119.2 L513.5,119.3 L514.0,119.1 L514.5,118.9 L515.0,118.7 L515.5,118.6 L516.0,118.4 L516.5,118.0 L517.0,117.5 L517.5,117.1 L518.0,116.7 L518.5,116.0 L519.0,115.2 L519.5,114.4 L520.0,113.8 L520.5,113.3 L521.0,112.5 L521.5,112.1 L522.0,112.2 L522.5,112.4 L523.0,112.6 L523.5,113.1 L524.0,113.9 L524.5,114.6 L525.0,115.3 L525.5,116.1 L526.0,116.8 L526.5,117.4 L527.0,117.9 L527.5,118.3 L528.0,118.6 L528.5,119.0 L529.0,119.4 L529.5,119.7 L530.0,119.9 L530.5,120.0 L531.0,120.2 L531.5,120.1 L532.0,119.8 L532.5,119.8 L533.0,119.7 L533.5,119.5 L534.0,119.7 L534.5,120.0 L535.0,120.2 L535.5,120.4 L536.0,120.8 L536.5,121.3 L537.0,121.5 L537.5,121.7 L538.0,122.3 L538.5,122.8 L539.0,123.3 L539.5,123.4 L540.0,123.3 L540.5,123.4 L541.0,123.6 L541.5,123.5 L542.0,123.5 L542.5,123.5 L543.0,123.5 L543.5,123.4 L544.0,123.3 L544.5,123.4 L545.0,123.2 L545.5,123.1 L546.0,123.2 L546.5,123.3 L547.0,123.3 L547.5,123.3 L548.0,123.3 L548.5,123.4 L549.0,123.4 L549.5,123.3 L550.0,123.1 L550.5,122.8 L551.0,122.7 L551.5,122.6 L552.0,122.3 L552.5,121.8 L553.0,121.4 L553.5,121.0 L554.0,120.6 L554.5,120.4 L555.0,120.6 L555.5,120.6 L556.0,120.7 L556.5,121.0 L557.0,121.5 L557.5,121.8 L558.0,121.9 L558.5,121.9 L559.0,122.1 L559.5,122.4 L560.0,122.4 L560.5,122.3 L561.0,122.4 L561.5,122.4 L562.0,122.3 L562.5,122.2 L563.0,122.0 L563.5,122.0 L564.0,122.0 L564.5,121.9 L565.0,121.9 L565.5,121.9 L566.0,121.7 L566.5,121.4 L567.0,121.2 L567.5,121.2 L568.0,121.0 L568.5,120.6 L569.0,120.2 L569.5,119.7 L570.0,119.3 L570.5,119.1 L571.0,118.7 L571.5,118.2 L572.0,117.6 L572.5,117.2 L573.0,116.3 L573.5,115.3 L574.0,114.5 L574.5,113.6 L575.0,112.6 L575.5,111.8 L576.0,111.8 L576.5,112.3 L577.0,112.6 L577.5,112.9 L578.0,113.5 L578.5,114.2 L579.0,114.4 L579.5,114.1 L580.0,113.7 L580.5,113.0 L581.0,112.0 L581.5,111.0 L582.0,110.2 L582.5,109.9 L583.0,110.2 L583.5,111.0 L584.0,112.3 L584.5,113.8 L585.0,115.1 L585.5,116.3 L586.0,117.5 L586.5,118.3 L587.0,118.9 L587.5,119.4 L588.0,119.7 L588.5,120.2 L589.0,120.6 L589.5,120.9 L590.0,121.1 L590.5,121.2 L591.0,121.3 L591.5,121.7 L592.0,122.0 L592.5,122.3 L593.0,122.4 L593.5,122.3 L594.0,122.4 L594.5,122.6 L595.0,122.6 L595.5,122.5 L596.0,122.4 L596.5,122.3 L597.0,122.3 L597.5,122.3 L598.0,122.3 L598.5,122.2 L599.0,122.0 L599.5,121.8 L600.0,121.8 L600.5,122.0 L601.0,122.3 L601.5,122.2 L602.0,121.8 L602.5,121.8 L603.0,122.0 L603.5,121.9 L604.0,121.8 L604.5,121.9 L605.0,122.0 L605.5,121.9 L606.0,121.9 L606.5,121.8 L607.0,121.6 L607.5,121.3 L608.0,121.2 L608.5,121.2 L609.0,121.2 L609.5,121.0 L610.0,121.0 L610.5,121.4 L611.0,121.8 L611.5,122.0 L612.0,122.0 L612.5,121.9 L613.0,122.1 L613.5,122.3 L614.0,122.4 L614.5,122.4 L615.0,122.7 L615.5,122.9 L616.0,122.9 L616.5,123.0 L617.0,123.2 L617.5,123.2 L618.0,123.3 L618.5,123.3 L619.0,123.2 L619.5,123.1 L620.0,123.0 L620.5,122.9 L621.0,122.7 L621.5,122.5 L622.0,122.5 L622.5,122.4 L623.0,122.4 L623.5,122.5 L624.0,122.4 L624.5,122.4 L625.0,122.6 L625.5,122.5 L626.0,122.3 L626.5,122.4 L627.0,122.8 L627.5,122.7 L628.0,122.4 L628.5,122.4 L629.0,122.5 L629.5,122.4 L630.1,122.2 L630.6,121.9 L631.1,121.5 L631.6,121.0 L632.1,120.7 L632.6,120.4 L633.1,119.8 L633.6,119.5 L634.1,119.1 L634.6,118.5 L635.1,117.8 L635.6,117.0 L636.1,116.4 L636.6,115.9 L637.1,115.3 L637.6,114.5 L638.1,113.7 L638.6,112.8 L639.1,112.0 L639.6,111.4 L640.1,111.2 L640.6,111.0 L641.1,110.5 L641.6,109.8 L642.1,109.1 L642.6,108.3 L643.1,107.2 L643.6,105.9 L644.1,104.7 L644.6,103.6 L645.1,102.8 L645.6,102.5 L646.1,102.7 L646.6,103.6 L647.1,105.5 L647.6,107.4 L648.1,109.0 L648.6,110.5 L649.1,111.9 L649.6,113.0 L650.1,114.0 L650.6,115.0 L651.1,115.9 L651.6,116.6 L652.1,117.2 L652.6,117.5 L653.1,118.0 L653.6,118.5 L654.1,118.6 L654.6,118.7 L655.1,119.0 L655.6,119.4 L656.1,119.9 L656.6,120.2 L657.1,120.3 L657.6,120.4 L658.1,120.7 L658.6,120.8 L659.1,120.9 L659.6,121.1 L660.1,121.4 L660.6,121.6 L661.1,121.7 L661.6,121.9 L662.1,122.1 L662.6,122.0 L663.1,122.0 L663.6,122.4 L664.1,122.5 L664.6,122.5 L665.1,122.6 L665.6,122.7 L666.1,122.7 L666.6,122.8 L667.1,122.7 L667.6,122.6 L668.1,122.6 L668.6,122.7 L669.1,122.8 L669.6,122.9 L670.1,122.8 L670.6,122.8 L671.1,122.8 L671.6,122.7 L672.1,122.6 L672.6,122.6 L673.1,122.7 L673.6,122.8 L674.1,122.9 L674.6,123.0 L675.1,123.1 L675.6,123.2 L676.1,123.1 L676.6,123.0 L677.1,123.1 L677.6,123.0 L678.1,122.8 L678.6,122.9 L679.1,122.9 L679.6,122.9 L680.1,122.9 L680.6,122.9 L681.1,122.8 L681.6,122.6" stroke="#f08c19" stroke-width="2.5"/>
<path d="M479.9,160.8 L480.4,160.7 L480.9,160.6 L481.4,160.4 L481.9,160.5 L482.4,160.7 L482.9,160.6 L483.4,160.4 L483.9,160.3 L484.4,160.2 L484.9,160.1 L485.4,160.1 L485.9,160.2 L486.4,160.1 L486.9,160.0 L487.4,160.0 L487.9,159.8 L488.4,159.7 L488.9,159.9 L489.4,159.9 L489.9,159.6 L490.4,159.4 L490.9,159.6 L491.4,159.6 L491.9,159.4 L492.4,159.3 L492.9,159.3 L493.4,159.4 L493.9,159.4 L494.4,159.3 L494.9,159.5 L495.4,159.4 L495.9,159.2 L496.4,159.2 L496.9,159.3 L497.4,159.4 L497.9,159.3 L498.4,159.0 L498.9,158.8 L499.4,158.8 L500.0,158.8 L500.5,158.8 L501.0,158.8 L501.5,158.9 L502.0,158.8 L502.5,158.7 L503.0,158.6 L503.5,158.3 L504.0,158.3 L504.5,158.4 L505.0,158.4 L505.5,158.3 L506.0,158.2 L506.5,158.1 L507.0,157.9 L507.5,157.6 L508.0,157.5 L508.5,157.6 L509.0,157.3 L509.5,157.1 L510.0,157.1 L510.5,156.9 L511.0,156.5 L511.5,156.3 L512.0,156.3 L512.5,156.3 L513.0,156.4 L513.5,156.4 L514.0,156.3 L514.5,156.2 L515.0,156.2 L515.5,156.0 L516.0,155.5 L516.5,154.8 L517.0,154.2 L517.5,153.5 L518.0,152.8 L518.5,152.2 L519.0,151.3 L519.5,150.5 L520.0,149.7 L520.5,148.8 L521.0,148.0 L521.5,147.7 L522.0,147.6 L522.5,147.5 L523.0,147.7 L523.5,148.3 L524.0,149.3 L524.5,150.4 L525.0,151.3 L525.5,152.1 L526.0,152.9 L526.5,153.5 L527.0,154.2 L527.5,154.8 L528.0,155.2 L528.5,155.7 L529.0,156.1 L529.5,156.3 L530.0,156.6 L530.5,156.8 L531.0,156.6 L531.5,156.4 L532.0,156.2 L532.5,156.1 L533.0,155.7 L533.5,155.3 L534.0,155.3 L534.5,155.5 L535.0,155.9 L535.5,156.6 L536.0,157.5 L536.5,158.0 L537.0,158.5 L537.5,159.0 L538.0,159.7 L538.5,160.3 L539.0,160.5 L539.5,160.6 L540.0,160.8 L540.5,161.1 L541.0,161.3 L541.5,161.3 L542.0,161.3 L542.5,161.2 L543.0,161.1 L543.5,161.0 L544.0,160.8 L544.5,160.6 L545.0,160.5 L545.5,160.5 L546.0,160.4 L546.5,160.6 L547.0,160.8 L547.5,161.0 L548.0,161.0 L548.5,160.9 L549.0,160.8 L549.5,160.6 L550.0,160.5 L550.5,160.4 L551.0,160.1 L551.5,159.7 L552.0,159.2 L552.5,158.8 L553.0,158.5 L553.5,158.1 L554.0,157.7 L554.5,157.3 L555.0,157.3 L555.5,157.6 L556.0,157.8 L556.5,158.0 L557.0,158.4 L557.5,158.7 L558.0,158.9 L558.5,159.2 L559.0,159.3 L559.5,159.4 L560.0,159.4 L560.5,159.5 L561.0,159.6 L561.5,159.5 L562.0,159.4 L562.5,159.4 L563.0,159.5 L563.5,159.5 L564.0,159.5 L564.5,159.4 L565.0,159.1 L565.5,158.9 L566.0,158.8 L566.5,158.6 L567.0,158.5 L567.5,158.3 L568.0,157.8 L568.5,157.6 L569.0,157.4 L569.5,156.9 L570.0,156.4 L570.5,156.0 L571.0,155.5 L571.5,154.9 L572.0,154.2 L572.5,153.4 L573.0,152.7 L573.5,151.7 L574.0,150.6 L574.5,149.8 L575.0,149.0 L575.5,148.4 L576.0,148.2 L576.5,148.4 L577.0,148.7 L577.5,149.2 L578.0,149.8 L578.5,150.2 L579.0,150.4 L579.5,150.2 L580.0,149.6 L580.5,148.6 L581.0,147.3 L581.5,146.1 L582.0,145.1 L582.5,144.5 L583.0,144.7 L583.5,145.9 L584.0,147.6 L584.5,149.4 L585.0,151.1 L585.5,152.5 L586.0,153.6 L586.5,154.5 L587.0,155.4 L587.5,156.2 L588.0,156.7 L588.5,157.0 L589.0,157.4 L589.5,157.9 L590.0,158.3 L590.5,158.5 L591.0,159.0 L591.5,159.4 L592.0,159.6 L592.5,159.5 L593.0,159.5 L593.5,159.7 L594.0,159.5 L594.5,159.5 L595.0,159.5 L595.5,159.4 L596.0,159.4 L596.5,159.6 L597.0,159.8 L597.5,159.8 L598.0,159.7 L598.5,159.6 L599.0,159.7 L599.5,159.7 L600.0,159.5 L600.5,159.3 L601.0,159.2 L601.5,159.2 L602.0,159.2 L602.5,159.1 L603.0,159.0 L603.5,159.0 L604.0,159.1 L604.5,159.0 L605.0,158.8 L605.5,158.4 L606.0,158.2 L606.5,158.0 L607.0,157.9 L607.5,157.8 L608.0,157.4 L608.5,157.0 L609.0,156.8 L609.5,156.8 L610.0,156.7 L610.5,156.7 L611.0,157.0 L611.5,157.6 L612.0,158.2 L612.5,158.8 L613.0,159.0 L613.5,159.2 L614.0,159.6 L614.5,160.0 L615.0,160.1 L615.5,160.3 L616.0,160.6 L616.5,160.7 L617.0,160.7 L617.5,160.6 L618.0,160.7 L618.5,160.8 L619.0,160.8 L619.5,160.8 L620.0,160.7 L620.5,160.5 L621.0,160.2 L621.5,160.0 L622.0,159.9 L622.5,159.9 L623.0,159.8 L623.5,159.8 L624.0,159.7 L624.5,159.7 L625.0,159.9 L625.5,159.9 L626.0,160.0 L626.5,160.3 L627.0,160.2 L627.5,160.0 L628.0,160.1 L628.5,160.4 L629.0,160.3 L629.5,160.0 L630.1,159.7 L630.6,159.2 L631.1,158.7 L631.6,158.2 L632.1,157.7 L632.6,157.3 L633.1,156.7 L633.6,156.1 L634.1,155.6 L634.6,154.8 L635.1,154.2 L635.6,153.6 L636.1,152.7 L636.6,151.7 L637.1,150.6 L637.6,149.5 L638.1,148.6 L638.6,147.7 L639.1,146.9 L639.6,146.3 L640.1,146.0 L640.6,145.7 L641.1,145.1 L641.6,144.5 L642.1,143.6 L642.6,142.2 L643.1,140.8 L643.6,139.6 L644.1,138.0 L644.6,136.3 L645.1,135.1 L645.6,134.6 L646.1,135.1 L646.6,136.6 L647.1,138.5 L647.6,140.6 L648.1,142.8 L648.6,144.9 L649.1,146.9 L649.6,148.5 L650.1,149.7 L650.6,150.8 L651.1,151.6 L651.6,152.4 L652.1,153.4 L652.6,154.1 L653.1,154.5 L653.6,154.9 L654.1,155.3 L654.6,155.5 L655.1,156.0 L655.6,156.5 L656.1,156.7 L656.6,157.0 L657.1,157.3 L657.6,157.5 L658.1,157.9 L658.6,158.3 L659.1,158.6 L659.6,158.6 L660.1,158.6 L660.6,158.6 L661.1,158.8 L661.6,158.9 L662.1,159.3 L662.6,159.7 L663.1,159.9 L663.6,159.9 L664.1,160.0 L664.6,160.0 L665.1,160.0 L665.6,160.1 L666.1,160.1 L666.6,160.3 L667.1,160.4 L667.6,160.4 L668.1,160.3 L668.6,160.3 L669.1,160.4 L669.6,160.4 L670.1,160.4 L670.6,160.4 L671.1,160.5 L671.6,160.7 L672.1,160.8 L672.6,160.8 L673.1,160.6 L673.6,160.4 L674.1,160.3 L674.6,160.6 L675.1,160.9 L675.6,160.7 L676.1,160.3 L676.6,160.3 L677.1,160.4 L677.6,160.4 L678.1,160.5 L678.6,160.5 L679.1,160.4 L679.6,160.3 L680.1,160.1 L680.6,160.1 L681.1,160.2 L681.6,160.4" stroke="#f5640f" stroke-width="2.5"/>
<path d="M479.9,194.4 L480.4,194.5 L480.9,194.5 L481.4,194.5 L481.9,194.3 L482.4,194.2 L482.9,194.2 L483.4,194.3 L483.9,194.3 L484.4,194.2 L484.9,194.0 L485.4,193.8 L485.9,193.7 L486.4,193.8 L486.9,193.7 L487.4,193.6 L487.9,193.6 L488.4,193.6 L488.9,193.5 L489.4,193.2 L489.9,193.2 L490.4,193.1 L490.9,192.9 L491.4,192.8 L491.9,192.6 L492.4,192.4 L492.9,192.3 L493.4,192.3 L493.9,192.4 L494.4,192.4 L494.9,192.3 L495.4,192.2 L495.9,191.9 L496.4,191.7 L496.9,191.8 L497.4,191.9 L497.9,191.9 L498.4,191.9 L498.9,191.7 L499.4,191.4 L500.0,191.2 L500.5,191.3 L501.0,191.3 L501.5,191.2 L502.0,191.1 L502.5,191.0 L503.0,191.0 L503.5,191.2 L504.0,191.2 L504.5,191.0 L505.0,190.9 L505.5,190.7 L506.0,190.7 L506.5,190.6 L507.0,190.4 L507.5,190.1 L508.0,189.8 L508.5,189.3 L509.0,188.8 L509.5,188.6 L510.0,188.6 L510.5,188.4 L511.0,187.8 L511.5,187.6 L512.0,187.5 L512.5,187.4 L513.0,187.5 L513.5,187.3 L514.0,186.9 L514.5,186.9 L515.0,187.0 L515.5,187.0 L516.0,186.6 L516.5,186.1 L517.0,185.7 L517.5,185.2 L518.0,184.7 L518.5,184.2 L519.0,183.4 L519.5,182.4 L520.0,181.3 L520.5,180.5 L521.0,179.9 L521.5,179.4 L522.0,179.1 L522.5,179.2 L523.0,179.6 L523.5,180.6 L524.0,181.7 L524.5,182.6 L525.0,183.8 L525.5,184.9 L526.0,185.8 L526.5,186.7 L527.0,187.5 L527.5,188.2 L528.0,188.8 L528.5,189.4 L529.0,189.9 L529.5,190.3 L530.0,190.4 L530.5,190.5 L531.0,190.8 L531.5,190.7 L532.0,190.3 L532.5,190.2 L533.0,190.0 L533.5,189.7 L534.0,189.6 L534.5,189.9 L535.0,190.4 L535.5,191.0 L536.0,191.8 L536.5,192.6 L537.0,193.4 L537.5,194.1 L538.0,194.5 L538.5,194.8 L539.0,195.3 L539.5,195.6 L540.0,195.8 L540.5,196.1 L541.0,196.4 L541.5,196.3 L542.0,196.1 L542.5,196.1 L543.0,196.0 L543.5,195.7 L544.0,195.3 L544.5,195.2 L545.0,195.3 L545.5,195.2 L546.0,195.0 L546.5,195.2 L547.0,195.6 L547.5,195.7 L548.0,195.6 L548.5,195.6 L549.0,195.7 L549.5,195.4 L550.0,195.2 L550.5,194.9 L551.0,194.5 L551.5,194.3 L552.0,193.8 L552.5,193.2 L553.0,192.8 L553.5,192.4 L554.0,191.9 L554.5,191.6 L555.0,191.5 L555.5,191.6 L556.0,191.9 L556.5,192.4 L557.0,192.7 L557.5,192.9 L558.0,193.2 L558.5,193.6 L559.0,193.8 L559.5,193.9 L560.0,194.1 L560.5,194.3 L561.0,194.3 L561.5,194.3 L562.0,194.2 L562.5,194.0 L563.0,193.8 L563.5,193.8 L564.0,193.8 L564.5,193.6 L565.0,193.5 L565.5,193.8 L566.0,193.8 L566.5,193.4 L567.0,192.8 L567.5,192.6 L568.0,192.3 L568.5,191.7 L569.0,191.1 L569.5,190.6 L570.0,190.1 L570.5,189.8 L571.0,189.5 L571.5,188.7 L572.0,187.5 L572.5,186.5 L573.0,185.5 L573.5,184.3 L574.0,183.0 L574.5,181.7 L575.0,180.6 L575.5,179.9 L576.0,179.5 L576.5,179.6 L577.0,180.3 L577.5,181.1 L578.0,181.9 L578.5,182.3 L579.0,182.4 L579.5,181.9 L580.0,181.0 L580.5,179.8 L581.0,178.1 L581.5,175.9 L582.0,174.1 L582.5,173.3 L583.0,173.7 L583.5,175.3 L584.0,177.6 L584.5,180.1 L585.0,182.7 L585.5,185.0 L586.0,186.8 L586.5,188.0 L587.0,189.0 L587.5,189.9 L588.0,190.6 L588.5,191.1 L589.0,191.6 L589.5,192.0 L590.0,192.6 L590.5,193.3 L591.0,193.9 L591.5,194.1 L592.0,194.2 L592.5,194.5 L593.0,194.9 L593.5,194.9 L594.0,194.7 L594.5,194.5 L595.0,194.4 L595.5,194.5 L596.0,194.5 L596.5,194.6 L597.0,194.6 L597.5,194.4 L598.0,194.4 L598.5,194.5 L599.0,194.6 L599.5,194.5 L600.0,194.2 L600.5,194.1 L601.0,194.2 L601.5,194.2 L602.0,194.0 L602.5,194.0 L603.0,194.0 L603.5,193.8 L604.0,193.8 L604.5,194.0 L605.0,193.9 L605.5,193.6 L606.0,193.1 L606.5,192.7 L607.0,192.4 L607.5,192.1 L608.0,191.9 L608.5,191.8 L609.0,191.5 L609.5,191.2 L610.0,191.2 L610.5,191.6 L611.0,192.0 L611.5,192.4 L612.0,192.8 L612.5,193.2 L613.0,193.6 L613.5,194.1 L614.0,194.7 L614.5,195.2 L615.0,195.4 L615.5,195.3 L616.0,195.4 L616.5,195.7 L617.0,195.8 L617.5,195.7 L618.0,195.7 L618.5,196.0 L619.0,196.1 L619.5,195.9 L620.0,195.7 L620.5,195.6 L621.0,195.4 L621.5,195.2 L622.0,195.2 L622.5,195.1 L623.0,194.9 L623.5,194.9 L624.0,195.0 L624.5,195.1 L625.0,195.0 L625.5,195.2 L626.0,195.3 L626.5,195.4 L627.0,195.6 L627.5,195.8 L628.0,195.7 L628.5,195.4 L629.0,195.2 L629.5,195.1 L630.1,194.6 L630.6,194.0 L631.1,193.6 L631.6,193.1 L632.1,192.6 L632.6,192.0 L633.1,191.5 L633.6,190.9 L634.1,190.3 L634.6,189.7 L635.1,189.0 L635.6,188.1 L636.1,187.0 L636.6,185.9 L637.1,185.0 L637.6,184.0 L638.1,183.1 L638.6,182.4 L639.1,181.5 L639.6,180.7 L640.1,180.0 L640.6,179.6 L641.1,178.9 L641.6,178.0 L642.1,176.9 L642.6,175.5 L643.1,173.8 L643.6,171.9 L644.1,170.0 L644.6,168.2 L645.1,166.8 L645.6,166.4 L646.1,167.1 L646.6,168.8 L647.1,170.9 L647.6,173.3 L648.1,175.7 L648.6,178.0 L649.1,179.9 L649.6,181.7 L650.1,183.4 L650.6,184.9 L651.1,186.0 L651.6,186.8 L652.1,187.6 L652.6,188.5 L653.1,189.3 L653.6,189.8 L654.1,190.0 L654.6,190.6 L655.1,191.4 L655.6,191.6 L656.1,191.7 L656.6,191.8 L657.1,192.0 L657.6,192.6 L658.1,192.9 L658.6,193.0 L659.1,193.4 L659.6,193.5 L660.1,193.7 L660.6,194.1 L661.1,194.3 L661.6,194.4 L662.1,194.6 L662.6,194.6 L663.1,194.9 L663.6,195.4 L664.1,195.7 L664.6,195.8 L665.1,195.8 L665.6,195.8 L666.1,195.7 L666.6,195.8 L667.1,195.8 L667.6,195.5 L668.1,195.2 L668.6,194.7 L669.1,194.4 L669.6,194.2 L670.1,193.7 L670.6,193.1 L671.1,192.5 L671.6,191.9 L672.1,191.3 L672.6,190.6 L673.1,190.1 L673.6,189.4 L674.1,188.8 L674.6,188.4 L675.1,187.8 L675.6,187.1 L676.1,186.6 L676.6,186.3 L677.1,185.7 L677.6,185.0 L678.1,184.5 L678.6,184.0 L679.1,183.5 L679.6,182.9 L680.1,182.4 L680.6,181.9 L681.1,181.1 L681.6,180.6" stroke="#ff3c00" stroke-width="2.5"/>
<path d="M479.9,235.2 L480.4,235.2 L480.9,235.2 L481.4,235.2 L481.9,235.2 L482.4,235.2 L482.9,235.1 L483.4,235.0 L483.9,235.0 L484.4,234.9 L484.9,234.8 L485.4,234.7 L485.9,234.6 L486.4,234.5 L486.9,234.6 L487.4,234.6 L487.9,234.5 L488.4,234.6 L488.9,234.8 L489.4,234.7 L489.9,234.5 L490.4,234.4 L490.9,234.4 L491.4,234.3 L491.9,234.3 L492.4,234.2 L492.9,234.2 L493.4,234.0 L493.9,233.9 L494.4,233.9 L494.9,234.0 L495.4,234.0 L495.9,233.9 L496.4,233.9 L496.9,233.8 L497.4,233.5 L497.9,233.5 L498.4,233.5 L498.9,233.4 L499.4,233.3 L500.0,233.4 L500.5,233.3 L501.0,233.2 L501.5,233.3 L502.0,233.1 L502.5,233.0 L503.0,232.9 L503.5,233.0 L504.0,232.9 L504.5,232.7 L505.0,232.7 L505.5,232.6 L506.0,232.5 L506.5,232.5 L507.0,232.4 L507.5,232.0 L508.0,231.8 L508.5,231.5 L509.0,231.3 L509.5,231.0 L510.0,230.5 L510.5,229.8 L511.0,229.5 L511.5,229.5 L512.0,229.5 L512.5,229.6 L513.0,229.8 L513.5,229.9 L514.0,229.9 L514.5,229.8 L515.0,229.5 L515.5,229.0 L516.0,228.2 L516.5,227.2 L517.0,226.0 L517.5,224.4 L518.0,222.8 L518.5,221.2 L519.0,219.4 L519.5,217.5 L520.0,215.8 L520.5,214.2 L521.0,212.9 L521.5,211.9 L522.0,211.3 L522.5,211.4 L523.0,212.0 L523.5,213.3 L524.0,214.7 L524.5,216.2 L525.0,217.9 L525.5,219.6 L526.0,220.9 L526.5,222.3 L527.0,223.6 L527.5,224.8 L528.0,225.6 L528.5,226.3 L529.0,227.1 L529.5,227.7 L530.0,227.9 L530.5,227.9 L531.0,227.6 L531.5,227.3 L532.0,226.9 L532.5,226.5 L533.0,226.0 L533.5,225.3 L534.0,224.8 L534.5,225.0 L535.0,225.7 L535.5,226.9 L536.0,228.4 L536.5,229.6 L537.0,230.8 L537.5,232.0 L538.0,233.0 L538.5,233.9 L539.0,234.7 L539.5,235.2 L540.0,235.3 L540.5,235.6 L541.0,236.1 L541.5,236.2 L542.0,236.1 L542.5,235.8 L543.0,235.6 L543.5,235.4 L544.0,235.3 L544.5,234.9 L545.0,234.5 L545.5,234.3 L546.0,234.3 L546.5,234.8 L547.0,235.2 L547.5,235.5 L548.0,235.6 L548.5,235.3 L549.0,235.1 L549.5,235.0 L550.0,234.5 L550.5,234.0 L551.0,233.4 L551.5,232.8 L552.0,231.9 L552.5,230.7 L553.0,229.5 L553.5,228.4 L554.0,227.4 L554.5,226.8 L555.0,226.8 L555.5,227.2 L556.0,228.0 L556.5,229.0 L557.0,229.9 L557.5,230.5 L558.0,231.1 L558.5,231.9 L559.0,232.4 L559.5,232.5 L560.0,232.6 L560.5,232.8 L561.0,232.9 L561.5,233.0 L562.0,233.1 L562.5,233.1 L563.0,233.0 L563.5,232.9 L564.0,232.8 L564.5,232.7 L565.0,232.8 L565.5,232.6 L566.0,232.4 L566.5,232.1 L567.0,231.8 L567.5,231.3 L568.0,230.6 L568.5,230.0 L569.0,229.6 L569.5,229.2 L570.0,228.5 L570.5,227.9 L571.0,227.3 L571.5,226.5 L572.0,225.6 L572.5,224.6 L573.0,223.5 L573.5,222.2 L574.0,221.0 L574.5,220.0 L575.0,218.9 L575.5,218.0 L576.0,217.5 L576.5,217.4 L577.0,218.0 L577.5,218.9 L578.0,219.4 L578.5,219.4 L579.0,219.5 L579.5,219.3 L580.0,218.2 L580.5,216.7 L581.0,214.7 L581.5,212.6 L582.0,210.7 L582.5,209.9 L583.0,210.4 L583.5,212.1 L584.0,214.7 L584.5,217.4 L585.0,220.2 L585.5,222.8 L586.0,224.5 L586.5,225.8 L587.0,226.9 L587.5,227.8 L588.0,228.7 L588.5,229.5 L589.0,230.4 L589.5,231.2 L590.0,231.9 L590.5,232.3 L591.0,232.8 L591.5,233.3 L592.0,233.7 L592.5,233.9 L593.0,233.9 L593.5,234.0 L594.0,234.2 L594.5,234.1 L595.0,234.0 L595.5,233.9 L596.0,233.9 L596.5,234.0 L597.0,233.9 L597.5,233.7 L598.0,233.6 L598.5,233.6 L599.0,233.5 L599.5,233.5 L600.0,233.4 L600.5,233.1 L601.0,232.8 L601.5,232.7 L602.0,232.7 L602.5,232.7 L603.0,232.6 L603.5,232.6 L604.0,232.5 L604.5,232.1 L605.0,231.8 L605.5,231.7 L606.0,231.4 L606.5,230.8 L607.0,230.2 L607.5,229.7 L608.0,229.2 L608.5,228.7 L609.0,228.3 L609.5,228.1 L610.0,228.2 L610.5,228.3 L611.0,229.0 L611.5,229.9 L612.0,230.7 L612.5,231.3 L613.0,232.0 L613.5,232.8 L614.0,233.3 L614.5,233.9 L615.0,234.4 L615.5,234.9 L616.0,235.1 L616.5,235.1 L617.0,235.1 L617.5,235.2 L618.0,235.3 L618.5,235.5 L619.0,235.5 L619.5,235.3 L620.0,235.1 L620.5,234.9 L621.0,234.7 L621.5,234.4 L622.0,234.3 L622.5,234.2 L623.0,233.9 L623.5,233.7 L624.0,234.0 L624.5,234.1 L625.0,234.3 L625.5,234.7 L626.0,234.6 L626.5,234.5 L627.0,234.7 L627.5,234.9 L628.0,235.1 L628.5,235.2 L629.0,235.0 L629.5,234.4 L630.1,233.9 L630.6,233.3 L631.1,232.5 L631.6,231.6 L632.1,230.9 L632.6,229.9 L633.1,228.8 L633.6,228.0 L634.1,227.2 L634.6,226.2 L635.1,225.3 L635.6,224.2 L636.1,222.8 L636.6,221.3 L637.1,219.9 L637.6,218.3 L638.1,217.0 L638.6,215.8 L639.1,214.4 L639.6,213.5 L640.1,212.9 L640.6,212.0 L641.1,210.9 L641.6,209.5 L642.1,207.8 L642.6,205.6 L643.1,203.1 L643.6,200.4 L644.1,197.2 L644.6,194.3 L645.1,192.3 L645.6,191.6 L646.1,192.4 L646.6,194.8 L647.1,198.2 L647.6,201.7 L648.1,205.3 L648.6,209.1 L649.1,212.2 L649.6,214.8 L650.1,217.2 L650.6,219.3 L651.1,221.0 L651.6,222.4 L652.1,223.6 L652.6,224.7 L653.1,225.5 L653.6,226.3 L654.1,227.1 L654.6,227.6 L655.1,228.0 L655.6,228.2 L656.1,228.4 L656.6,228.9 L657.1,229.5 L657.6,230.1 L658.1,230.6 L658.6,230.9 L659.1,231.1 L659.6,231.5 L660.1,232.2 L660.6,232.8 L661.1,233.8 L661.6,234.6 L662.1,235.0 L662.6,235.0 L663.1,234.9 L663.6,234.9 L664.1,234.9 L664.6,234.8 L665.1,234.8 L665.6,235.0 L666.1,235.2 L666.6,235.4 L667.1,235.4 L667.6,235.1 L668.1,235.0 L668.6,235.0 L669.1,235.0 L669.6,234.9 L670.1,234.7 L670.6,234.4 L671.1,234.1 L671.6,233.8 L672.1,233.7 L672.6,233.5 L673.1,233.2 L673.6,232.9 L674.1,232.6 L674.6,232.5 L675.1,232.3 L675.6,232.0 L676.1,232.0 L676.6,232.1 L677.1,231.8 L677.6,231.3 L678.1,231.2 L678.6,231.0 L679.1,230.6 L679.6,230.5 L680.1,230.5 L680.6,230.3 L681.1,230.0 L681.6,229.7" stroke="#f01e05" stroke-width="2.5"/>
<path d="M479.9,265.6 L480.4,265.6 L480.9,265.5 L481.4,265.5 L481.9,265.5 L482.4,265.5 L482.9,265.3 L483.4,265.1 L483.9,265.1 L484.4,265.0 L484.9,264.7 L485.4,264.6 L485.9,264.7 L486.4,264.8 L486.9,264.8 L487.4,264.9 L487.9,265.2 L488.4,265.0 L488.9,264.7 L489.4,264.6 L489.9,264.6 L490.4,264.6 L490.9,264.6 L491.4,264.6 L491.9,264.5 L492.4,264.4 L492.9,264.2 L493.4,264.0 L493.9,264.1 L494.4,264.3 L494.9,264.1 L495.4,263.9 L495.9,264.0 L496.4,264.0 L496.9,263.9 L497.4,263.7 L497.9,263.7 L498.4,263.7 L498.9,263.8 L499.4,263.8 L500.0,263.8 L500.5,263.6 L501.0,263.4 L501.5,263.5 L502.0,263.6 L502.5,263.4 L503.0,263.2 L503.5,263.1 L504.0,263.0 L504.5,263.1 L505.0,263.2 L505.5,263.1 L506.0,263.0 L506.5,262.8 L507.0,262.5 L507.5,262.5 L508.0,262.3 L508.5,262.0 L509.0,261.6 L509.5,261.4 L510.0,261.1 L510.5,260.6 L511.0,260.3 L511.5,260.2 L512.0,260.2 L512.5,260.4 L513.0,260.5 L513.5,260.4 L514.0,260.4 L514.5,260.3 L515.0,259.8 L515.5,259.4 L516.0,259.1 L516.5,258.5 L517.0,257.6 L517.5,256.3 L518.0,255.1 L518.5,253.8 L519.0,252.4 L519.5,250.9 L520.0,249.5 L520.5,248.4 L521.0,247.3 L521.5,246.4 L522.0,246.1 L522.5,246.1 L523.0,246.4 L523.5,247.4 L524.0,248.9 L524.5,250.4 L525.0,251.6 L525.5,252.8 L526.0,254.0 L526.5,255.3 L527.0,256.4 L527.5,257.3 L528.0,258.0 L528.5,258.4 L529.0,258.9 L529.5,259.4 L530.0,259.6 L530.5,259.8 L531.0,259.7 L531.5,259.3 L532.0,259.0 L532.5,258.5 L533.0,257.9 L533.5,257.4 L534.0,257.2 L534.5,257.5 L535.0,258.2 L535.5,259.1 L536.0,260.1 L536.5,261.1 L537.0,262.2 L537.5,263.2 L538.0,264.0 L538.5,264.8 L539.0,265.4 L539.5,265.8 L540.0,266.0 L540.5,266.3 L541.0,266.5 L541.5,266.4 L542.0,266.5 L542.5,266.5 L543.0,266.3 L543.5,266.2 L544.0,266.1 L544.5,266.0 L545.0,265.7 L545.5,265.3 L546.0,265.4 L546.5,265.7 L547.0,265.9 L547.5,266.1 L548.0,266.3 L548.5,266.2 L549.0,265.8 L549.5,265.4 L550.0,265.3 L550.5,265.2 L551.0,264.8 L551.5,264.1 L552.0,263.3 L552.5,262.8 L553.0,262.1 L553.5,261.4 L554.0,260.7 L554.5,260.4 L555.0,260.4 L555.5,260.4 L556.0,260.7 L556.5,261.3 L557.0,262.0 L557.5,262.6 L558.0,263.0 L558.5,263.3 L559.0,263.7 L559.5,264.0 L560.0,264.1 L560.5,264.5 L561.0,264.5 L561.5,264.1 L562.0,264.2 L562.5,264.4 L563.0,264.5 L563.5,264.3 L564.0,263.8 L564.5,263.6 L565.0,263.7 L565.5,263.6 L566.0,263.4 L566.5,263.2 L567.0,263.0 L567.5,262.5 L568.0,261.9 L568.5,261.5 L569.0,261.0 L569.5,260.5 L570.0,260.0 L570.5,259.4 L571.0,258.7 L571.5,257.9 L572.0,257.0 L572.5,255.8 L573.0,254.2 L573.5,252.7 L574.0,251.1 L574.5,249.5 L575.0,248.3 L575.5,247.5 L576.0,247.2 L576.5,247.6 L577.0,248.5 L577.5,249.4 L578.0,250.3 L578.5,251.0 L579.0,251.2 L579.5,251.1 L580.0,250.6 L580.5,249.3 L581.0,247.5 L581.5,245.8 L582.0,244.4 L582.5,243.7 L583.0,244.2 L583.5,245.9 L584.0,248.2 L584.5,250.7 L585.0,253.2 L585.5,255.1 L586.0,256.7 L586.5,258.1 L587.0,259.2 L587.5,259.9 L588.0,260.4 L588.5,261.0 L589.0,261.7 L589.5,262.5 L590.0,263.1 L590.5,263.4 L591.0,263.8 L591.5,264.2 L592.0,264.4 L592.5,264.5 L593.0,264.8 L593.5,265.0 L594.0,264.9 L594.5,264.8 L595.0,265.0 L595.5,265.1 L596.0,265.1 L596.5,265.0 L597.0,265.0 L597.5,265.1 L598.0,264.8 L598.5,264.7 L599.0,264.7 L599.5,264.6 L600.0,264.5 L600.5,264.4 L601.0,264.3 L601.5,264.4 L602.0,264.2 L602.5,264.0 L603.0,264.0 L603.5,264.0 L604.0,264.0 L604.5,264.0 L605.0,263.7 L605.5,263.2 L606.0,262.7 L606.5,262.4 L607.0,262.1 L607.5,261.8 L608.0,261.1 L608.5,260.6 L609.0,260.2 L609.5,260.2 L610.0,260.6 L610.5,261.0 L611.0,261.3 L611.5,262.0 L612.0,262.5 L612.5,263.0 L613.0,263.7 L613.5,264.4 L614.0,264.8 L614.5,265.2 L615.0,265.6 L615.5,265.7 L616.0,265.9 L616.5,266.1 L617.0,265.9 L617.5,265.8 L618.0,265.9 L618.5,266.2 L619.0,266.2 L619.5,266.0 L620.0,266.0 L620.5,266.0 L621.0,265.7 L621.5,265.6 L622.0,265.5 L622.5,265.3 L623.0,265.1 L623.5,265.0 L624.0,265.1 L624.5,265.3 L625.0,265.4 L625.5,265.4 L626.0,265.5 L626.5,265.6 L627.0,265.7 L627.5,265.9 L628.0,266.1 L628.5,266.1 L629.0,266.1 L629.5,265.7 L630.1,265.3 L630.6,264.8 L631.1,264.2 L631.6,263.3 L632.1,262.5 L632.6,261.9 L633.1,261.3 L633.6,260.7 L634.1,260.0 L634.6,259.2 L635.1,258.3 L635.6,257.5 L636.1,256.4 L636.6,255.3 L637.1,254.4 L637.6,253.3 L638.1,252.2 L638.6,251.2 L639.1,250.2 L639.6,249.3 L640.1,248.7 L640.6,248.2 L641.1,247.4 L641.6,246.1 L642.1,244.4 L642.6,242.5 L643.1,240.5 L643.6,238.1 L644.1,235.4 L644.6,232.8 L645.1,231.2 L645.6,230.9 L646.1,231.6 L646.6,233.5 L647.1,236.5 L647.6,239.6 L648.1,242.3 L648.6,245.0 L649.1,247.6 L649.6,249.9 L650.1,251.9 L650.6,253.4 L651.1,254.5 L651.6,255.5 L652.1,256.7 L652.6,257.7 L653.1,258.5 L653.6,259.0 L654.1,259.4 L654.6,259.8 L655.1,260.3 L655.6,260.9 L656.1,261.1 L656.6,261.3 L657.1,261.6 L657.6,261.8 L658.1,262.1 L658.6,262.6 L659.1,263.2 L659.6,263.5 L660.1,264.0 L660.6,264.6 L661.1,265.7 L661.6,266.1 L662.1,266.1 L662.6,266.2 L663.1,266.3 L663.6,266.3 L664.1,266.3 L664.6,266.2 L665.1,266.1 L665.6,266.0 L666.1,266.0 L666.6,266.2 L667.1,266.3 L667.6,266.1 L668.1,265.8 L668.6,265.9 L669.1,266.1 L669.6,266.0 L670.1,265.9 L670.6,265.8 L671.1,265.4 L671.6,264.9 L672.1,264.7 L672.6,264.8 L673.1,264.7 L673.6,264.4 L674.1,264.2 L674.6,264.1 L675.1,263.9 L675.6,263.8 L676.1,263.6 L676.6,263.4 L677.1,263.1 L677.6,263.0 L678.1,262.8 L678.6,262.7 L679.1,262.7 L679.6,262.6 L680.1,262.4 L680.6,262.4 L681.1,262.2 L681.6,261.9" stroke="#c31900" stroke-width="2.5"/>
<path d="M479.9,290.3 L480.4,290.3 L480.9,290.3 L481.4,290.3 L481.9,290.4 L482.4,290.2 L482.9,290.2 L483.4,290.3 L483.9,290.2 L484.4,289.9 L484.9,289.8 L485.4,289.8 L485.9,289.7 L486.4,289.7 L486.9,289.7 L487.4,289.9 L487.9,289.9 L488.4,289.8 L488.9,289.6 L489.4,289.5 L489.9,289.5 L490.4,289.6 L490.9,289.7 L491.4,289.8 L491.9,289.7 L492.4,289.4 L492.9,289.2 L493.4,289.6 L493.9,289.8 L494.4,289.7 L494.9,289.7 L495.4,289.8 L495.9,289.8 L496.4,289.7 L496.9,289.6 L497.4,289.5 L497.9,289.4 L498.4,289.2 L498.9,289.1 L499.4,289.0 L500.0,289.1 L500.5,289.0 L501.0,288.9 L501.5,288.8 L502.0,288.9 L502.5,289.1 L503.0,289.0 L503.5,288.8 L504.0,288.6 L504.5,288.7 L505.0,288.8 L505.5,288.8 L506.0,288.8 L506.5,289.0 L507.0,288.9 L507.5,288.7 L508.0,288.4 L508.5,288.2 L509.0,288.1 L509.5,287.9 L510.0,287.5 L510.5,287.1 L511.0,286.8 L511.5,286.8 L512.0,287.1 L512.5,287.2 L513.0,287.2 L513.5,287.0 L514.0,286.9 L514.5,286.8 L515.0,286.8 L515.5,286.7 L516.0,286.4 L516.5,285.8 L517.0,285.0 L517.5,284.3 L518.0,283.7 L518.5,282.8 L519.0,281.9 L519.5,281.2 L520.0,280.2 L520.5,279.2 L521.0,278.4 L521.5,277.9 L522.0,277.8 L522.5,277.8 L523.0,278.2 L523.5,279.1 L524.0,279.9 L524.5,280.7 L525.0,281.4 L525.5,282.2 L526.0,283.2 L526.5,283.9 L527.0,284.4 L527.5,285.0 L528.0,285.4 L528.5,285.6 L529.0,286.0 L529.5,286.6 L530.0,286.9 L530.5,286.9 L531.0,286.6 L531.5,286.5 L532.0,286.5 L532.5,286.2 L533.0,285.9 L533.5,285.7 L534.0,285.7 L534.5,285.9 L535.0,286.3 L535.5,286.8 L536.0,287.4 L536.5,287.8 L537.0,288.1 L537.5,288.6 L538.0,289.2 L538.5,289.4 L539.0,289.4 L539.5,289.6 L540.0,290.1 L540.5,290.5 L541.0,290.4 L541.5,290.3 L542.0,290.1 L542.5,289.8 L543.0,289.8 L543.5,290.1 L544.0,289.9 L544.5,289.6 L545.0,289.7 L545.5,289.9 L546.0,289.8 L546.5,289.7 L547.0,289.7 L547.5,289.7 L548.0,289.9 L548.5,290.0 L549.0,289.8 L549.5,289.7 L550.0,289.6 L550.5,289.6 L551.0,289.2 L551.5,288.7 L552.0,288.5 L552.5,288.3 L553.0,287.7 L553.5,287.3 L554.0,286.9 L554.5,286.6 L555.0,286.7 L555.5,287.0 L556.0,287.3 L556.5,287.6 L557.0,288.0 L557.5,288.2 L558.0,288.4 L558.5,288.7 L559.0,289.0 L559.5,289.1 L560.0,288.9 L560.5,288.7 L561.0,288.7 L561.5,288.9 L562.0,288.8 L562.5,288.6 L563.0,288.7 L563.5,288.8 L564.0,288.7 L564.5,288.7 L565.0,288.9 L565.5,288.6 L566.0,288.2 L566.5,288.1 L567.0,288.1 L567.5,287.9 L568.0,287.6 L568.5,287.3 L569.0,286.9 L569.5,286.5 L570.0,286.2 L570.5,285.8 L571.0,285.2 L571.5,284.8 L572.0,284.5 L572.5,283.6 L573.0,282.8 L573.5,282.2 L574.0,281.2 L574.5,280.1 L575.0,279.2 L575.5,278.7 L576.0,278.6 L576.5,278.8 L577.0,279.3 L577.5,280.0 L578.0,280.4 L578.5,280.6 L579.0,280.9 L579.5,281.0 L580.0,280.5 L580.5,279.8 L581.0,279.3 L581.5,278.3 L582.0,277.3 L582.5,276.8 L583.0,277.3 L583.5,278.2 L584.0,279.5 L584.5,280.8 L585.0,282.2 L585.5,283.3 L586.0,284.1 L586.5,284.8 L587.0,285.6 L587.5,286.2 L588.0,286.6 L588.5,287.0 L589.0,287.4 L589.5,287.7 L590.0,288.0 L590.5,288.2 L591.0,288.5 L591.5,288.6 L592.0,288.8 L592.5,288.8 L593.0,288.6 L593.5,288.8 L594.0,289.0 L594.5,288.8 L595.0,288.8 L595.5,289.1 L596.0,289.1 L596.5,288.9 L597.0,288.8 L597.5,288.7 L598.0,288.8 L598.5,288.9 L599.0,288.9 L599.5,288.8 L600.0,288.8 L600.5,288.7 L601.0,288.6 L601.5,288.5 L602.0,288.5 L602.5,288.5 L603.0,288.5 L603.5,288.6 L604.0,288.8 L604.5,288.8 L605.0,288.6 L605.5,288.2 L606.0,288.0 L606.5,287.8 L607.0,287.6 L607.5,287.3 L608.0,287.3 L608.5,287.5 L609.0,287.5 L609.5,287.5 L610.0,287.6 L610.5,287.6 L611.0,287.6 L611.5,287.8 L612.0,288.3 L612.5,288.5 L613.0,288.6 L613.5,288.6 L614.0,288.9 L614.5,289.3 L615.0,289.3 L615.5,289.2 L616.0,289.3 L616.5,289.3 L617.0,289.3 L617.5,289.3 L618.0,289.4 L618.5,289.4 L619.0,289.5 L619.5,289.7 L620.0,289.8 L620.5,289.5 L621.0,289.2 L621.5,288.9 L622.0,288.8 L622.5,289.1 L623.0,289.1 L623.5,288.8 L624.0,288.8 L624.5,289.0 L625.0,288.8 L625.5,288.7 L626.0,289.0 L626.5,289.2 L627.0,289.1 L627.5,289.1 L628.0,289.3 L628.5,289.3 L629.0,289.1 L629.5,288.9 L630.1,288.6 L630.6,288.2 L631.1,287.9 L631.6,287.5 L632.1,287.2 L632.6,287.0 L633.1,286.4 L633.6,286.0 L634.1,285.8 L634.6,285.4 L635.1,284.9 L635.6,284.2 L636.1,283.6 L636.6,282.8 L637.1,282.0 L637.6,281.3 L638.1,280.7 L638.6,280.0 L639.1,279.4 L639.6,278.8 L640.1,278.5 L640.6,278.2 L641.1,277.9 L641.6,277.6 L642.1,276.9 L642.6,276.0 L643.1,275.0 L643.6,273.9 L644.1,272.7 L644.6,271.6 L645.1,270.5 L645.6,270.2 L646.1,270.7 L646.6,271.9 L647.1,273.1 L647.6,274.5 L648.1,275.9 L648.6,277.5 L649.1,278.9 L649.6,280.3 L650.1,281.4 L650.6,282.3 L651.1,283.0 L651.6,283.7 L652.1,284.2 L652.6,284.5 L653.1,284.9 L653.6,285.3 L654.1,285.7 L654.6,286.0 L655.1,286.2 L655.6,286.2 L656.1,286.6 L656.6,286.9 L657.1,287.0 L657.6,287.0 L658.1,287.1 L658.6,287.3 L659.1,287.6 L659.6,287.9 L660.1,288.0 L660.6,287.9 L661.1,287.9 L661.6,288.2 L662.1,288.6 L662.6,288.6 L663.1,288.5 L663.6,288.7 L664.1,288.8 L664.6,288.8 L665.1,289.0 L665.6,289.2 L666.1,289.1 L666.6,289.1 L667.1,289.2 L667.6,289.1 L668.1,289.1 L668.6,289.1 L669.1,288.9 L669.6,288.8 L670.1,288.8 L670.6,288.9 L671.1,288.9 L671.6,289.1 L672.1,289.2 L672.6,289.1 L673.1,289.2 L673.6,289.2 L674.1,289.0 L674.6,289.0 L675.1,289.2 L675.6,289.2 L676.1,289.1 L676.6,289.1 L677.1,289.0 L677.6,288.9 L678.1,289.0 L678.6,289.2 L679.1,289.2 L679.6,288.9 L680.1,288.8 L680.6,288.9 L681.1,288.9 L681.6,288.8" stroke="#960f00" stroke-width="2.5"/>
<path d="M479.9,315.1 L480.4,315.1 L480.9,315.1 L481.4,315.0 L481.9,314.9 L482.4,314.8 L482.9,314.8 L483.4,315.1 L483.9,315.1 L484.4,314.9 L484.9,315.0 L485.4,314.9 L485.9,314.9 L486.4,314.9 L486.9,314.9 L487.4,314.8 L487.9,314.8 L488.4,314.7 L488.9,314.6 L489.4,314.4 L489.9,314.4 L490.4,314.7 L490.9,314.7 L491.4,314.4 L491.9,314.5 L492.4,314.4 L492.9,314.2 L493.4,314.2 L493.9,314.5 L494.4,314.7 L494.9,314.7 L495.4,314.6 L495.9,314.5 L496.4,314.4 L496.9,314.2 L497.4,314.3 L497.9,314.3 L498.4,314.1 L498.9,314.2 L499.4,314.5 L500.0,314.6 L500.5,314.4 L501.0,314.1 L501.5,314.0 L502.0,314.1 L502.5,314.1 L503.0,313.9 L503.5,313.7 L504.0,313.7 L504.5,313.8 L505.0,313.9 L505.5,313.7 L506.0,313.6 L506.5,313.7 L507.0,313.7 L507.5,313.5 L508.0,313.4 L508.5,313.5 L509.0,313.4 L509.5,313.4 L510.0,313.2 L510.5,313.1 L511.0,313.0 L511.5,313.0 L512.0,312.8 L512.5,312.7 L513.0,312.6 L513.5,312.6 L514.0,312.5 L514.5,312.4 L515.0,312.2 L515.5,312.0 L516.0,311.8 L516.5,311.6 L517.0,311.4 L517.5,311.0 L518.0,310.6 L518.5,310.2 L519.0,309.5 L519.5,308.6 L520.0,307.9 L520.5,307.4 L521.0,306.9 L521.5,306.5 L522.0,306.3 L522.5,306.4 L523.0,306.9 L523.5,307.6 L524.0,308.1 L524.5,308.4 L525.0,308.8 L525.5,309.2 L526.0,309.7 L526.5,310.4 L527.0,310.9 L527.5,311.3 L528.0,311.6 L528.5,311.9 L529.0,312.2 L529.5,312.3 L530.0,312.4 L530.5,312.4 L531.0,312.4 L531.5,312.3 L532.0,312.0 L532.5,311.8 L533.0,311.7 L533.5,311.6 L534.0,311.5 L534.5,311.4 L535.0,311.6 L535.5,312.1 L536.0,312.6 L536.5,313.0 L537.0,313.6 L537.5,314.0 L538.0,314.3 L538.5,314.4 L539.0,314.6 L539.5,314.9 L540.0,314.9 L540.5,314.9 L541.0,315.1 L541.5,315.1 L542.0,315.0 L542.5,314.8 L543.0,314.8 L543.5,314.8 L544.0,314.8 L544.5,314.7 L545.0,314.6 L545.5,314.6 L546.0,314.6 L546.5,314.5 L547.0,314.5 L547.5,314.5 L548.0,314.7 L548.5,314.8 L549.0,314.7 L549.5,314.7 L550.0,314.6 L550.5,314.4 L551.0,314.3 L551.5,314.2 L552.0,314.0 L552.5,313.5 L553.0,313.1 L553.5,312.9 L554.0,312.8 L554.5,312.7 L555.0,312.6 L555.5,312.7 L556.0,313.0 L556.5,313.2 L557.0,313.2 L557.5,313.2 L558.0,313.4 L558.5,313.7 L559.0,313.9 L559.5,313.7 L560.0,313.7 L560.5,313.7 L561.0,313.7 L561.5,313.9 L562.0,313.8 L562.5,313.7 L563.0,313.9 L563.5,314.0 L564.0,313.8 L564.5,313.4 L565.0,313.4 L565.5,313.4 L566.0,313.2 L566.5,313.2 L567.0,313.2 L567.5,313.2 L568.0,312.9 L568.5,312.5 L569.0,312.4 L569.5,312.3 L570.0,311.8 L570.5,311.5 L571.0,311.1 L571.5,310.8 L572.0,310.6 L572.5,310.2 L573.0,309.5 L573.5,308.5 L574.0,307.7 L574.5,307.0 L575.0,306.1 L575.5,305.8 L576.0,306.1 L576.5,306.4 L577.0,306.6 L577.5,307.0 L578.0,307.4 L578.5,307.8 L579.0,308.0 L579.5,308.0 L580.0,307.9 L580.5,307.5 L581.0,307.0 L581.5,306.2 L582.0,305.5 L582.5,305.4 L583.0,305.6 L583.5,306.3 L584.0,307.3 L584.5,308.3 L585.0,309.1 L585.5,309.9 L586.0,310.5 L586.5,311.0 L587.0,311.6 L587.5,312.0 L588.0,312.2 L588.5,312.4 L589.0,312.7 L589.5,313.1 L590.0,313.3 L590.5,313.3 L591.0,313.5 L591.5,313.7 L592.0,313.9 L592.5,314.0 L593.0,313.7 L593.5,313.6 L594.0,313.7 L594.5,313.8 L595.0,314.0 L595.5,313.9 L596.0,313.8 L596.5,313.9 L597.0,313.9 L597.5,313.8 L598.0,313.8 L598.5,313.9 L599.0,313.9 L599.5,314.0 L600.0,313.7 L600.5,313.5 L601.0,313.5 L601.5,313.5 L602.0,313.7 L602.5,313.9 L603.0,313.7 L603.5,313.4 L604.0,313.3 L604.5,313.4 L605.0,313.5 L605.5,313.3 L606.0,313.3 L606.5,313.2 L607.0,312.9 L607.5,312.9 L608.0,312.8 L608.5,312.4 L609.0,312.3 L609.5,312.5 L610.0,312.5 L610.5,312.4 L611.0,312.4 L611.5,312.7 L612.0,313.0 L612.5,313.3 L613.0,313.7 L613.5,313.8 L614.0,313.9 L614.5,314.0 L615.0,314.1 L615.5,314.2 L616.0,314.2 L616.5,314.3 L617.0,314.4 L617.5,314.4 L618.0,314.4 L618.5,314.3 L619.0,314.2 L619.5,314.3 L620.0,314.5 L620.5,314.3 L621.0,313.9 L621.5,313.9 L622.0,313.8 L622.5,313.7 L623.0,313.7 L623.5,313.7 L624.0,313.7 L624.5,313.7 L625.0,313.8 L625.5,313.6 L626.0,313.6 L626.5,313.7 L627.0,313.8 L627.5,313.9 L628.0,313.9 L628.5,313.9 L629.0,314.0 L629.5,313.9 L630.1,313.8 L630.6,313.6 L631.1,313.2 L631.6,312.9 L632.1,312.6 L632.6,312.2 L633.1,312.0 L633.6,311.9 L634.1,311.5 L634.6,311.1 L635.1,310.9 L635.6,310.4 L636.1,309.8 L636.6,309.0 L637.1,308.5 L637.6,308.1 L638.1,307.7 L638.6,307.2 L639.1,306.7 L639.6,306.1 L640.1,305.7 L640.6,305.8 L641.1,305.8 L641.6,305.3 L642.1,304.7 L642.6,304.2 L643.1,303.5 L643.6,302.7 L644.1,301.8 L644.6,300.7 L645.1,299.9 L645.6,300.0 L646.1,300.4 L646.6,301.0 L647.1,301.9 L647.6,303.0 L648.1,304.1 L648.6,305.1 L649.1,306.1 L649.6,307.2 L650.1,308.2 L650.6,308.8 L651.1,309.1 L651.6,309.5 L652.1,309.8 L652.6,310.2 L653.1,310.9 L653.6,311.3 L654.1,311.2 L654.6,311.3 L655.1,311.6 L655.6,311.7 L656.1,311.9 L656.6,312.0 L657.1,312.2 L657.6,312.4 L658.1,312.4 L658.6,312.5 L659.1,312.7 L659.6,312.8 L660.1,312.8 L660.6,312.9 L661.1,313.1 L661.6,313.2 L662.1,313.4 L662.6,313.5 L663.1,313.6 L663.6,313.6 L664.1,313.6 L664.6,313.8 L665.1,314.0 L665.6,314.1 L666.1,314.0 L666.6,314.0 L667.1,313.8 L667.6,313.7 L668.1,313.7 L668.6,313.8 L669.1,313.9 L669.6,313.9 L670.1,313.9 L670.6,314.1 L671.1,314.2 L671.6,314.2 L672.1,314.1 L672.6,313.9 L673.1,313.8 L673.6,314.0 L674.1,314.1 L674.6,314.0 L675.1,313.9 L675.6,313.7 L676.1,313.7 L676.6,313.8 L677.1,313.7 L677.6,313.9 L678.1,314.1 L678.6,313.9 L679.1,313.7 L679.6,313.7 L680.1,313.8 L680.6,313.8 L681.1,314.0 L681.6,313.9" stroke="#640500" stroke-width="2.5"/>
</g>
<rect x="479.80" y="21.40" width="201.70" height="315.20" fill="none" stroke="#000" stroke-width="1.60"/>
<line x1="493.90" y1="336.60" x2="493.90" y2="333.40" stroke="#000" stroke-width="1.30"/>
<text x="493.90" y="346.80" font-size="8.60" font-weight="bold" text-anchor="middle" >1100</text>
<line x1="521.83" y1="336.60" x2="521.83" y2="333.40" stroke="#000" stroke-width="1.30"/>
<text x="521.83" y="346.80" font-size="8.60" font-weight="bold" text-anchor="middle" >1200</text>
<line x1="549.76" y1="336.60" x2="549.76" y2="333.40" stroke="#000" stroke-width="1.30"/>
<text x="549.76" y="346.80" font-size="8.60" font-weight="bold" text-anchor="middle" >1300</text>
<line x1="577.69" y1="336.60" x2="577.69" y2="333.40" stroke="#000" stroke-width="1.30"/>
<text x="577.69" y="346.80" font-size="8.60" font-weight="bold" text-anchor="middle" >1400</text>
<line x1="605.62" y1="336.60" x2="605.62" y2="333.40" stroke="#000" stroke-width="1.30"/>
<text x="605.62" y="346.80" font-size="8.60" font-weight="bold" text-anchor="middle" >1500</text>
<line x1="633.55" y1="336.60" x2="633.55" y2="333.40" stroke="#000" stroke-width="1.30"/>
<text x="633.55" y="346.80" font-size="8.60" font-weight="bold" text-anchor="middle" >1600</text>
<line x1="661.48" y1="336.60" x2="661.48" y2="333.40" stroke="#000" stroke-width="1.30"/>
<text x="661.48" y="346.80" font-size="8.60" font-weight="bold" text-anchor="middle" >1700</text>
<line x1="507.86" y1="336.60" x2="507.86" y2="334.80" stroke="#000" stroke-width="1.10"/>
<line x1="535.79" y1="336.60" x2="535.79" y2="334.80" stroke="#000" stroke-width="1.10"/>
<line x1="563.73" y1="336.60" x2="563.73" y2="334.80" stroke="#000" stroke-width="1.10"/>
<line x1="591.65" y1="336.60" x2="591.65" y2="334.80" stroke="#000" stroke-width="1.10"/>
<line x1="619.59" y1="336.60" x2="619.59" y2="334.80" stroke="#000" stroke-width="1.10"/>
<line x1="647.51" y1="336.60" x2="647.51" y2="334.80" stroke="#000" stroke-width="1.10"/>
<line x1="675.44" y1="336.60" x2="675.44" y2="334.80" stroke="#000" stroke-width="1.10"/>
<text x="680.30" y="61.70" font-size="7.45" font-weight="bold" text-anchor="end" >580 nm</text>
<text x="680.30" y="89.50" font-size="7.45" font-weight="bold" text-anchor="end" >590 nm</text>
<text x="680.30" y="119.60" font-size="7.45" font-weight="bold" text-anchor="end" >610 nm</text>
<text x="680.30" y="155.30" font-size="7.45" font-weight="bold" text-anchor="end" >620 nm</text>
<text x="680.30" y="182.30" font-size="7.45" font-weight="bold" text-anchor="end" >630 nm</text>
<text x="680.30" y="227.10" font-size="7.45" font-weight="bold" text-anchor="end" >640 nm</text>
<text x="680.30" y="260.40" font-size="7.45" font-weight="bold" text-anchor="end" >660 nm</text>
<text x="680.30" y="285.90" font-size="7.45" font-weight="bold" text-anchor="end" >670 nm</text>
<text x="680.30" y="311.50" font-size="7.45" font-weight="bold" text-anchor="end" >680 nm</text>
<text x="580.65" y="357.8" font-size="9.0" font-weight="bold" text-anchor="middle">Stokes Raman Shift (cm<tspan font-size="5.6" dy="-3.4">-1</tspan><tspan dy="3.4">)</tspan></text>
<text transform="translate(472.7,178.5) rotate(-90)" font-size="8.95" font-weight="bold" text-anchor="middle">Stimulated Raman Intensity (arb. units)</text>
<line x1="485.10" y1="23.80" x2="485.10" y2="45.70" stroke="#000" stroke-width="1.70"/>
<line x1="482.30" y1="23.80" x2="487.90" y2="23.80" stroke="#000" stroke-width="1.50"/>
<line x1="482.30" y1="45.70" x2="487.90" y2="45.70" stroke="#000" stroke-width="1.50"/>
<text x="486.80" y="38.80" font-size="8.80" font-weight="bold" text-anchor="start" >50 cps</text>
<text x="0.70" y="19.20" font-size="25.50" font-weight="bold" text-anchor="start" >a</text>
<text x="234.30" y="21.20" font-size="27.00" font-weight="bold" text-anchor="start" >b</text>
<text x="460.20" y="20.20" font-size="27.00" font-weight="bold" text-anchor="start" >c</text>
<text x="0.00" y="378.90" font-size="27.00" font-weight="bold" text-anchor="start" >d</text>
<text x="356.30" y="380.20" font-size="27.00" font-weight="bold" text-anchor="start" >e</text>
<g fill="none">
<circle cx="18.20" cy="455.70" r="2.1" stroke="#5abefa" stroke-width="1.2"/>
<circle cx="48.46" cy="445.70" r="2.1" stroke="#5abefa" stroke-width="1.2"/>
<circle cx="108.98" cy="437.40" r="2.1" stroke="#5abefa" stroke-width="1.2"/>
<circle cx="139.24" cy="420.70" r="2.1" stroke="#5abefa" stroke-width="1.2"/>
<circle cx="169.50" cy="409.70" r="2.1" stroke="#5abefa" stroke-width="1.2"/>
<circle cx="199.76" cy="399.50" r="2.1" stroke="#5abefa" stroke-width="1.2"/>
<circle cx="260.28" cy="438.20" r="2.1" stroke="#5abefa" stroke-width="1.2"/>
<circle cx="290.54" cy="453.60" r="2.1" stroke="#5abefa" stroke-width="1.2"/>
<circle cx="320.80" cy="460.60" r="2.1" stroke="#5abefa" stroke-width="1.2"/>
<path d="M18.20,518.80 L15.45,523.25 L20.95,523.25 Z" stroke="#a0f05a" stroke-width="1.2" stroke-linejoin="miter"/>
<path d="M48.46,517.20 L45.71,521.65 L51.21,521.65 Z" stroke="#a0f05a" stroke-width="1.2" stroke-linejoin="miter"/>
<path d="M108.98,507.90 L106.23,512.35 L111.73,512.35 Z" stroke="#a0f05a" stroke-width="1.2" stroke-linejoin="miter"/>
<path d="M139.24,491.30 L136.49,495.75 L141.99,495.75 Z" stroke="#a0f05a" stroke-width="1.2" stroke-linejoin="miter"/>
<path d="M169.50,466.30 L166.75,470.75 L172.25,470.75 Z" stroke="#a0f05a" stroke-width="1.2" stroke-linejoin="miter"/>
<path d="M199.76,463.40 L197.01,467.85 L202.51,467.85 Z" stroke="#a0f05a" stroke-width="1.2" stroke-linejoin="miter"/>
<path d="M260.28,510.50 L257.53,514.95 L263.03,514.95 Z" stroke="#a0f05a" stroke-width="1.2" stroke-linejoin="miter"/>
<path d="M290.54,513.30 L287.79,517.75 L293.29,517.75 Z" stroke="#a0f05a" stroke-width="1.2" stroke-linejoin="miter"/>
<path d="M320.80,521.50 L318.05,525.95 L323.55,525.95 Z" stroke="#a0f05a" stroke-width="1.2" stroke-linejoin="miter"/>
<path d="M18.20,582.10 L21.00,584.90 L18.20,587.70 L15.40,584.90 Z" stroke="#f07a85" stroke-width="1.1"/>
<path d="M48.46,574.20 L51.26,577.00 L48.46,579.80 L45.66,577.00 Z" stroke="#f07a85" stroke-width="1.1"/>
<path d="M108.98,567.70 L111.78,570.50 L108.98,573.30 L106.18,570.50 Z" stroke="#f07a85" stroke-width="1.1"/>
<path d="M139.24,559.50 L142.04,562.30 L139.24,565.10 L136.44,562.30 Z" stroke="#f07a85" stroke-width="1.1"/>
<path d="M169.50,551.40 L172.30,554.20 L169.50,557.00 L166.70,554.20 Z" stroke="#f07a85" stroke-width="1.1"/>
<path d="M199.76,529.30 L202.56,532.10 L199.76,534.90 L196.96,532.10 Z" stroke="#f07a85" stroke-width="1.1"/>
<path d="M260.28,544.20 L263.08,547.00 L260.28,549.80 L257.48,547.00 Z" stroke="#f07a85" stroke-width="1.1"/>
<path d="M290.54,568.50 L293.34,571.30 L290.54,574.10 L287.74,571.30 Z" stroke="#f07a85" stroke-width="1.1"/>
<path d="M320.80,579.30 L323.60,582.10 L320.80,584.90 L318.00,582.10 Z" stroke="#f07a85" stroke-width="1.1"/>
<path d="M18.2,455.6 L19.7,455.7 L21.2,455.7 L22.7,455.6 L24.3,455.6 L25.8,455.5 L27.3,455.5 L28.8,455.4 L30.3,455.3 L31.8,455.1 L33.3,455.0 L34.8,454.8 L36.4,454.6 L37.9,454.4 L39.4,454.2 L40.9,453.9 L42.4,453.7 L43.9,453.4 L45.4,453.1 L46.9,452.8 L48.5,452.5 L50.0,452.1 L51.5,451.8 L53.0,451.4 L54.5,451.0 L56.0,450.6 L57.5,450.2 L59.1,449.8 L60.6,449.3 L62.1,448.9 L63.6,448.4 L65.1,447.9 L66.6,447.4 L68.1,446.9 L69.6,446.4 L71.2,445.8 L72.7,445.3 L74.2,444.7 L75.7,444.1 L77.2,443.6 L78.7,443.0 L80.2,442.3 L81.7,441.7 L83.3,441.1 L84.8,440.4 L86.3,439.8 L87.8,439.1 L89.3,438.4 L90.8,437.8 L92.3,437.1 L93.8,436.4 L95.4,435.7 L96.9,434.9 L98.4,434.2 L99.9,433.5 L101.4,432.7 L102.9,432.0 L104.4,431.2 L106.0,430.4 L107.5,429.7 L109.0,428.9 L110.5,428.1 L112.0,427.3 L113.5,426.5 L115.0,425.7 L116.5,424.9 L118.1,424.0 L119.6,423.2 L121.1,422.4 L122.6,421.5 L124.1,420.7 L125.6,419.8 L127.1,419.0 L128.6,418.1 L130.2,417.3 L131.7,416.4 L133.2,415.6 L134.7,414.7 L136.2,413.8 L137.7,413.0 L139.2,412.1 L140.8,411.2 L142.3,410.4 L143.8,409.5 L145.3,408.7 L146.8,407.9 L148.3,407.1 L149.8,406.3 L151.3,405.6 L152.9,404.8 L154.4,404.2 L155.9,403.5 L157.4,402.9 L158.9,402.3 L160.4,401.7 L161.9,401.2 L163.4,400.7 L165.0,400.3 L166.5,400.0 L168.0,399.7 L169.5,399.4 L171.0,399.2 L172.5,399.1 L174.0,399.0 L175.6,399.0 L177.1,399.0 L178.6,399.1 L180.1,399.3 L181.6,399.6 L183.1,399.8 L184.6,400.2 L186.1,400.6 L187.7,401.0 L189.2,401.5 L190.7,402.0 L192.2,402.6 L193.7,403.2 L195.2,403.9 L196.7,404.6 L198.2,405.3 L199.8,406.1 L201.3,406.8 L202.8,407.7 L204.3,408.5 L205.8,409.4 L207.3,410.2 L208.8,411.1 L210.4,412.1 L211.9,413.0 L213.4,413.9 L214.9,414.9 L216.4,415.9 L217.9,416.8 L219.4,417.8 L220.9,418.8 L222.5,419.8 L224.0,420.7 L225.5,421.7 L227.0,422.7 L228.5,423.6 L230.0,424.5 L231.5,425.5 L233.0,426.4 L234.6,427.2 L236.1,428.1 L237.6,429.0 L239.1,429.8 L240.6,430.7 L242.1,431.5 L243.6,432.3 L245.1,433.1 L246.7,433.8 L248.2,434.6 L249.7,435.3 L251.2,436.1 L252.7,436.8 L254.2,437.5 L255.7,438.2 L257.3,438.8 L258.8,439.5 L260.3,440.2 L261.8,440.8 L263.3,441.4 L264.8,442.0 L266.3,442.6 L267.8,443.2 L269.4,443.7 L270.9,444.3 L272.4,444.8 L273.9,445.4 L275.4,445.9 L276.9,446.4 L278.4,446.8 L279.9,447.3 L281.5,447.8 L283.0,448.2 L284.5,448.7 L286.0,449.1 L287.5,449.5 L289.0,449.9 L290.5,450.3 L292.1,450.6 L293.6,451.0 L295.1,451.3 L296.6,451.7 L298.1,452.0 L299.6,452.3 L301.1,452.6 L302.6,452.9 L304.2,453.1 L305.7,453.4 L307.2,453.6 L308.7,453.9 L310.2,454.1 L311.7,454.3 L313.2,454.5 L314.7,454.7 L316.3,454.8 L317.8,455.0 L319.3,455.2 L320.8,455.3" stroke="#5abefa" stroke-width="1.3"/>
<path d="M18.2,526.3 L19.7,526.3 L21.2,526.3 L22.7,526.3 L24.3,526.3 L25.8,526.3 L27.3,526.3 L28.8,526.3 L30.3,526.3 L31.8,526.3 L33.3,526.3 L34.8,526.2 L36.4,526.2 L37.9,526.2 L39.4,526.2 L40.9,526.2 L42.4,526.2 L43.9,526.2 L45.4,526.1 L46.9,526.1 L48.5,526.1 L50.0,526.1 L51.5,526.0 L53.0,526.0 L54.5,526.0 L56.0,525.9 L57.5,525.9 L59.1,525.8 L60.6,525.7 L62.1,525.7 L63.6,525.6 L65.1,525.5 L66.6,525.4 L68.1,525.3 L69.6,525.2 L71.2,525.1 L72.7,525.0 L74.2,524.8 L75.7,524.7 L77.2,524.5 L78.7,524.3 L80.2,524.1 L81.7,523.9 L83.3,523.7 L84.8,523.4 L86.3,523.2 L87.8,522.9 L89.3,522.6 L90.8,522.2 L92.3,521.9 L93.8,521.5 L95.4,521.1 L96.9,520.7 L98.4,520.2 L99.9,519.7 L101.4,519.2 L102.9,518.6 L104.4,518.1 L106.0,517.4 L107.5,516.8 L109.0,516.1 L110.5,515.4 L112.0,514.6 L113.5,513.8 L115.0,513.0 L116.5,512.2 L118.1,511.3 L119.6,510.3 L121.1,509.4 L122.6,508.4 L124.1,507.3 L125.6,506.3 L127.1,505.2 L128.6,504.0 L130.2,502.9 L131.7,501.7 L133.2,500.5 L134.7,499.2 L136.2,498.0 L137.7,496.7 L139.2,495.4 L140.8,494.1 L142.3,492.7 L143.8,491.4 L145.3,490.1 L146.8,488.7 L148.3,487.4 L149.8,486.0 L151.3,484.7 L152.9,483.4 L154.4,482.1 L155.9,480.8 L157.4,479.6 L158.9,478.3 L160.4,477.1 L161.9,476.0 L163.4,474.9 L165.0,473.8 L166.5,472.8 L168.0,471.8 L169.5,470.9 L171.0,470.0 L172.5,469.2 L174.0,468.5 L175.6,467.8 L177.1,467.3 L178.6,466.7 L180.1,466.3 L181.6,465.9 L183.1,465.6 L184.6,465.4 L186.1,465.3 L187.7,465.2 L189.2,465.3 L190.7,465.4 L192.2,465.5 L193.7,465.8 L195.2,466.2 L196.7,466.6 L198.2,467.1 L199.8,467.6 L201.3,468.3 L202.8,469.0 L204.3,469.8 L205.8,470.6 L207.3,471.5 L208.8,472.4 L210.4,473.4 L211.9,474.5 L213.4,475.6 L214.9,476.7 L216.4,477.9 L217.9,479.1 L219.4,480.4 L220.9,481.6 L222.5,482.9 L224.0,484.2 L225.5,485.6 L227.0,486.9 L228.5,488.2 L230.0,489.6 L231.5,490.9 L233.0,492.3 L234.6,493.6 L236.1,494.9 L237.6,496.2 L239.1,497.5 L240.6,498.8 L242.1,500.0 L243.6,501.3 L245.1,502.5 L246.7,503.6 L248.2,504.8 L249.7,505.9 L251.2,507.0 L252.7,508.0 L254.2,509.0 L255.7,510.0 L257.3,510.9 L258.8,511.9 L260.3,512.7 L261.8,513.6 L263.3,514.4 L264.8,515.1 L266.3,515.9 L267.8,516.6 L269.4,517.2 L270.9,517.8 L272.4,518.4 L273.9,519.0 L275.4,519.5 L276.9,520.0 L278.4,520.5 L279.9,520.9 L281.5,521.4 L283.0,521.8 L284.5,522.1 L286.0,522.5 L287.5,522.8 L289.0,523.1 L290.5,523.3 L292.1,523.6 L293.6,523.8 L295.1,524.1 L296.6,524.3 L298.1,524.4 L299.6,524.6 L301.1,524.8 L302.6,524.9 L304.2,525.1 L305.7,525.2 L307.2,525.3 L308.7,525.4 L310.2,525.5 L311.7,525.6 L313.2,525.6 L314.7,525.7 L316.3,525.8 L317.8,525.8 L319.3,525.9 L320.8,525.9" stroke="#6eb932" stroke-width="1.3"/>
<path d="M18.2,595.3 L19.7,595.3 L21.2,595.3 L22.7,595.3 L24.3,595.2 L25.8,595.2 L27.3,595.2 L28.8,595.2 L30.3,595.1 L31.8,595.1 L33.3,595.1 L34.8,595.1 L36.4,595.0 L37.9,595.0 L39.4,594.9 L40.9,594.9 L42.4,594.8 L43.9,594.8 L45.4,594.7 L46.9,594.7 L48.5,594.6 L50.0,594.6 L51.5,594.5 L53.0,594.4 L54.5,594.3 L56.0,594.2 L57.5,594.1 L59.1,594.0 L60.6,593.9 L62.1,593.8 L63.6,593.7 L65.1,593.6 L66.6,593.4 L68.1,593.3 L69.6,593.1 L71.2,593.0 L72.7,592.8 L74.2,592.6 L75.7,592.4 L77.2,592.2 L78.7,592.0 L80.2,591.8 L81.7,591.6 L83.3,591.3 L84.8,591.0 L86.3,590.8 L87.8,590.5 L89.3,590.2 L90.8,589.8 L92.3,589.5 L93.8,589.1 L95.4,588.8 L96.9,588.4 L98.4,588.0 L99.9,587.6 L101.4,587.1 L102.9,586.7 L104.4,586.2 L106.0,585.7 L107.5,585.2 L109.0,584.6 L110.5,584.1 L112.0,583.5 L113.5,582.9 L115.0,582.3 L116.5,581.7 L118.1,581.0 L119.6,580.3 L121.1,579.6 L122.6,578.9 L124.1,578.2 L125.6,577.4 L127.1,576.6 L128.6,575.9 L130.2,575.0 L131.7,574.2 L133.2,573.4 L134.7,572.5 L136.2,571.6 L137.7,570.7 L139.2,569.8 L140.8,568.9 L142.3,567.9 L143.8,567.0 L145.3,566.0 L146.8,565.0 L148.3,564.1 L149.8,563.1 L151.3,562.1 L152.9,561.1 L154.4,560.1 L155.9,559.0 L157.4,558.0 L158.9,557.0 L160.4,556.0 L161.9,555.0 L163.4,554.0 L165.0,553.0 L166.5,552.0 L168.0,551.0 L169.5,550.1 L171.0,549.1 L172.5,548.2 L174.0,547.3 L175.6,546.4 L177.1,545.5 L178.6,544.6 L180.1,543.8 L181.6,543.0 L183.1,542.2 L184.6,541.4 L186.1,540.7 L187.7,540.0 L189.2,539.4 L190.7,538.7 L192.2,538.2 L193.7,537.6 L195.2,537.1 L196.7,536.6 L198.2,536.2 L199.8,535.8 L201.3,535.5 L202.8,535.1 L204.3,534.9 L205.8,534.7 L207.3,534.5 L208.8,534.4 L210.4,534.3 L211.9,534.3 L213.4,534.3 L214.9,534.4 L216.4,534.5 L217.9,534.6 L219.4,534.8 L220.9,535.1 L222.5,535.4 L224.0,535.7 L225.5,536.1 L227.0,536.5 L228.5,537.0 L230.0,537.5 L231.5,538.0 L233.0,538.6 L234.6,539.2 L236.1,539.9 L237.6,540.6 L239.1,541.3 L240.6,542.0 L242.1,542.8 L243.6,543.6 L245.1,544.5 L246.7,545.3 L248.2,546.2 L249.7,547.1 L251.2,548.0 L252.7,548.9 L254.2,549.9 L255.7,550.9 L257.3,551.8 L258.8,552.8 L260.3,553.8 L261.8,554.8 L263.3,555.8 L264.8,556.8 L266.3,557.8 L267.8,558.8 L269.4,559.9 L270.9,560.9 L272.4,561.9 L273.9,562.9 L275.4,563.9 L276.9,564.8 L278.4,565.8 L279.9,566.8 L281.5,567.7 L283.0,568.7 L284.5,569.6 L286.0,570.5 L287.5,571.4 L289.0,572.3 L290.5,573.2 L292.1,574.0 L293.6,574.9 L295.1,575.7 L296.6,576.5 L298.1,577.3 L299.6,578.0 L301.1,578.8 L302.6,579.5 L304.2,580.2 L305.7,580.9 L307.2,581.5 L308.7,582.2 L310.2,582.8 L311.7,583.4 L313.2,584.0 L314.7,584.5 L316.3,585.1 L317.8,585.6 L319.3,586.1 L320.8,586.6" stroke="#f0646e" stroke-width="1.3"/>
</g>
<rect x="18.20" y="371.40" width="302.60" height="243.20" fill="none" stroke="#000" stroke-width="1.60"/>
<line x1="18.20" y1="614.60" x2="18.20" y2="610.80" stroke="#000" stroke-width="1.30"/>
<text x="18.20" y="626.60" font-size="8.80" font-weight="bold" text-anchor="middle" >580</text>
<line x1="78.72" y1="614.60" x2="78.72" y2="610.80" stroke="#000" stroke-width="1.30"/>
<text x="78.72" y="626.60" font-size="8.80" font-weight="bold" text-anchor="middle" >600</text>
<line x1="139.24" y1="614.60" x2="139.24" y2="610.80" stroke="#000" stroke-width="1.30"/>
<text x="139.24" y="626.60" font-size="8.80" font-weight="bold" text-anchor="middle" >620</text>
<line x1="199.76" y1="614.60" x2="199.76" y2="610.80" stroke="#000" stroke-width="1.30"/>
<text x="199.76" y="626.60" font-size="8.80" font-weight="bold" text-anchor="middle" >640</text>
<line x1="260.28" y1="614.60" x2="260.28" y2="610.80" stroke="#000" stroke-width="1.30"/>
<text x="260.28" y="626.60" font-size="8.80" font-weight="bold" text-anchor="middle" >660</text>
<line x1="320.80" y1="614.60" x2="320.80" y2="610.80" stroke="#000" stroke-width="1.30"/>
<text x="320.80" y="626.60" font-size="8.80" font-weight="bold" text-anchor="middle" >680</text>
<line x1="48.46" y1="614.60" x2="48.46" y2="612.60" stroke="#000" stroke-width="1.10"/>
<line x1="108.98" y1="614.60" x2="108.98" y2="612.60" stroke="#000" stroke-width="1.10"/>
<line x1="169.50" y1="614.60" x2="169.50" y2="612.60" stroke="#000" stroke-width="1.10"/>
<line x1="230.02" y1="614.60" x2="230.02" y2="612.60" stroke="#000" stroke-width="1.10"/>
<line x1="290.54" y1="614.60" x2="290.54" y2="612.60" stroke="#000" stroke-width="1.10"/>
<text x="169.5" y="638.7" font-size="10.3" font-weight="bold" text-anchor="middle">Wavelength (nm)</text>
<text transform="translate(11.9,487.3) rotate(-90)" font-size="8.55" font-weight="bold" text-anchor="middle">Peak Intensity of Raman Band</text>
<text x="319.0" y="428.90" font-size="8.0" font-weight="bold" text-anchor="end">pNTP: 1560 cm<tspan font-size="5.2" dy="-3.0">-1</tspan></text>
<text x="319.0" y="494.00" font-size="8.0" font-weight="bold" text-anchor="end">PIC: 1610 cm<tspan font-size="5.2" dy="-3.0">-1</tspan></text>
<text x="319.0" y="553.60" font-size="8.0" font-weight="bold" text-anchor="end">MG: 1600 cm<tspan font-size="5.2" dy="-3.0">-1</tspan></text>
<defs>
<linearGradient id="gb" x1="0" x2="1" y1="0" y2="0"><stop offset="0" stop-color="#4b94ea"/><stop offset="0.15" stop-color="#5ea4ee"/><stop offset="0.45" stop-color="#b6e8fa"/><stop offset="0.55" stop-color="#bcebfa"/><stop offset="0.85" stop-color="#60a4ee"/><stop offset="1" stop-color="#4b94ea"/></linearGradient>
<linearGradient id="gg" x1="0" x2="1" y1="0" y2="0"><stop offset="0" stop-color="#507e20"/><stop offset="0.12" stop-color="#6a9440"/><stop offset="0.45" stop-color="#d6f8b8"/><stop offset="0.55" stop-color="#dcfabe"/><stop offset="0.85" stop-color="#8aac60"/><stop offset="1" stop-color="#507e20"/></linearGradient>
<linearGradient id="gr" x1="0" x2="1" y1="0" y2="0"><stop offset="0" stop-color="#cc2222"/><stop offset="0.12" stop-color="#d24a50"/><stop offset="0.45" stop-color="#ec8c92"/><stop offset="0.55" stop-color="#ec8e94"/><stop offset="0.85" stop-color="#d0444a"/><stop offset="1" stop-color="#cc2222"/></linearGradient>
</defs>
<rect x="416.30" y="489.80" width="25.80" height="127.00" fill="url(#gb)"/>
<line x1="429.20" y1="485.90" x2="429.20" y2="494.20" stroke="#000" stroke-width="1.10"/>
<line x1="426.20" y1="485.90" x2="432.20" y2="485.90" stroke="#000" stroke-width="1.10"/>
<line x1="426.20" y1="494.20" x2="432.20" y2="494.20" stroke="#000" stroke-width="1.10"/>
<text x="430.60" y="476.60" font-size="10.4" font-weight="bold" text-anchor="middle">5.1 × 10<tspan font-size="6.8" dy="-4.0">6</tspan></text>
<text x="429.20" y="630.40" font-size="10.00" font-weight="bold" text-anchor="middle" >pNTP</text>
<rect x="518.10" y="499.90" width="25.30" height="116.90" fill="url(#gg)"/>
<line x1="530.75" y1="493.80" x2="530.75" y2="505.90" stroke="#000" stroke-width="1.10"/>
<line x1="527.75" y1="493.80" x2="533.75" y2="493.80" stroke="#000" stroke-width="1.10"/>
<line x1="527.75" y1="505.90" x2="533.75" y2="505.90" stroke="#000" stroke-width="1.10"/>
<text x="532.40" y="482.40" font-size="10.4" font-weight="bold" text-anchor="middle">4.7 × 10<tspan font-size="6.8" dy="-4.0">6</tspan></text>
<text x="530.75" y="630.40" font-size="10.00" font-weight="bold" text-anchor="middle" >PIC</text>
<rect x="619.30" y="411.90" width="25.70" height="204.90" fill="url(#gr)"/>
<line x1="632.15" y1="406.00" x2="632.15" y2="418.50" stroke="#000" stroke-width="1.10"/>
<line x1="629.15" y1="406.00" x2="635.15" y2="406.00" stroke="#000" stroke-width="1.10"/>
<line x1="629.15" y1="418.50" x2="635.15" y2="418.50" stroke="#000" stroke-width="1.10"/>
<text x="633.20" y="403.60" font-size="10.4" font-weight="bold" text-anchor="middle">8.2 × 10<tspan font-size="6.8" dy="-4.0">6</tspan></text>
<text x="632.15" y="630.40" font-size="10.00" font-weight="bold" text-anchor="middle" >MG</text>
<rect x="378.50" y="369.90" width="304.10" height="246.90" fill="none" stroke="#000" stroke-width="1.60"/>
<text transform="translate(373.4,491.8) rotate(-90)" font-size="10.6" font-weight="bold" text-anchor="middle">Enhancement Factor</text>
</svg></body></html>
